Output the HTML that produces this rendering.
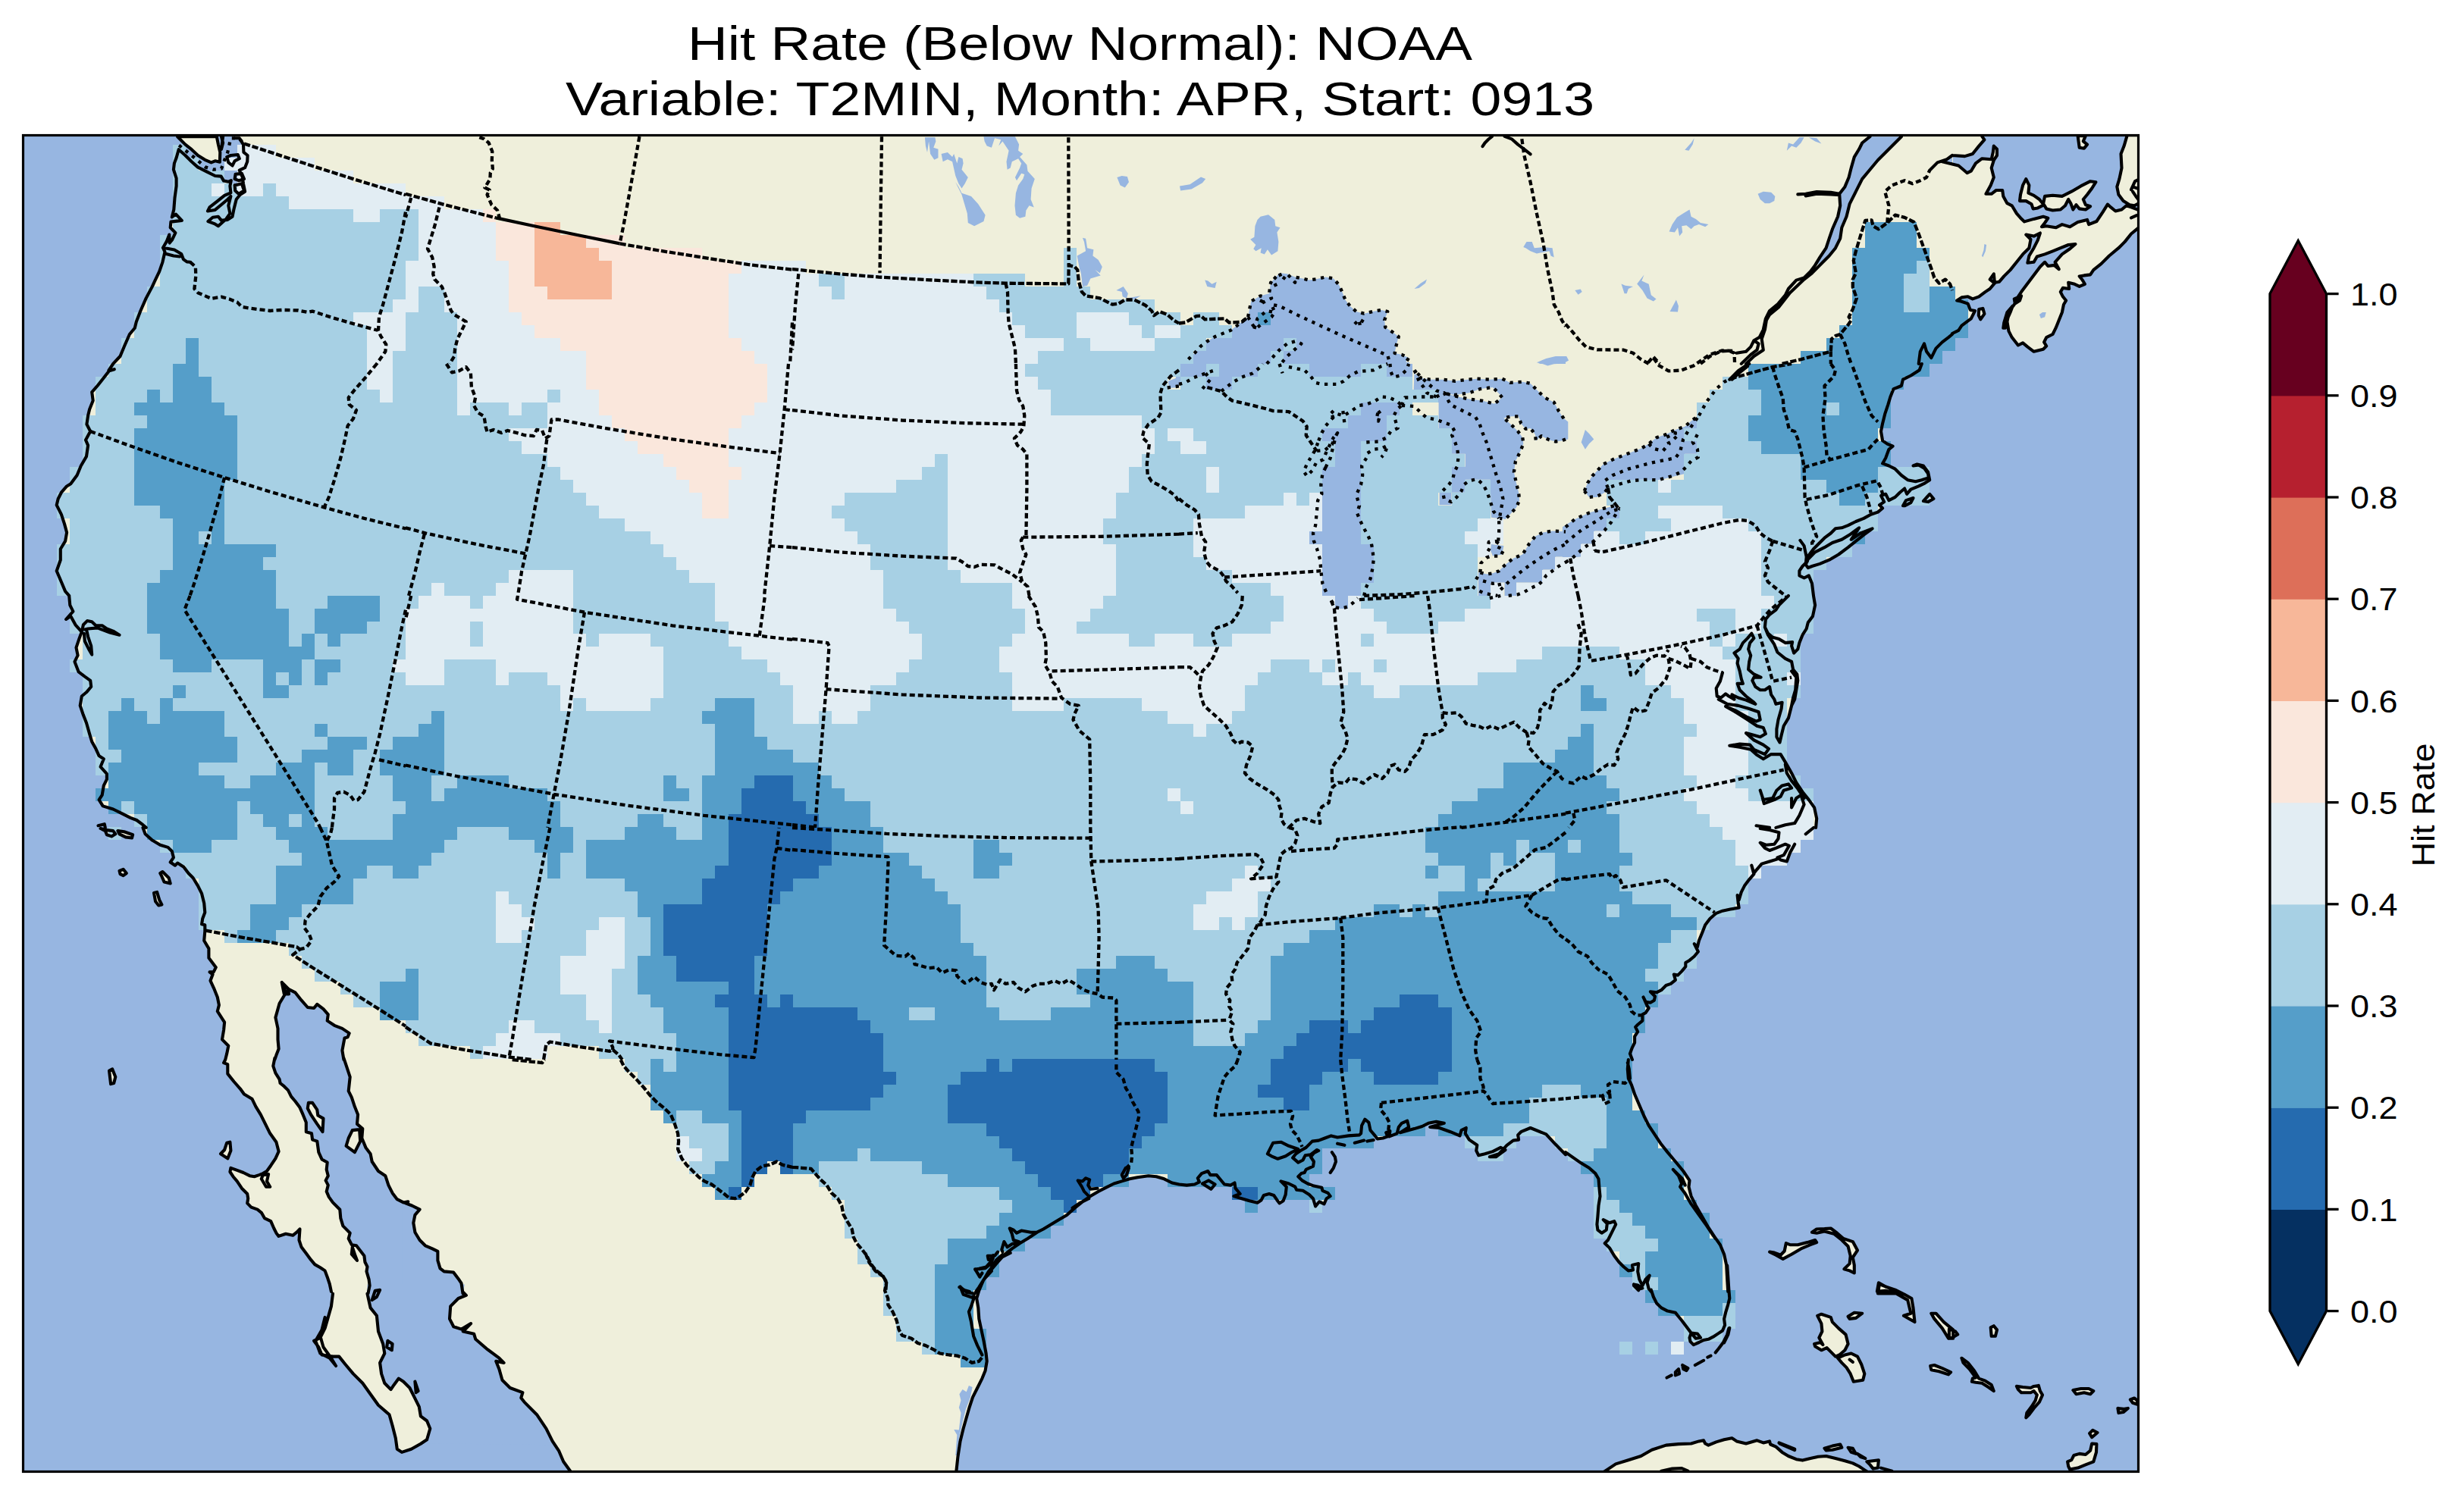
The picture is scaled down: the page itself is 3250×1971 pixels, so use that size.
<!DOCTYPE html>
<html><head><meta charset="utf-8"><title>Hit Rate (Below Normal): NOAA</title>
<style>
html,body{margin:0;padding:0;background:#fff;}
body{width:3250px;height:1971px;overflow:hidden;position:relative;font-family:"Liberation Sans",sans-serif;}
svg{position:absolute;left:0;top:0;display:block}
text{font-family:"Liberation Sans",sans-serif;fill:#000}
</style></head><body>
<svg xmlns="http://www.w3.org/2000/svg" width="3250" height="1971" viewBox="0 0 3250 1971">
<defs><clipPath id="fr"><rect x="30.5" y="178.5" width="2790" height="1763"/></clipPath></defs>
<text x="1424.5" y="79" text-anchor="middle" font-size="63.8" textLength="1035" lengthAdjust="spacingAndGlyphs">Hit Rate (Below Normal): NOAA</text>
<text x="1424.5" y="152" text-anchor="middle" font-size="63.8" textLength="1357" lengthAdjust="spacingAndGlyphs">Variable: T2MIN, Month: APR, Start: 0913</text>
<g clip-path="url(#fr)">
<rect x="29" y="177" width="2793" height="1766" fill="#97b6e1"/>
<g fill="#efefdb"><path d="M234.1 180.2 L244.4 190.6 L252.7 197.2 L261 205 L270.3 210.8 L278.6 214.4 L283.7 212.3 L289.9 213.7 L290.3 200.9 L287.9 190.6 L285.8 180.2Z"/><path d="M2575 216.4 L2583.3 218.5 L2589.5 223.7 L2594.7 228.2 L2599.8 225.7 L2606 215.4 L2614.3 209.2 L2626.7 210.2 L2628.8 200.9 L2629.8 192.6 L2634 196.8 L2634 205 L2629.8 211.3 L2626.7 221.6 L2629.8 234 L2625.7 244.4 L2619.5 255.8 L2626.7 255.8 L2633 251 L2641.2 251 L2642.3 258.9 L2647.4 268.2 L2653.7 271.3 L2659.9 281.6 L2665 287.4 L2670.2 292.4 L2682.6 288.9 L2695 285.8 L2701.3 287.8 L2697.1 294 L2693 299.2 L2699.2 298.2 L2711.6 300.3 L2719.9 296.1 L2730.2 299.2 L2740.6 293 L2753 289.9 L2755.1 296.1 L2765.4 292 L2773.7 279.6 L2779.9 269.6 L2784.1 273.4 L2790.3 278.5 L2798.5 276.5 L2804.7 271.3 L2811 273.4 L2822.3 277.5 L2822.3 299.2 L2811 308.5 L2802.7 318.9 L2794.4 327.2 L2782 337.5 L2771.6 347.9 L2761.3 356.1 L2757.1 362.4 L2748.9 363.4 L2742.7 364.4 L2746.8 369.6 L2749.9 374.8 L2742.7 377.9 L2736.4 374.8 L2728.2 372.7 L2729.2 381 L2720.9 379.9 L2717.8 385.1 L2720.9 391.3 L2725.1 396.5 L2722 401.7 L2719.9 412 L2715.7 422.4 L2711.6 432.7 L2707.5 441 L2699.2 445.1 L2696.1 451.4 L2699.2 456.5 L2695 460.7 L2686.8 462.7 L2682.6 463.8 L2674.4 457.6 L2668.1 452.4 L2661.9 455.5 L2653.7 445.1 L2649.5 436.9 L2647.4 424.4 L2650.5 410 L2656.8 401.7 L2661.9 391.3 L2666.1 385.1 L2672.3 376.8 L2678.5 368.6 L2684.7 360.3 L2690.9 352 L2697.1 345.8 L2701.3 351 L2709.5 349.9 L2715.7 355.1 L2710.6 345.8 L2719.9 335.4 L2730.2 328.2 L2737.5 322 L2728.2 323 L2717.8 327.2 L2707.5 331.3 L2697.1 335.4 L2686.8 338.5 L2682.6 345.8 L2674.4 346.8 L2676.4 337.5 L2682.6 327.2 L2687.8 316.8 L2690.9 307.5 L2682.6 311.6 L2672.3 309.6 L2678.5 315.8 L2676.4 327.2 L2668.1 335.4 L2659.9 345.8 L2651.6 356.1 L2643.3 364.4 L2637.1 371.7 L2630.9 372.7 L2629.8 361.3 L2624.7 368.6 L2630.9 373.7 L2624.7 381 L2618.5 385.1 L2610.2 391.3 L2601.9 394.4 L2595.7 391.3 L2587.4 392.4 L2581.2 396.5 L2586.4 397.5 L2595.7 400.6 L2598.8 408.9 L2605 410 L2599.8 420.3 L2595.7 423.4 L2587.4 429.6 L2583.3 435.8 L2575 440 L2570.9 440 L2570.9 216.4Z"/><path d="M2570.9 178.1 L2614.3 178.1 L2617.4 184.3 L2610.2 192.6 L2601.9 203 L2591.6 206.1 L2575 205 L2570.9 205Z"/><path d="M2664 265.1 L2665 256.8 L2668.1 244.4 L2672.3 236.1 L2676.4 244.4 L2675.4 254.7 L2682.6 257.8 L2689.9 263 L2695 269.2 L2697.1 258.9 L2707.5 257.8 L2719.9 258.9 L2732.3 252.7 L2744.7 245.4 L2757.1 239.2 L2764.4 240.2 L2759.2 248.5 L2753 256.8 L2747.8 263 L2750.9 270.2 L2757.1 272.3 L2750.9 276.5 L2742.7 275.4 L2738.5 270.2 L2734.4 276.5 L2731.3 268.2 L2728.2 263 L2724 271.3 L2717.8 276.5 L2707.5 277.5 L2699.2 275.4 L2696.1 270.2 L2687.8 274.4 L2681.6 275.4 L2679.5 269.2 L2672.3 265.1Z"/><path d="M2740.6 179.2 L2742.7 194.7 L2748.9 195.7 L2753 190.6 L2747.8 186.4 L2750.9 179.2Z"/><path d="M2805.8 178.1 L2801.6 192.6 L2797.5 203 L2798.5 221.6 L2795.4 236.1 L2792.3 246.4 L2794.4 256.8 L2800.6 265.1 L2808.9 270.2 L2815.1 271.3 L2823.4 267.1 L2823.4 178.1Z"/><path d="M2610.2 407.9 L2615.4 406.9 L2617.4 414.1 L2612.3 421.3 L2609.8 416.2Z"/><path d="M2384.8 737.7 L2394.1 728.4 L2406.5 722.2 L2416.9 716 L2429.3 711.8 L2439.6 705.6 L2447.9 699.4 L2452.1 696.3 L2445.8 705.6 L2441.7 711.8 L2454.1 703.5 L2469.6 697.3 L2458.3 705.6 L2447.9 713.9 L2437.6 722.2 L2425.1 731.5 L2412.7 738.7 L2400.3 743.9 L2390 747 L2384.8 749.1 L2381.7 744.9Z"/><path d="M2510 667.3 L2514.1 660.1 L2523.5 657 L2520.4 663.2 L2512.1 667.3Z"/><path d="M2536.9 661.1 L2545.2 651.8 L2550.4 658 L2543.1 662.1Z"/><path d="M132.6 1093 L140.9 1095.1 L149.2 1096.1 L152.3 1100.3 L147.1 1103.4 L140.9 1101.3 L138.8 1096.1Z"/><path d="M155.4 1096.1 L163.7 1097.2 L175.1 1101.3 L174 1105.5 L165.7 1104.4 L157.5 1100.3Z"/><path d="M157.5 1148.9 L162.6 1146.8 L166.8 1152 L162.6 1155.1 L158.5 1153.1Z"/><path d="M211.3 1152 L214.4 1150 L222.7 1158.2 L224.7 1165.5 L216.5 1163.4 L213.4 1156.2Z"/><path d="M203 1177.9 L207.1 1176.9 L210.2 1187.2 L213.4 1193.4 L209.2 1194.5 L205.1 1189.3Z"/><path d="M291 1522.2 L296.1 1517 L299.2 1507.7 L303.4 1506.7 L304.4 1518 L300.3 1528.4Z"/><path d="M144 1412.5 L148.2 1410.4 L152.3 1420.8 L150.2 1429 L146.1 1430.1Z"/><path d="M2334.1 1651.6 L2342.4 1655.7 L2351.7 1660.9 L2363.1 1654.7 L2375.5 1647.4 L2387.9 1642.2 L2396.2 1639.1 L2394.1 1636 L2383.8 1639.1 L2371.3 1642.2 L2361 1642.2 L2355.8 1640.2 L2353.7 1650.5 L2348.6 1655.7 L2340.3 1652.6Z"/><path d="M2390 1625.7 L2396.2 1621.5 L2406.5 1621.1 L2414.8 1620.5 L2423.1 1626.7 L2431.4 1634 L2443.8 1638.1 L2450 1649.5 L2443.8 1658.8 L2445.8 1669.1 L2445.8 1679.5 L2439.6 1676.4 L2432.4 1674.3 L2439.6 1667.1 L2440.7 1656.7 L2437.6 1644.3 L2429.3 1636 L2418.9 1627.7 L2406.5 1624.6 L2396.2 1626.7Z"/><path d="M2476.9 1706.4 L2479 1694 L2491.4 1699.2 L2505.9 1706.4Z"/><path d="M2397.2 1735.8 L2402.4 1733.7 L2414.8 1737.9 L2416.9 1744.1 L2425.1 1752.4 L2434.5 1760.6 L2437.6 1773 L2433.4 1781.3 L2426.2 1787.5 L2421 1789.6 L2414.8 1783.4 L2409.6 1778.2 L2402.4 1781.3 L2394.1 1776.2 L2393.1 1773 L2401.3 1771 L2404.4 1774.1 L2399.3 1764.8 L2403.4 1756.5 L2402.4 1746.1Z"/><path d="M2424.1 1791.7 L2433.4 1787.5 L2441.7 1785.5 L2450 1789.6 L2455.2 1800 L2459.3 1812.4 L2457.2 1820.7 L2444.8 1822.7 L2440.7 1812.4 L2435.5 1804.1 L2429.3 1797.9Z"/><path d="M2437.6 1736.8 L2445.8 1731.7 L2456.2 1732.7 L2447.9 1738.9 L2439.6 1739.9Z"/><path d="M2475.9 1703.7 L2477.9 1692.3 L2487.2 1697.5 L2499.7 1701.6 L2512.1 1707.8 L2521.4 1713 L2523.5 1725.4 L2525.5 1744.1 L2518.3 1739.9 L2511 1735.8 L2520.4 1732.7 L2516.2 1715.1 L2499.7 1705.8 L2487.2 1702.7Z"/><path d="M2547.3 1732.7 L2553.5 1732.7 L2563.8 1744.1 L2576.2 1754.4 L2576.2 1765.8 L2570 1765.8 L2561.8 1752.4 L2551.4 1739.9Z"/><path d="M2546.2 1802 L2551.4 1801 L2561.8 1805.1 L2573.1 1810.3 L2570 1813.4 L2557.6 1809.3 L2547.3 1807.2Z"/><path d="M2115.7 1941.7 L2131.2 1931.4 L2147.8 1926.2 L2164.4 1921 L2178.8 1912.8 L2197.5 1906.6 L2214 1905.1 L2230.6 1904.5 L2240.9 1901.4 L2247.1 1900.3 L2249.2 1904.5 L2253.4 1906.6 L2263.7 1902.4 L2274.1 1899.3 L2284.4 1897.2 L2290.6 1901.4 L2303 1904.5 L2317.5 1900.3 L2325.8 1903.4 L2334.1 1901.4 L2335.1 1905.5 L2342.4 1908.6 L2350.6 1915.9 L2358.9 1921 L2369.3 1925.2 L2377.5 1926.6 L2387.9 1924.1 L2398.2 1921.7 L2408.6 1921 L2421 1924.1 L2433.4 1927.2 L2443.8 1930.4 L2452.1 1934.5 L2458.3 1938.6 L2464.5 1942.8 L2464.5 1946.9 L2115.7 1946.9Z"/><path d="M2406.5 1910.7 L2416.9 1907.6 L2427.2 1905.5 L2429.3 1909.7 L2416.9 1912.8 L2408.6 1913.4Z"/><path d="M2437.6 1909.7 L2443.8 1910.7 L2447.9 1917.9 L2441.7 1915.9Z"/><path d="M2462.4 1928.3 L2477.9 1926.2 L2476.9 1936.6 L2470.7 1937.6 L2466.5 1932.4Z"/><path d="M2570.9 1753.4 L2579.1 1756.5 L2582.2 1760.6 L2575 1764.8 L2570.9 1765.8Z"/><path d="M2625.7 1751.3 L2629.8 1749.2 L2634 1754.4 L2631.9 1762.7 L2626.7 1762.7Z"/><path d="M2587.4 1791.7 L2595.7 1797.9 L2604 1808.2 L2610.2 1818.6 L2618.5 1821.7 L2626.7 1826.9 L2629.8 1835.1 L2622.6 1830 L2614.3 1824.8 L2606 1823.8 L2600.9 1822.7 L2601.9 1818.6 L2606 1817.5 L2597.8 1806.2 L2589.5 1797.9Z"/><path d="M2659.9 1828.9 L2668.1 1830 L2678.5 1831 L2682.6 1828.9 L2688.8 1827.9 L2690.9 1835.1 L2694 1840.3 L2689.9 1849.6 L2682.6 1857.9 L2676.4 1866.2 L2672.3 1870.3 L2673.3 1864.1 L2679.5 1855.8 L2684.7 1847.6 L2686.8 1840.3 L2682.6 1835.1 L2678.5 1837.2 L2666.1 1837.2 L2661.9 1833.1Z"/><path d="M2734.4 1834.1 L2744.7 1832 L2755.1 1832 L2761.3 1835.1 L2757.1 1839.3 L2748.9 1837.2 L2738.5 1839.3Z"/><path d="M2793.4 1857.9 L2800.6 1858.9 L2806.8 1857.9 L2800.6 1863.1 L2794.4 1864.1Z"/><path d="M2809.9 1846.5 L2815.1 1844.5 L2819.2 1847.6 L2819.2 1852.7 L2813 1850.7Z"/><path d="M2756.1 1891 L2760.2 1886.9 L2766.5 1890 L2759.2 1896.2Z"/><path d="M2727.1 1928.3 L2732.3 1926.2 L2735.4 1920 L2742.7 1917.9 L2750.9 1919 L2757.1 1913.8 L2759.2 1904.5 L2765.4 1905.1 L2765 1915.9 L2761.3 1928.3 L2750.9 1932.4 L2740.6 1936.6 L2730.2 1938.6 L2728.2 1934.5Z"/><path d="M310.6 182.3 L315.8 182.3 L321 190.6 L321.4 200.9 L326.6 205 L326.2 213.3 L323.1 221.2 L315.8 224.7 L319.9 234 L321 242.3 L323.1 252.7 L316.8 256.8 L311.7 263 L308.6 275.4 L306.5 285.8 L300.3 289.9 L292 290.9 L287.9 285.8 L280.6 286.8 L274.4 292 L282.7 295.1 L287.9 298.2 L298.2 288.9 L303.4 281.6 L301.3 271.3 L304.4 258.9 L300.3 263 L294.1 268.2 L283.7 276.9 L274 278.5 L276.5 273.4 L285.8 266.1 L296.1 257.8 L304.4 254.3 L303.4 245.4 L304.8 238.2 L301.3 239.8 L295.1 238.6 L291.6 232.6 L283.7 232 L273.4 226.8 L261 220.6 L252.7 213.3 L244.4 205 L235.7 197.2 L232.6 208.2 L229.9 215.4 L228.9 223.7 L232.6 235.1 L232.6 245.4 L230.5 260.9 L229.3 276.5 L226.8 286.4 L232 282.7 L239.8 290.9 L225.4 292.6 L224.7 300.3 L231.4 307.1 L226.8 316.8 L223.7 320.5 L223.3 309.6 L219.6 318.9 L215 326.8 L217.5 332.3 L214.4 345.8 L210.2 358.2 L204.7 369.6 L200.9 377.9 L192.7 393.4 L185.4 410 L179.8 424.4 L177.8 432.7 L170.9 441 L164.1 456.5 L158.5 470 L149.2 479.9 L149.2 480 L143.4 488.7 L150.8 487.2 L144 489.3 L136.8 498.6 L128.5 509 L121.2 517.3 L122.7 528.6 L118.1 540 L116.1 548.3 L114.4 559.7 L119.2 569 L113 580.4 L116.1 587.6 L114 602.1 L106.8 614.5 L101.6 627 L93.3 638.3 L88.1 641.4 L80.9 649.7 L76.7 658 L74.7 666.3 L80.9 678.7 L85 691.1 L88.1 702.5 L86.1 713.9 L79.8 724.2 L79.8 738.7 L74.7 753.2 L80.9 767.7 L86.1 780.1 L91.2 785.9 L91.2 786 L92.3 798.4 L96.4 806.7 L87.1 817 L93.3 812.9 L99.5 824.3 L107.8 833.6 L104.7 841.9 L100.5 854.3 L102.6 864.7 L98.5 872.9 L103.7 886.4 L111.9 892.6 L119.2 897.8 L120.2 906 L114 913.3 L107.8 918.5 L105.7 930.9 L109.9 943.3 L114 953.7 L118.1 968.1 L121.2 978.5 L126.4 987.8 L130.6 997.1 L136.8 1001.3 L132.6 1011.6 L140.9 1020.9 L140.9 1028.2 L136.8 1036.4 L134.7 1048.9 L130.6 1055.1 L135.7 1063.4 L149.2 1067.5 L161.6 1073.7 L172 1078.9 L180.2 1082 L188.5 1088.2 L192.7 1091.9 L188.5 1092 L191.6 1100.3 L200.9 1108.6 L211.3 1114.8 L221.6 1117.9 L226.8 1123 L228.9 1131.3 L224.7 1137.5 L230.9 1141.7 L234.1 1138.6 L242.3 1143.7 L248.5 1152 L254.7 1158.2 L261 1168.6 L266.1 1178.9 L269.2 1191.4 L270.3 1203.8 L267.2 1212 L266.1 1219.3 L270.3 1220.3 L270.3 1228.6 L269.2 1241 L275.4 1251.4 L275.4 1263.8 L284.8 1276.2 L281.7 1282.4 L276.5 1282.4 L280.6 1285.5 L277.5 1293.8 L282.7 1305.2 L286.8 1315.5 L288.9 1325.9 L286.8 1334.2 L296.1 1348.7 L295.1 1359 L293 1371.4 L301.3 1379.7 L299.2 1390.1 L297.2 1397.9 L297.2 1398 L295.1 1402.1 L300.3 1404.2 L300.3 1416.6 L308.6 1427 L316.8 1436.3 L322 1443.5 L332.4 1449.7 L337.5 1460.1 L343.8 1470.4 L350 1482.9 L356.2 1495.3 L364.4 1506.7 L367.6 1519.1 L363.4 1528.4 L357.2 1537.7 L352 1545 L346.9 1548.1 L341.7 1550.1 L335.5 1552.2 L329.3 1551.2 L321 1547 L312.7 1543.9 L304.4 1540.8 L303.4 1546 L307.5 1552.2 L312.7 1558.4 L318.9 1567.7 L326.2 1575 L327.2 1581.2 L326.2 1587.4 L331.3 1592.6 L339.6 1595.7 L344.8 1599.8 L348.9 1607.1 L357.2 1611.2 L361.3 1620.5 L364.4 1626.7 L367.6 1630.9 L376.9 1627.7 L386.2 1629.8 L391.4 1625.7 L395.5 1621.5 L394.5 1636 L397.6 1645.3 L403.8 1653.6 L410 1661.9 L415.2 1668.1 L422.4 1672.2 L428.6 1676.4 L431.7 1684.7 L434.8 1694 L436.9 1703.9 L439 1706.8 L436.9 1723.4 L432.8 1737.9 L428.6 1752.4 L422.4 1764.8 L414.1 1768.9 L420.3 1777.2 L424.5 1787.5 L439 1789.6 L447.2 1789.6 L455.5 1800 L465.9 1812.4 L478.3 1824.8 L488.6 1839.3 L499 1853.8 L513.5 1866.2 L517.6 1880.7 L521.8 1897.2 L523.8 1911.7 L530 1915.9 L542.5 1911.7 L554.9 1904.7 L563.1 1899.3 L728.7 1901.4 L737 1913.8 L743.2 1928.3 L753.6 1942.8 L753.6 1960 L1261.3 1960 L1261.3 1941.7 L1263.4 1922.1 L1266.5 1901.4 L1270.6 1884.8 L1274.7 1870.3 L1278.9 1855.8 L1283 1843.4 L1289.2 1831 L1295.4 1818.6 L1299.6 1808.2 L1301.7 1795.8 L1300.6 1785.5 L1297.5 1768.9 L1294.4 1754.4 L1291.3 1739.9 L1290.3 1725.4 L1288.2 1713 L1291.3 1702.7 L1296.5 1690.3 L1303.7 1677.8 L1312 1667.5 L1320.3 1659.2 L1332.7 1653 L1334.8 1647.4 L1345.1 1640.2 L1355.5 1634 L1367.9 1625.7 L1376.2 1621.5 L1386.5 1615.3 L1396.9 1609.1 L1407.2 1602.9 L1417.6 1593.6 L1427.9 1585.3 L1438.3 1578.1 L1448.6 1571.9 L1459 1566.7 L1469.3 1561.5 L1479.7 1558.4 L1490 1555.3 L1500.4 1553.2 L1514.8 1551.2 L1525.2 1552.2 L1535.5 1555.3 L1545.9 1560.5 L1555 1562.5 L1555 1562.5 L1565.3 1563.6 L1575.7 1562.5 L1581.9 1559.4 L1579.8 1554.3 L1585 1548.1 L1593.3 1545 L1596.4 1550.1 L1604.7 1550.1 L1609.8 1556.3 L1615 1562.5 L1623.3 1563.6 L1628.5 1560.5 L1629.5 1567.7 L1635.7 1575 L1627.4 1578.1 L1637.8 1581.2 L1648.1 1584.3 L1658.5 1586.8 L1663.7 1583.2 L1666.8 1577 L1674 1575 L1680.2 1577 L1684.4 1583.2 L1687.5 1587.4 L1692.6 1584.3 L1695.7 1576 L1696.8 1565.7 L1689.5 1558.4 L1699.9 1561.5 L1708.2 1565.7 L1710.2 1569.8 L1718.5 1570.8 L1726.8 1576 L1732 1581.2 L1735.1 1591.5 L1740.2 1585.3 L1746.5 1588.4 L1749.6 1581.2 L1754.7 1578.1 L1751.6 1573.9 L1744.4 1570.8 L1743.4 1566.7 L1733 1564.6 L1724.7 1561.5 L1717.5 1557.4 L1712.3 1552.2 L1716.4 1548.1 L1720.6 1547 L1722.7 1542.9 L1732 1538.7 L1733 1532.5 L1728.9 1526.3 L1733 1521.2 L1739.2 1518 L1737.1 1517 L1728.9 1523.2 L1721.6 1524.3 L1718.5 1530.5 L1712.3 1533.6 L1705.1 1527.4 L1709.2 1522.2 L1715.4 1518 L1722.7 1513.9 L1730.9 1505.6 L1739.2 1504.6 L1747.5 1501.5 L1755.8 1498.4 L1764.1 1500.5 L1778.5 1498.4 L1793 1497.4 L1795.1 1495.3 L1796.1 1484.9 L1800.3 1476.7 L1805.4 1480.8 L1807.5 1491.1 L1813.7 1498.4 L1816.8 1502.5 L1824.1 1501.5 L1830.3 1499.4 L1828.2 1494.2 L1833.4 1492.2 L1832.4 1499.4 L1842.7 1495.3 L1844.8 1487 L1848.9 1481.8 L1856.2 1478.7 L1858.2 1487 L1846.8 1494.2 L1865.5 1489.1 L1875.8 1486 L1884.1 1481.8 L1894.4 1479.8 L1904.8 1481.8 L1886.2 1487 L1898.6 1488 L1913.1 1493.2 L1925.5 1498.4 L1927.6 1491.1 L1933.8 1488 L1932.7 1495.3 L1937.9 1503.6 L1948.3 1510.8 L1947.2 1518 L1950.3 1524.3 L1958.6 1522.2 L1969 1519.1 L1979.3 1513.9 L1985.5 1517 L1973.1 1526.3 L1964.8 1526.3 L1977.2 1522.2 L1987.6 1510.8 L1995.9 1504.6 L2003.1 1503.6 L2002.1 1497.4 L2006.2 1493.2 L2018.6 1488 L2039.3 1496.3 L2051.8 1509.8 L2065 1523.2 L2065 1520.1 L2075.3 1527.4 L2085.7 1534.6 L2096 1540.8 L2104.3 1548.1 L2108.5 1555.3 L2109.5 1567.7 L2110.5 1578.1 L2108.5 1590.5 L2107.4 1605 L2106.4 1615.3 L2107.4 1622.6 L2112.6 1626.7 L2118.8 1622.6 L2119.8 1614.3 L2114.7 1609.1 L2123 1613.3 L2129.2 1611.2 L2131.2 1615.3 L2126.1 1625.7 L2120.9 1636 L2116.7 1640.2 L2123 1646.4 L2129.2 1656.7 L2135.4 1665 L2141.6 1671.2 L2147.8 1676.4 L2154 1675.4 L2153 1669.1 L2161.2 1667.1 L2160.2 1677.4 L2162.3 1687.8 L2166.4 1696.1 L2170.6 1687.8 L2175.7 1682.6 L2172.6 1691.9 L2174.7 1700.2 L2177.8 1703.9 L2177.8 1701.6 L2180.9 1711 L2185 1719.2 L2191.3 1725.4 L2199.5 1729.6 L2209.9 1731.7 L2213 1735.8 L2218.2 1742 L2224.4 1750.3 L2230.6 1758.6 L2228.5 1764.8 L2229.5 1769.9 L2233.7 1774.1 L2240.9 1771 L2247.1 1767.9 L2253.4 1766.8 L2259.6 1763.7 L2265.8 1759.6 L2272 1755.5 L2275.1 1748.2 L2274.1 1739.9 L2276.1 1731.7 L2279.2 1721.3 L2281.3 1713 L2280.3 1700.6 L2279.2 1703.9 L2278.2 1687.8 L2277.2 1669.1 L2274.1 1654.7 L2268.9 1642.2 L2261.6 1631.9 L2253.4 1619.5 L2245.1 1605 L2236.8 1590.5 L2230.6 1578.1 L2227.5 1565.7 L2228.5 1557.4 L2220.2 1545 L2209.9 1532.5 L2199.5 1520.1 L2191.3 1509.8 L2183 1497.4 L2174.7 1484.9 L2168.5 1472.5 L2162.3 1458 L2156.1 1443.5 L2151.9 1431.1 L2147.8 1422.8 L2146.8 1410.4 L2147.8 1398 L2153 1397.9 L2149.9 1390.1 L2153 1381.8 L2156.1 1375.6 L2156.1 1367.3 L2160.2 1361.1 L2157.1 1354.9 L2160.2 1351.8 L2166.4 1346.6 L2166.4 1338.3 L2170.6 1336.2 L2174.7 1330 L2172.6 1326.9 L2167.5 1315.5 L2170.6 1321.7 L2176.8 1322.8 L2181.9 1319.7 L2183 1314.5 L2176.8 1308.3 L2185 1309.3 L2191.3 1306.2 L2197.5 1300 L2203.7 1297.9 L2209.9 1292.8 L2207.8 1285.5 L2213 1286.6 L2218.2 1281.4 L2223.3 1275.2 L2223.3 1270 L2228.5 1266.9 L2234.7 1261.7 L2239.9 1255.5 L2234.7 1245.2 L2238.9 1249.3 L2240.9 1241 L2245.1 1230.7 L2249.2 1220.3 L2255.4 1212 L2263.7 1204.8 L2272 1201.7 L2282.3 1199.6 L2293.7 1197.6 L2292.7 1191.4 L2291.6 1181 L2293.7 1187.2 L2296.8 1176.9 L2301 1168.6 L2307.2 1160.3 L2313.4 1153.1 L2310.3 1141.7 L2313.4 1152 L2317.5 1146.8 L2323.7 1139.6 L2334.1 1136.5 L2344.4 1133.4 L2356.8 1136.5 L2361 1125.1 L2367.2 1113.7 L2381.7 1100.3 L2392 1092 L2395.1 1091.9 L2396.2 1079.9 L2393.1 1065.4 L2385.8 1055.1 L2377.5 1044.7 L2369.3 1032.3 L2363.1 1019.9 L2354.8 1005.4 L2347.5 979.5 L2349.6 970.2 L2352.7 957.8 L2358.9 947.4 L2363.1 930.9 L2367.2 922.6 L2369.3 910.2 L2371.3 897.8 L2370.3 889.5 L2365.1 883.3 L2363.1 872.9 L2354.8 868.8 L2344.4 860.5 L2340.3 850.2 L2332 837.7 L2327.9 827.4 L2328.9 817 L2327.9 827.4 L2332 835.7 L2338.2 840.8 L2346.5 842.9 L2354.8 848.1 L2364.1 847.1 L2363.1 852.2 L2366.2 861.5 L2371.3 856.4 L2373.4 848.1 L2377.5 837.7 L2382.7 829.5 L2384.8 821.2 L2391 812.9 L2394.1 798.4 L2392 786 L2392 785.9 L2390 769.8 L2385.8 759.4 L2379.6 762.5 L2373.4 759.4 L2373.4 753.2 L2377.5 747 L2383.8 740.8 L2385.8 732.5 L2392 724.2 L2398.2 718 L2406.5 709.7 L2414.8 703.5 L2421 697.3 L2429.3 696.3 L2437.6 693.2 L2447.9 688 L2458.3 683.9 L2467.6 678.7 L2476.9 675.6 L2483.1 670.4 L2479 666.3 L2485.2 662.1 L2481 653.9 L2487.2 651.8 L2491.4 660.1 L2499.7 655.9 L2505.9 649.7 L2512.1 644.5 L2515.2 651.8 L2520.4 645.6 L2530.7 641.4 L2539 637.3 L2545.2 633.2 L2543.1 622.8 L2536.9 614.5 L2528.6 612.5 L2523.5 614.5 L2530.7 613.5 L2538 617.6 L2543.1 624.9 L2544.2 632.1 L2541.1 631.1 L2534.8 633.2 L2526.6 635.2 L2516.2 633.2 L2507.9 627 L2499.7 618.7 L2491.4 614.5 L2483.1 611.4 L2487.2 604.2 L2491.4 592.8 L2496.6 588.7 L2489.3 585.6 L2483.1 581.4 L2481 569 L2483.1 558.7 L2486.2 546.2 L2490.3 533.8 L2493.4 523.5 L2497.6 513.1 L2507.9 509 L2510 500.7 L2520.4 495.5 L2531.7 488.3 L2534.8 480 L2530.7 479.9 L2532.8 463.8 L2538 453.4 L2541.1 463.8 L2547.3 472.1 L2553.5 459.6 L2561.8 451.4 L2570 445.1 L2575 441 L2576 441 L2576 170 L310.6 170Z"/></g>
<g fill="#97b6e1"><path d="M1260.3 240.2 L1264.4 246.4 L1268.5 254.7 L1281 258.9 L1290.3 269.2 L1299.6 283.7 L1297.5 292 L1285.1 298.2 L1276.8 294 L1275.8 281.6 L1268.5 256.8 L1262.3 244.4Z"/><path d="M1241.6 203 L1249.9 200.9 L1256.1 207.1 L1258.2 203 L1262.3 215.4 L1264.4 207.1 L1269.6 209.2 L1270.6 215.4 L1268.5 223.7 L1276.8 234 L1272.7 242.3 L1268.5 248.5 L1264.4 242.3 L1260.3 232 L1256.1 213.3 L1249.9 210.2 L1243.7 213.3Z"/><path d="M1219.9 181.2 L1233.4 181.2 L1234.4 186.4 L1231.3 194.7 L1237.5 196.8 L1237.5 208.2 L1232.3 210.8 L1227.1 203 L1225.1 186.4 L1223 200.9 L1220.9 192.6Z"/><path d="M1297.5 180.2 L1338.9 180.2 L1344.1 190.6 L1343.1 198.8 L1349.3 203 L1345.1 207.1 L1354.4 217.5 L1355.5 225.7 L1364.8 236.1 L1360.6 248.5 L1359.6 263 L1363.8 273.4 L1357.5 271.3 L1353.4 277.5 L1352.4 285.8 L1345.1 287.8 L1339.9 283.7 L1338.5 271.3 L1339.9 254.7 L1343.1 244.4 L1349.3 236.1 L1351.3 229.9 L1347.2 228.8 L1341 238.2 L1338.9 234 L1345.1 221.6 L1347.2 215.4 L1343.1 209.2 L1334.8 213.3 L1332.7 221.6 L1328.6 223.7 L1327.5 213.3 L1330.6 198.8 L1322.4 186.4 L1317.2 192.6 L1320.3 184.3 L1312 182.3 L1307.9 194.7 L1301.7 192.6 L1298.6 186.4Z"/><path d="M1427.9 313.7 L1432.1 314.7 L1434.1 327.2 L1442.4 329.2 L1441.4 337.5 L1448.6 342.7 L1453.8 352 L1450.7 360.3 L1444.5 356.1 L1451.7 363.4 L1438.3 367.5 L1434.1 376.8 L1427.9 377.9 L1425.8 360.3 L1423.8 354.1 L1420.7 337.5 L1432.1 331.3 L1430 318.9Z"/><path d="M1473.4 234 L1479.7 232 L1486.9 233 L1489 240.2 L1483.8 247.5 L1477.6 244.4Z"/><path d="M1472.4 383.1 L1481.7 377.9 L1487.9 387.2 L1485.9 393.4 L1480.7 391.3 L1479.7 385.1Z"/><path d="M1485.9 393.4 L1504.5 390.3 L1496.2 395.1Z"/><path d="M1646.1 418.2 L1650.2 397.5 L1662.6 390.3 L1674 387.2 L1676.1 372.7 L1679.2 369.6 L1687.5 360.3 L1697.8 361.3 L1708.2 365.5 L1718.5 367.5 L1726.8 369.6 L1737.1 368.1 L1748.5 365.5 L1758.9 367.5 L1766.1 375.8 L1770.3 385.1 L1774.4 395.5 L1780.6 403.7 L1788.9 411 L1799.2 413.7 L1810.6 411 L1822 408.9 L1830.3 411 L1826.1 422.4 L1827.2 431.7 L1836.5 437.9 L1844.8 444.1 L1841.7 455.5 L1839.6 465.8 L1848.9 467.9 L1858.2 472.1 L1853.1 479.9 L1853.1 484.5 L1670.9 484.5 L1687.5 461.7 L1697.8 453.4 L1716.4 453.4 L1697.8 470 L1689.5 484.5 L1567.4 484.5 L1567.4 474.1 L1575.7 465.8 L1584 456.5 L1592.3 450.3 L1602.6 444.1 L1623.3 435.8 L1631.6 429.6Z"/><path d="M1662.6 285.8 L1673 283.3 L1681.3 289.9 L1682.3 298.2 L1688.5 300.3 L1684.4 306.5 L1686.4 318.9 L1685.4 331.3 L1677.1 336.5 L1671.9 329.2 L1667.8 335.4 L1662.6 333.4 L1663.7 327.2 L1656.4 331.3 L1653.3 328.2 L1656.4 323 L1649.2 315.8 L1654.4 312.7 L1655.4 298.2 L1658.5 289.9Z"/><path d="M1556 245.4 L1569.5 243.3 L1584 233.4 L1590.2 236.1 L1586 241.3 L1571.6 249.5 L1557.1 251.6Z"/><path d="M1589.2 369.6 L1593.3 370.6 L1598.5 374.8 L1604.7 371.7 L1602.6 379.9 L1592.3 377.9Z"/><path d="M1865.5 381 L1873.8 373.7 L1882 368.6 L1880 373.7 L1871.7 379.9Z"/><path d="M2009.3 326.1 L2013.5 318.9 L2020.7 318.9 L2023.8 327.2 L2035.2 326.1 L2047.6 327.2 L2049.7 339.6 L2045.5 337.5 L2043.5 331.3 L2026.9 334.4 L2018.6 331.3 L2012.4 327.2Z"/><path d="M2029 479.9 L2037.3 477.2 L2055.9 475.2 L2065 478.3 L2065 479.9Z"/><path d="M2466.5 180.2 L2456.2 188.5 L2452.1 196.8 L2445.8 207.1 L2441.7 221.6 L2438.6 234 L2433.4 246.4 L2426.2 255.8 L2427.2 271.3 L2424.1 285.8 L2416.9 302.3 L2412.7 314.7 L2408.6 327.2 L2400.3 339.6 L2394.1 349.9 L2404.4 345.8 L2412.7 337.5 L2421 327.2 L2427.2 314.7 L2429.3 300.3 L2435.5 285.8 L2439.6 269.2 L2447.9 252.7 L2456.2 236.1 L2466.5 223.7 L2476.9 211.3 L2491.4 196.8 L2507.9 180.2Z"/><path d="M2561.8 213.3 L2575 207.1 L2575 216.4Z"/><path d="M2318.6 255.8 L2325.8 252.7 L2336.1 253.7 L2341.3 258.9 L2340.3 265.1 L2334.1 268.2 L2327.9 268.2 L2321.7 263Z"/><path d="M2201.6 305.4 L2205.7 296.1 L2212 286.8 L2220.2 281.6 L2228.5 276.5 L2230.6 285.8 L2236.8 288.9 L2243 294 L2253.4 296.1 L2249.2 299.2 L2240.9 296.1 L2234.7 298.2 L2230.6 302.3 L2224.4 297.2 L2218.2 298.2 L2219.2 306.5 L2215.1 311.6 L2213 300.3 L2208.9 306.5Z"/><path d="M2077.4 383.1 L2084.7 381.6 L2086.7 385.1 L2081.6 388.8Z"/><path d="M2138.5 374.4 L2143.7 376.8 L2154 377.9 L2147.8 381 L2145.7 387.2 L2142.6 387.2Z"/><path d="M2159.2 374.4 L2168.5 362.4 L2165.4 370.6 L2174.7 374.8 L2177.8 389.3 L2184.6 394.4 L2180.9 397.5 L2172.6 393.4 L2166.4 383.1Z"/><path d="M2202.6 411 L2210.9 395.5 L2214 403.7 L2213 411.6Z"/><path d="M2222.3 197.8 L2230.6 188.5 L2234.7 182.3 L2232.7 190.6 L2227.5 198.8Z"/><path d="M2356.8 198.8 L2358.9 188.5 L2365.1 190.6 L2373.4 181.2 L2379.6 181.2 L2375.5 188.5 L2369.3 194.7 L2363.1 192.6Z"/><path d="M2385.8 181.2 L2396.2 182.3 L2402.4 189.5 L2394.1 186.4Z"/><path d="M2617.4 322 L2620.1 323 L2618.9 331.3 L2615.4 339.2 L2613.9 337.5 L2616.4 330.3Z"/><path d="M2689.9 415.1 L2694 412 L2698.8 412 L2697.1 418.2 L2691.9 419.9Z"/><path d="M1540.7 502.8 L1555 497.6 L1555 511 L1541.8 512.1Z"/><path d="M1550.9 475.9 L1666.8 475.9 L1662.6 484.1 L1652.3 492.4 L1637.8 497.6 L1625.4 505.9 L1610.9 515.2 L1596.4 502.8 L1590.2 492.4 L1573.6 498.6 L1563.3 504.8 L1550.9 507.9Z"/><path d="M1832.4 477.9 L1859.3 477.9 L1855.1 488.3 L1848.9 494.5 L1836.5 497.6 L1832.4 490.3Z"/><path d="M1864.4 530.9 L1864.4 521.4 L1865.5 492.4 L1873.8 498.6 L1886.2 500.7 L1902.7 500.7 L1919.3 502.8 L1935.8 500.7 L1948.3 499.7 L1964.8 500.7 L1981.4 499.7 L1991.7 504.8 L2008.3 503.8 L2018.6 505.9 L2029 516.2 L2037.3 524.5 L2049.7 530.7 L2055.9 542.1 L2062.1 551.4 L2068.3 556.6 L2068.3 579.4 L2060 581.4 L2051.8 582.5 L2043.5 580.4 L2033.1 575.2 L2025.9 581.4 L2024.8 573.1 L2018.6 564.9 L2012.4 565.9 L2006.2 558.7 L2003.1 549.3 L1993.8 549.3 L1983.4 551.4 L1993.8 560.7 L2002.1 569 L2008.3 577.3 L2009.3 585.6 L2004.1 598 L1999 608.3 L1996.9 622.8 L2000 637.3 L2003.1 649.7 L2004.1 660.1 L2000 669.4 L1991.7 678.7 L1985.5 684.9 L1978.3 683.9 L1966.9 682.8 L1965.6 632.8 L1932.7 632.8 L1932.7 649.7 L1898.6 649.7 L1898.6 666.3 L1914.5 666.3 L1914.5 615.8 L1932.7 615.8 L1932.7 598.8 L1914.5 598.8 L1914.5 564.9 L1897.6 564.9 L1897.6 530.9Z"/><path d="M1966.9 718 L1983.4 720.1 L1981.4 731.5 L1969 733.6 L1965.9 726.3Z"/><path d="M1949.9 755.3 L1952.4 755.3 L1960.7 757.4 L1969 756.3 L1977.2 753.2 L1985.5 744.9 L1995.9 736.7 L2008.3 731.5 L2016.6 718 L2024.8 707.7 L2035.2 702.5 L2047.6 700.4 L2068.3 701.5 L2068.3 734.6 L2051.8 734.6 L2051.8 751.6 L2035.2 751.6 L2035.2 768.5 L2000 768.5 L2000 788.4 L1984.5 788.4 L1984.5 768.5 L1966.9 768.5 L1966.9 788.4 L1949.9 788.4Z"/><path d="M2089.8 647.7 L2094 637.3 L2100.2 628 L2114.7 612.5 L2127.1 606.3 L2145.7 599 L2164.4 591.8 L2174.7 585.6 L2185 577.3 L2197.5 573.1 L2209.9 566.9 L2222.3 562.8 L2230.6 555.5 L2240.9 548.3 L2239.9 564.9 L2222.3 564.9 L2222.3 581.8 L2239.9 581.8 L2239.9 598.8 L2222.3 598.8 L2222.3 624.9 L2209.9 628 L2189.2 633.2 L2164.4 632.8 L2143.7 634.2 L2119.8 634.2 L2119.8 647.7 L2106.4 655.9 L2096 655.9Z"/><path d="M2060.9 695.3 L2077.4 684.9 L2096 676.6 L2116.7 670.4 L2129.2 667.3 L2136.4 671.5 L2136.4 683.9 L2119.8 683.9 L2119.8 700.6 L2103.3 700.6 L2103.3 717.6 L2085.7 717.6 L2085.7 734.6 L2060.9 736.7Z"/><path d="M2085.7 583.5 L2090.9 566.9 L2096 572.1 L2102.3 579.4 L2096 585.6 L2090.9 592.8Z"/><path d="M372.7 1296.9 L381 1305.2 L389.3 1309.3 L397.6 1319.7 L405.8 1329 L414.1 1330 L418.3 1324.9 L426.5 1331.1 L432.8 1338.3 L431.7 1346.6 L441 1352.8 L451.4 1356.9 L460.7 1363.1 L458.6 1368.3 L454.5 1369.4 L451.4 1385.9 L453.4 1397.9 L453.4 1402.5 L362.4 1402.5 L364.4 1392.1 L367.6 1383.8 L366.5 1371.4 L366.5 1356.9 L363.4 1342.4 L368.6 1323.8 L374.8 1313.5 L376.9 1309.3Z"/><path d="M362.4 1395.9 L360.3 1406.3 L363.4 1415.6 L368.6 1423.9 L369.6 1429 L374.8 1433.2 L380 1438.4 L384.1 1446.6 L389.3 1452.8 L395.5 1461.1 L399.6 1470.4 L403.8 1480.8 L403.8 1493.2 L411 1495.3 L412.1 1503.6 L418.3 1505.6 L420.3 1520.1 L424.5 1529.4 L431.7 1533.6 L430.7 1542.9 L432.8 1551.2 L429.6 1557.4 L432.8 1563.6 L430.7 1571.9 L433.8 1579.1 L439 1586.4 L448.3 1595.7 L449.3 1607.1 L452.4 1617.4 L461.7 1626.7 L459.7 1634 L463.8 1642.2 L470 1643.3 L480.4 1656.7 L481.4 1665 L484.5 1671.2 L483.5 1677.4 L486.6 1687.8 L487.6 1696.1 L485.5 1706.4 L538.3 1706.4 L538.3 1585.3 L532.1 1586.4 L523.8 1582.2 L517.6 1573.9 L512.4 1563.6 L508.3 1551.2 L499 1545 L490.7 1532.5 L488.6 1522.2 L482.4 1513.9 L477.3 1501.5 L478.3 1489.1 L471 1482.9 L472.1 1470.4 L467.9 1460.1 L463.8 1447.7 L459.7 1439.4 L461.7 1420.8 L457.6 1408.3 L453.4 1395.9Z"/><path d="M530.9 1585.3 L535 1587.4 L543.3 1590.5 L553.6 1595.7 L547.4 1602.9 L545.3 1613.3 L547.4 1625.7 L553.6 1636 L560.9 1643.3 L570.2 1647.4 L577.4 1650.9 L577.4 1662.9 L580.5 1673.3 L585.7 1677.4 L598.1 1678.5 L604.3 1686.7 L608.5 1692.9 L610.5 1706.4 L530.9 1706.4Z"/><path d="M1265.4 1839.3 L1269.6 1833.1 L1274.7 1836.2 L1277.9 1827.9 L1282.6 1830 L1279.9 1843.4 L1273.7 1860 L1269.6 1876.5 L1265.4 1895.2 L1262.3 1920 L1260.3 1920 L1262.3 1893.1 L1258.2 1885.9 L1264.8 1886.5 L1267.5 1864.1 L1264.8 1856.9 L1267.5 1847.6Z"/><path d="M563.1 1899.3 L567.3 1884.8 L563.1 1874.5 L554.9 1868.3 L552.8 1855.8 L546.6 1843.4 L540.4 1831 L532.1 1822.7 L525.9 1818.6 L519.7 1826.9 L515.5 1833.1 L507.3 1824.8 L503.1 1812.4 L501.1 1797.9 L507.3 1785.5 L505.2 1773 L499 1756.5 L496.9 1735.8 L488.6 1725.4 L484.5 1706.8 L484.5 1694.4 L612.8 1694.4 L610.8 1704.7 L614.9 1708.9 L604.5 1713 L594.2 1723.4 L593 1739.9 L598.3 1750.3 L608.7 1753.6 L621.1 1746.1 L610.8 1756.5 L625.2 1759.8 L627.3 1766.8 L641.8 1779.3 L658.4 1791.7 L664.6 1797.9 L654.2 1795.8 L658.4 1806.2 L662.5 1820.7 L672.8 1831 L689.4 1837.2 L687.3 1844.2 L691.5 1849.6 L708 1866.2 L720.5 1884.8 L728.7 1901.4 L729.6 1906.3 L562.3 1904.3Z"/><path d="M2026.9 478.3 L2039.3 472.9 L2051.8 470 L2066.2 470 L2069.1 475.4 L2062.1 479.5 L2049.7 480.3 L2041.4 482.4 L2035.2 480.3Z"/></g>
<g fill="#efefdb"><path d="M1906.9 519.3 L1919.3 521 L1937.9 518.3 L1952.4 513.1 L1969 511 L1977.2 519.3 L1981.4 524.5 L1971 532.8 L1954.5 528.6 L1937.9 526.6 L1923.4 523.5Z"/><path d="M464.8 1491.1 L474.1 1490.1 L475.2 1505.6 L467.9 1520.1 L456.6 1511.8 L459.7 1501.5Z"/><path d="M406.9 1454.9 L412.1 1454.9 L418.3 1464.2 L419.3 1471.5 L426.5 1475.6 L425.5 1493.2 L418.3 1482.9 L410 1470.4 L405.8 1462.2Z"/></g>
<g shape-rendering="crispEdges">
<path fill="#97b6e1" d="M1556.77 480.00H1590.84V496.98H1556.77zM1607.88 480.00H1658.99V496.98H1607.88zM1727.13 480.00H1795.27V496.98H1727.13zM1829.35 480.00H1863.42V496.98H1829.35zM1590.84 496.98H1624.91V513.95H1590.84zM1795.27 530.92H1846.38V547.90H1795.27zM1778.24 547.90H1829.35V564.88H1778.24zM1744.17 564.88H1829.35V581.85H1744.17zM1761.20 581.85H1795.27V598.83H1761.20zM1761.20 598.83H1795.27V615.80H1761.20zM1744.17 615.80H1795.27V632.78H1744.17zM1744.17 632.78H1795.27V649.75H1744.17zM1744.17 649.75H1795.27V666.73H1744.17zM1744.17 666.73H1795.27V683.70H1744.17zM1744.17 683.70H1795.27V700.67H1744.17zM1727.13 700.67H1795.27V717.65H1727.13zM1744.17 717.65H1812.31V734.62H1744.17zM1744.17 734.62H1812.31V751.60H1744.17zM1744.17 751.60H1812.31V768.58H1744.17zM1744.17 768.58H1795.27V785.55H1744.17zM1761.20 785.55H1778.24V802.53H1761.20z"/>
<path fill="#256baf" d="M994.58 1023.20H1045.69V1040.17H994.58zM977.55 1040.17H1045.69V1057.15H977.55zM977.55 1057.15H1062.73V1074.12H977.55zM960.51 1074.12H1079.76V1091.10H960.51zM960.51 1091.10H1096.80V1108.08H960.51zM960.51 1108.08H1096.80V1125.05H960.51zM960.51 1125.05H1096.80V1142.03H960.51zM943.47 1142.03H1079.76V1159.00H943.47zM926.44 1159.00H1045.69V1175.98H926.44zM926.44 1175.98H1028.65V1192.95H926.44zM875.33 1192.95H1011.62V1209.93H875.33zM875.33 1209.93H1011.62V1226.90H875.33zM875.33 1226.90H1011.62V1243.88H875.33zM875.33 1243.88H1011.62V1260.85H875.33zM892.37 1260.85H994.58V1277.83H892.37zM892.37 1277.83H994.58V1294.80H892.37zM960.51 1294.80H994.58V1311.78H960.51zM943.47 1311.78H1011.62V1328.75H943.47zM1028.65 1311.78H1045.69V1328.75H1028.65zM1846.38 1311.78H1897.49V1328.75H1846.38zM960.51 1328.75H1130.87V1345.73H960.51zM1812.31 1328.75H1914.53V1345.73H1812.31zM960.51 1345.73H1147.91V1362.70H960.51zM1727.13 1345.73H1778.24V1362.70H1727.13zM1795.27 1345.73H1914.53V1362.70H1795.27zM960.51 1362.70H1164.94V1379.68H960.51zM1710.09 1362.70H1914.53V1379.68H1710.09zM960.51 1379.68H1164.94V1396.65H960.51zM1693.06 1379.68H1914.53V1396.65H1693.06zM960.51 1396.65H1164.94V1413.63H960.51zM1301.23 1396.65H1318.27V1413.63H1301.23zM1335.30 1396.65H1522.70V1413.63H1335.30zM1676.02 1396.65H1778.24V1413.63H1676.02zM1795.27 1396.65H1914.53V1413.63H1795.27zM960.51 1413.63H1181.98V1430.60H960.51zM1267.16 1413.63H1539.73V1430.60H1267.16zM1676.02 1413.63H1744.17V1430.60H1676.02zM1812.31 1413.63H1897.49V1430.60H1812.31zM960.51 1430.60H1164.94V1447.58H960.51zM1250.12 1430.60H1539.73V1447.58H1250.12zM1658.99 1430.60H1727.13V1447.58H1658.99zM960.51 1447.58H1147.91V1464.55H960.51zM1250.12 1447.58H1539.73V1464.55H1250.12zM1693.06 1447.58H1727.13V1464.55H1693.06zM977.55 1464.55H1062.73V1481.53H977.55zM1250.12 1464.55H1539.73V1481.53H1250.12zM977.55 1481.53H1045.69V1498.50H977.55zM1301.23 1481.53H1522.70V1498.50H1301.23zM977.55 1498.50H1045.69V1515.48H977.55zM1318.27 1498.50H1505.66V1515.48H1318.27zM977.55 1515.48H1045.69V1532.45H977.55zM1335.30 1515.48H1488.63V1532.45H1335.30zM977.55 1532.45H1011.62V1549.43H977.55zM1028.65 1532.45H1045.69V1549.43H1028.65zM1352.34 1532.45H1488.63V1549.43H1352.34zM977.55 1549.43H994.58V1566.40H977.55zM1369.37 1549.43H1454.55V1566.40H1369.37zM960.51 1566.40H977.55V1583.38H960.51zM1386.41 1566.40H1437.52V1583.38H1386.41zM1624.91 1566.40H1658.99V1583.38H1624.91zM1403.45 1583.38H1420.48V1600.35H1403.45z"/>
<path fill="#559ec9" d="M2459.68 293.27H2527.82V310.25H2459.68zM2459.68 310.25H2527.82V327.23H2459.68zM2442.64 327.23H2544.86V344.20H2442.64zM2442.64 344.20H2527.82V361.18H2442.64zM2442.64 361.18H2510.79V378.15H2442.64zM2442.64 378.15H2510.79V395.12H2442.64zM2544.86 378.15H2578.93V395.12H2544.86zM2442.64 395.12H2510.79V412.10H2442.64zM2544.86 395.12H2595.97V412.10H2544.86zM1658.99 412.10H1676.02V429.08H1658.99zM2442.64 412.10H2595.97V429.08H2442.64zM2425.61 429.08H2595.97V446.05H2425.61zM245.00 446.05H262.03V463.03H245.00zM2408.57 446.05H2578.93V463.03H2408.57zM245.00 463.03H262.03V480.00H245.00zM2374.50 463.03H2561.89V480.00H2374.50zM227.96 480.00H262.03V496.98H227.96zM2306.35 480.00H2544.86V496.98H2306.35zM227.96 496.98H279.07V513.95H227.96zM2306.35 496.98H2510.79V513.95H2306.35zM193.89 513.95H210.93V530.92H193.89zM227.96 513.95H279.07V530.92H227.96zM2323.39 513.95H2493.75V530.92H2323.39zM176.85 530.92H296.11V547.90H176.85zM2323.39 530.92H2408.57V547.90H2323.39zM2425.61 530.92H2493.75V547.90H2425.61zM193.89 547.90H313.14V564.88H193.89zM2306.35 547.90H2493.75V564.88H2306.35zM176.85 564.88H313.14V581.85H176.85zM2306.35 564.88H2476.71V581.85H2306.35zM176.85 581.85H313.14V598.83H176.85zM2323.39 581.85H2493.75V598.83H2323.39zM176.85 598.83H313.14V615.80H176.85zM2374.50 598.83H2493.75V615.80H2374.50zM176.85 615.80H313.14V632.78H176.85zM2374.50 615.80H2476.71V632.78H2374.50zM176.85 632.78H296.11V649.75H176.85zM2408.57 632.78H2476.71V649.75H2408.57zM176.85 649.75H296.11V666.73H176.85zM2425.61 649.75H2459.68V666.73H2425.61zM210.93 666.73H296.11V683.70H210.93zM227.96 683.70H296.11V700.67H227.96zM227.96 700.67H262.03V717.65H227.96zM279.07 700.67H296.11V717.65H279.07zM2442.64 700.67H2459.68V717.65H2442.64zM227.96 717.65H364.25V734.62H227.96zM227.96 734.62H347.21V751.60H227.96zM210.93 751.60H364.25V768.58H210.93zM193.89 768.58H364.25V785.55H193.89zM193.89 785.55H364.25V802.53H193.89zM432.39 785.55H500.54V802.53H432.39zM193.89 802.53H381.29V819.50H193.89zM415.36 802.53H500.54V819.50H415.36zM193.89 819.50H381.29V836.48H193.89zM415.36 819.50H483.50V836.48H415.36zM210.93 836.48H381.29V853.45H210.93zM398.32 836.48H415.36V853.45H398.32zM432.39 836.48H449.43V853.45H432.39zM210.93 853.45H415.36V870.42H210.93zM227.96 870.42H279.07V887.40H227.96zM347.21 870.42H398.32V887.40H347.21zM415.36 870.42H449.43V887.40H415.36zM347.21 887.40H364.25V904.38H347.21zM381.29 887.40H398.32V904.38H381.29zM415.36 887.40H432.39V904.38H415.36zM227.96 904.38H245.00V921.35H227.96zM347.21 904.38H381.29V921.35H347.21zM2084.89 904.38H2101.92V921.35H2084.89zM159.82 921.35H176.85V938.33H159.82zM210.93 921.35H227.96V938.33H210.93zM943.47 921.35H994.58V938.33H943.47zM2084.89 921.35H2118.96V938.33H2084.89zM142.78 938.33H193.89V955.30H142.78zM210.93 938.33H296.11V955.30H210.93zM568.68 938.33H585.72V955.30H568.68zM926.44 938.33H994.58V955.30H926.44zM142.78 955.30H296.11V972.28H142.78zM415.36 955.30H432.39V972.28H415.36zM551.65 955.30H585.72V972.28H551.65zM943.47 955.30H994.58V972.28H943.47zM2084.89 955.30H2101.92V972.28H2084.89zM142.78 972.28H313.14V989.25H142.78zM432.39 972.28H483.50V989.25H432.39zM517.57 972.28H585.72V989.25H517.57zM943.47 972.28H1011.62V989.25H943.47zM2067.85 972.28H2101.92V989.25H2067.85zM159.82 989.25H313.14V1006.23H159.82zM398.32 989.25H466.47V1006.23H398.32zM500.54 989.25H585.72V1006.23H500.54zM943.47 989.25H1045.69V1006.23H943.47zM2050.81 989.25H2101.92V1006.23H2050.81zM142.78 1006.23H262.03V1023.20H142.78zM364.25 1006.23H415.36V1023.20H364.25zM432.39 1006.23H466.47V1023.20H432.39zM500.54 1006.23H585.72V1023.20H500.54zM943.47 1006.23H1079.76V1023.20H943.47zM1982.67 1006.23H2101.92V1023.20H1982.67zM142.78 1023.20H296.11V1040.17H142.78zM330.18 1023.20H415.36V1040.17H330.18zM517.57 1023.20H568.68V1040.17H517.57zM602.75 1023.20H670.90V1040.17H602.75zM875.33 1023.20H892.37V1040.17H875.33zM926.44 1023.20H994.58V1040.17H926.44zM1045.69 1023.20H1096.80V1040.17H1045.69zM1982.67 1023.20H2118.96V1040.17H1982.67zM125.75 1040.17H415.36V1057.15H125.75zM517.57 1040.17H568.68V1057.15H517.57zM585.72 1040.17H722.01V1057.15H585.72zM875.33 1040.17H909.40V1057.15H875.33zM926.44 1040.17H977.55V1057.15H926.44zM1045.69 1040.17H1113.83V1057.15H1045.69zM1948.60 1040.17H2135.99V1057.15H1948.60zM142.78 1057.15H159.82V1074.12H142.78zM176.85 1057.15H313.14V1074.12H176.85zM330.18 1057.15H415.36V1074.12H330.18zM534.61 1057.15H739.04V1074.12H534.61zM926.44 1057.15H977.55V1074.12H926.44zM1062.73 1057.15H1147.91V1074.12H1062.73zM1914.53 1057.15H2118.96V1074.12H1914.53zM193.89 1074.12H313.14V1091.10H193.89zM347.21 1074.12H381.29V1091.10H347.21zM398.32 1074.12H415.36V1091.10H398.32zM517.57 1074.12H739.04V1091.10H517.57zM841.26 1074.12H875.33V1091.10H841.26zM926.44 1074.12H960.51V1091.10H926.44zM1079.76 1074.12H1147.91V1091.10H1079.76zM1897.49 1074.12H2135.99V1091.10H1897.49zM193.89 1091.10H313.14V1108.08H193.89zM364.25 1091.10H432.39V1108.08H364.25zM517.57 1091.10H602.75V1108.08H517.57zM670.90 1091.10H756.08V1108.08H670.90zM824.22 1091.10H892.37V1108.08H824.22zM926.44 1091.10H960.51V1108.08H926.44zM1096.80 1091.10H1164.94V1108.08H1096.80zM1880.45 1091.10H2135.99V1108.08H1880.45zM227.96 1108.08H279.07V1125.05H227.96zM381.29 1108.08H585.72V1125.05H381.29zM704.97 1108.08H756.08V1125.05H704.97zM773.11 1108.08H960.51V1125.05H773.11zM1096.80 1108.08H1164.94V1125.05H1096.80zM1284.19 1108.08H1318.27V1125.05H1284.19zM1880.45 1108.08H1999.71V1125.05H1880.45zM2016.74 1108.08H2067.85V1125.05H2016.74zM2084.89 1108.08H2135.99V1125.05H2084.89zM398.32 1125.05H568.68V1142.03H398.32zM722.01 1125.05H739.04V1142.03H722.01zM773.11 1125.05H960.51V1142.03H773.11zM1096.80 1125.05H1199.01V1142.03H1096.80zM1284.19 1125.05H1335.30V1142.03H1284.19zM1897.49 1125.05H1965.63V1142.03H1897.49zM1982.67 1125.05H1999.71V1142.03H1982.67zM2050.81 1125.05H2153.03V1142.03H2050.81zM364.25 1142.03H483.50V1159.00H364.25zM517.57 1142.03H551.65V1159.00H517.57zM722.01 1142.03H739.04V1159.00H722.01zM773.11 1142.03H943.47V1159.00H773.11zM1079.76 1142.03H1216.05V1159.00H1079.76zM1284.19 1142.03H1318.27V1159.00H1284.19zM1880.45 1142.03H1897.49V1159.00H1880.45zM1931.56 1142.03H1965.63V1159.00H1931.56zM2050.81 1142.03H2135.99V1159.00H2050.81zM364.25 1159.00H466.47V1175.98H364.25zM824.22 1159.00H926.44V1175.98H824.22zM1045.69 1159.00H1233.09V1175.98H1045.69zM1931.56 1159.00H1948.60V1175.98H1931.56zM2050.81 1159.00H2135.99V1175.98H2050.81zM364.25 1175.98H466.47V1192.95H364.25zM841.26 1175.98H926.44V1192.95H841.26zM1028.65 1175.98H1250.12V1192.95H1028.65zM1897.49 1175.98H2153.03V1192.95H1897.49zM330.18 1192.95H398.32V1209.93H330.18zM841.26 1192.95H875.33V1209.93H841.26zM1011.62 1192.95H1267.16V1209.93H1011.62zM1812.31 1192.95H1846.38V1209.93H1812.31zM1863.42 1192.95H1880.45V1209.93H1863.42zM1897.49 1192.95H2118.96V1209.93H1897.49zM2135.99 1192.95H2204.14V1209.93H2135.99zM330.18 1209.93H381.29V1226.90H330.18zM858.29 1209.93H875.33V1226.90H858.29zM1011.62 1209.93H1267.16V1226.90H1011.62zM1761.20 1209.93H2238.21V1226.90H1761.20zM313.14 1226.90H364.25V1243.88H313.14zM858.29 1226.90H875.33V1243.88H858.29zM1011.62 1226.90H1267.16V1243.88H1011.62zM1727.13 1226.90H2204.14V1243.88H1727.13zM858.29 1243.88H875.33V1260.85H858.29zM1011.62 1243.88H1284.19V1260.85H1011.62zM1693.06 1243.88H2187.10V1260.85H1693.06zM841.26 1260.85H892.37V1277.83H841.26zM994.58 1260.85H1301.23V1277.83H994.58zM1471.59 1260.85H1522.70V1277.83H1471.59zM1676.02 1260.85H2187.10V1277.83H1676.02zM534.61 1277.83H551.65V1294.80H534.61zM841.26 1277.83H892.37V1294.80H841.26zM994.58 1277.83H1301.23V1294.80H994.58zM1420.48 1277.83H1539.73V1294.80H1420.48zM1676.02 1277.83H2170.07V1294.80H1676.02zM500.54 1294.80H551.65V1311.78H500.54zM841.26 1294.80H960.51V1311.78H841.26zM994.58 1294.80H1301.23V1311.78H994.58zM1420.48 1294.80H1573.81V1311.78H1420.48zM1676.02 1294.80H2187.10V1311.78H1676.02zM500.54 1311.78H551.65V1328.75H500.54zM858.29 1311.78H943.47V1328.75H858.29zM1011.62 1311.78H1028.65V1328.75H1011.62zM1045.69 1311.78H1301.23V1328.75H1045.69zM1437.52 1311.78H1573.81V1328.75H1437.52zM1676.02 1311.78H1846.38V1328.75H1676.02zM1897.49 1311.78H2187.10V1328.75H1897.49zM500.54 1328.75H551.65V1345.73H500.54zM875.33 1328.75H960.51V1345.73H875.33zM1130.87 1328.75H1199.01V1345.73H1130.87zM1233.09 1328.75H1318.27V1345.73H1233.09zM1386.41 1328.75H1573.81V1345.73H1386.41zM1676.02 1328.75H1812.31V1345.73H1676.02zM1914.53 1328.75H2170.07V1345.73H1914.53zM875.33 1345.73H960.51V1362.70H875.33zM1147.91 1345.73H1573.81V1362.70H1147.91zM1658.99 1345.73H1727.13V1362.70H1658.99zM1778.24 1345.73H1795.27V1362.70H1778.24zM1914.53 1345.73H2170.07V1362.70H1914.53zM892.37 1362.70H960.51V1379.68H892.37zM1164.94 1362.70H1573.81V1379.68H1164.94zM1641.95 1362.70H1710.09V1379.68H1641.95zM1914.53 1362.70H2153.03V1379.68H1914.53zM892.37 1379.68H960.51V1396.65H892.37zM1164.94 1379.68H1693.06V1396.65H1164.94zM1914.53 1379.68H2153.03V1396.65H1914.53zM858.29 1396.65H875.33V1413.63H858.29zM892.37 1396.65H960.51V1413.63H892.37zM1164.94 1396.65H1301.23V1413.63H1164.94zM1318.27 1396.65H1335.30V1413.63H1318.27zM1522.70 1396.65H1676.02V1413.63H1522.70zM1778.24 1396.65H1795.27V1413.63H1778.24zM1914.53 1396.65H2153.03V1413.63H1914.53zM858.29 1413.63H960.51V1430.60H858.29zM1181.98 1413.63H1267.16V1430.60H1181.98zM1539.73 1413.63H1676.02V1430.60H1539.73zM1744.17 1413.63H1812.31V1430.60H1744.17zM1897.49 1413.63H2153.03V1430.60H1897.49zM858.29 1430.60H960.51V1447.58H858.29zM1164.94 1430.60H1250.12V1447.58H1164.94zM1539.73 1430.60H1658.99V1447.58H1539.73zM1727.13 1430.60H2033.78V1447.58H1727.13zM2084.89 1430.60H2153.03V1447.58H2084.89zM858.29 1447.58H960.51V1464.55H858.29zM1147.91 1447.58H1250.12V1464.55H1147.91zM1539.73 1447.58H1693.06V1464.55H1539.73zM1727.13 1447.58H2016.74V1464.55H1727.13zM2118.96 1447.58H2153.03V1464.55H2118.96zM875.33 1464.55H892.37V1481.53H875.33zM926.44 1464.55H977.55V1481.53H926.44zM1062.73 1464.55H1250.12V1481.53H1062.73zM1539.73 1464.55H2016.74V1481.53H1539.73zM2118.96 1464.55H2170.07V1481.53H2118.96zM960.51 1481.53H977.55V1498.50H960.51zM1045.69 1481.53H1301.23V1498.50H1045.69zM1522.70 1481.53H1880.45V1498.50H1522.70zM1897.49 1481.53H1982.67V1498.50H1897.49zM2118.96 1481.53H2187.10V1498.50H2118.96zM960.51 1498.50H977.55V1515.48H960.51zM1045.69 1498.50H1318.27V1515.48H1045.69zM1505.66 1498.50H1812.31V1515.48H1505.66zM2118.96 1498.50H2187.10V1515.48H2118.96zM960.51 1515.48H977.55V1532.45H960.51zM1045.69 1515.48H1130.87V1532.45H1045.69zM1147.91 1515.48H1335.30V1532.45H1147.91zM1488.63 1515.48H1744.17V1532.45H1488.63zM2101.92 1515.48H2204.14V1532.45H2101.92zM943.47 1532.45H977.55V1549.43H943.47zM1045.69 1532.45H1079.76V1549.43H1045.69zM1216.05 1532.45H1352.34V1549.43H1216.05zM1488.63 1532.45H1744.17V1549.43H1488.63zM2084.89 1532.45H2221.17V1549.43H2084.89zM926.44 1549.43H977.55V1566.40H926.44zM1250.12 1549.43H1369.37V1566.40H1250.12zM1454.55 1549.43H1488.63V1566.40H1454.55zM1539.73 1549.43H1727.13V1566.40H1539.73zM2101.92 1549.43H2221.17V1566.40H2101.92zM943.47 1566.40H960.51V1583.38H943.47zM1318.27 1566.40H1386.41V1583.38H1318.27zM1658.99 1566.40H1761.20V1583.38H1658.99zM2118.96 1566.40H2221.17V1583.38H2118.96zM1335.30 1583.38H1403.45V1600.35H1335.30zM1641.95 1583.38H1658.99V1600.35H1641.95zM2135.99 1583.38H2238.21V1600.35H2135.99zM1318.27 1600.35H1403.45V1617.33H1318.27zM2153.03 1600.35H2255.25V1617.33H2153.03zM1301.23 1617.33H1386.41V1634.30H1301.23zM2170.07 1617.33H2255.25V1634.30H2170.07zM1250.12 1634.30H1352.34V1651.28H1250.12zM2187.10 1634.30H2272.28V1651.28H2187.10zM1250.12 1651.28H1318.27V1668.25H1250.12zM2170.07 1651.28H2272.28V1668.25H2170.07zM1233.09 1668.25H1318.27V1685.23H1233.09zM2135.99 1668.25H2153.03V1685.23H2135.99zM2170.07 1668.25H2272.28V1685.23H2170.07zM1233.09 1685.23H1301.23V1702.20H1233.09zM2187.10 1685.23H2272.28V1702.20H2187.10zM1233.09 1702.20H1284.19V1719.18H1233.09zM2170.07 1702.20H2289.32V1719.18H2170.07zM1233.09 1719.18H1284.19V1736.15H1233.09zM2187.10 1719.18H2272.28V1736.15H2187.10zM1233.09 1736.15H1284.19V1753.13H1233.09zM1233.09 1753.13H1301.23V1770.10H1233.09zM1233.09 1770.10H1301.23V1787.08H1233.09zM1267.16 1787.08H1301.23V1804.05H1267.16z"/>
<path fill="#a7d0e4" d="M227.96 191.42H245.00V208.40H227.96zM227.96 208.40H262.03V225.38H227.96zM227.96 225.38H296.11V242.35H227.96zM227.96 242.35H279.07V259.32H227.96zM296.11 242.35H313.14V259.32H296.11zM347.21 242.35H364.25V259.32H347.21zM227.96 259.32H381.29V276.30H227.96zM227.96 276.30H466.47V293.27H227.96zM500.54 276.30H551.65V293.27H500.54zM227.96 293.27H551.65V310.25H227.96zM210.93 310.25H551.65V327.23H210.93zM210.93 327.23H551.65V344.20H210.93zM1403.45 327.23H1420.48V344.20H1403.45zM210.93 344.20H534.61V361.18H210.93zM1403.45 344.20H1420.48V361.18H1403.45zM2527.82 344.20H2544.86V361.18H2527.82zM210.93 361.18H534.61V378.15H210.93zM1079.76 361.18H1113.83V378.15H1079.76zM1284.19 361.18H1352.34V378.15H1284.19zM1403.45 361.18H1420.48V378.15H1403.45zM2510.79 361.18H2544.86V378.15H2510.79zM193.89 378.15H534.61V395.12H193.89zM551.65 378.15H585.72V395.12H551.65zM1096.80 378.15H1113.83V395.12H1096.80zM1301.23 378.15H1437.52V395.12H1301.23zM2510.79 378.15H2544.86V395.12H2510.79zM193.89 395.12H517.57V412.10H193.89zM551.65 395.12H585.72V412.10H551.65zM1318.27 395.12H1522.70V412.10H1318.27zM2510.79 395.12H2544.86V412.10H2510.79zM176.85 412.10H466.47V429.08H176.85zM534.61 412.10H602.75V429.08H534.61zM1335.30 412.10H1420.48V429.08H1335.30zM1488.63 412.10H1556.77V429.08H1488.63zM1573.81 412.10H1607.88V429.08H1573.81zM176.85 429.08H483.50V446.05H176.85zM534.61 429.08H602.75V446.05H534.61zM1352.34 429.08H1420.48V446.05H1352.34zM1505.66 429.08H1522.70V446.05H1505.66zM1556.77 429.08H1624.91V446.05H1556.77zM159.82 446.05H245.00V463.03H159.82zM262.03 446.05H483.50V463.03H262.03zM534.61 446.05H602.75V463.03H534.61zM1403.45 446.05H1437.52V463.03H1403.45zM1522.70 446.05H1590.84V463.03H1522.70zM1693.06 446.05H1710.09V463.03H1693.06zM159.82 463.03H245.00V480.00H159.82zM262.03 463.03H483.50V480.00H262.03zM517.57 463.03H602.75V480.00H517.57zM1369.37 463.03H1573.81V480.00H1369.37zM1676.02 463.03H1693.06V480.00H1676.02zM142.78 480.00H227.96V496.98H142.78zM262.03 480.00H483.50V496.98H262.03zM517.57 480.00H602.75V496.98H517.57zM1352.34 480.00H1556.77V496.98H1352.34zM1590.84 480.00H1607.88V496.98H1590.84zM1658.99 480.00H1727.13V496.98H1658.99zM1795.27 480.00H1829.35V496.98H1795.27zM125.75 496.98H227.96V513.95H125.75zM279.07 496.98H483.50V513.95H279.07zM517.57 496.98H602.75V513.95H517.57zM1369.37 496.98H1539.73V513.95H1369.37zM1556.77 496.98H1590.84V513.95H1556.77zM1624.91 496.98H1863.42V513.95H1624.91zM2272.28 496.98H2306.35V513.95H2272.28zM125.75 513.95H193.89V530.92H125.75zM210.93 513.95H227.96V530.92H210.93zM279.07 513.95H500.54V530.92H279.07zM517.57 513.95H602.75V530.92H517.57zM722.01 513.95H739.04V530.92H722.01zM1386.41 513.95H1897.49V530.92H1386.41zM2255.25 513.95H2323.39V530.92H2255.25zM125.75 530.92H176.85V547.90H125.75zM296.11 530.92H602.75V547.90H296.11zM619.79 530.92H670.90V547.90H619.79zM687.93 530.92H722.01V547.90H687.93zM1386.41 530.92H1795.27V547.90H1386.41zM1846.38 530.92H1863.42V547.90H1846.38zM2238.21 530.92H2323.39V547.90H2238.21zM2408.57 530.92H2425.61V547.90H2408.57zM108.71 547.90H193.89V564.88H108.71zM313.14 547.90H722.01V564.88H313.14zM1505.66 547.90H1778.24V564.88H1505.66zM1829.35 547.90H1897.49V564.88H1829.35zM2238.21 547.90H2306.35V564.88H2238.21zM108.71 564.88H176.85V581.85H108.71zM313.14 564.88H670.90V581.85H313.14zM1522.70 564.88H1539.73V581.85H1522.70zM1573.81 564.88H1744.17V581.85H1573.81zM1829.35 564.88H1914.53V581.85H1829.35zM2221.17 564.88H2306.35V581.85H2221.17zM108.71 581.85H176.85V598.83H108.71zM313.14 581.85H687.93V598.83H313.14zM1522.70 581.85H1556.77V598.83H1522.70zM1590.84 581.85H1761.20V598.83H1590.84zM1795.27 581.85H1914.53V598.83H1795.27zM2238.21 581.85H2323.39V598.83H2238.21zM108.71 598.83H176.85V615.80H108.71zM313.14 598.83H722.01V615.80H313.14zM1233.09 598.83H1250.12V615.80H1233.09zM1505.66 598.83H1761.20V615.80H1505.66zM1795.27 598.83H1931.56V615.80H1795.27zM2221.17 598.83H2374.50V615.80H2221.17zM91.67 615.80H176.85V632.78H91.67zM313.14 615.80H739.04V632.78H313.14zM1216.05 615.80H1250.12V632.78H1216.05zM1488.63 615.80H1590.84V632.78H1488.63zM1607.88 615.80H1744.17V632.78H1607.88zM1795.27 615.80H1914.53V632.78H1795.27zM2221.17 615.80H2374.50V632.78H2221.17zM2476.71 615.80H2544.86V632.78H2476.71zM91.67 632.78H176.85V649.75H91.67zM296.11 632.78H756.08V649.75H296.11zM1181.98 632.78H1250.12V649.75H1181.98zM1488.63 632.78H1590.84V649.75H1488.63zM1607.88 632.78H1744.17V649.75H1607.88zM1795.27 632.78H1914.53V649.75H1795.27zM1931.56 632.78H1965.63V649.75H1931.56zM2118.96 632.78H2187.10V649.75H2118.96zM2204.14 632.78H2408.57V649.75H2204.14zM2476.71 632.78H2544.86V649.75H2476.71zM74.64 649.75H176.85V666.73H74.64zM296.11 649.75H773.11V666.73H296.11zM1113.83 649.75H1250.12V666.73H1113.83zM1471.59 649.75H1693.06V666.73H1471.59zM1710.09 649.75H1727.13V666.73H1710.09zM1795.27 649.75H1897.49V666.73H1795.27zM1914.53 649.75H1965.63V666.73H1914.53zM2118.96 649.75H2425.61V666.73H2118.96zM2459.68 649.75H2544.86V666.73H2459.68zM74.64 666.73H210.93V683.70H74.64zM296.11 666.73H790.15V683.70H296.11zM1096.80 666.73H1250.12V683.70H1096.80zM1471.59 666.73H1641.95V683.70H1471.59zM1795.27 666.73H1965.63V683.70H1795.27zM2135.99 666.73H2187.10V683.70H2135.99zM2272.28 666.73H2476.71V683.70H2272.28zM91.67 683.70H227.96V700.67H91.67zM296.11 683.70H824.22V700.67H296.11zM1113.83 683.70H1250.12V700.67H1113.83zM1454.55 683.70H1573.81V700.67H1454.55zM1795.27 683.70H1948.60V700.67H1795.27zM2118.96 683.70H2204.14V700.67H2118.96zM2306.35 683.70H2476.71V700.67H2306.35zM91.67 700.67H227.96V717.65H91.67zM262.03 700.67H279.07V717.65H262.03zM296.11 700.67H858.29V717.65H296.11zM1130.87 700.67H1250.12V717.65H1130.87zM1454.55 700.67H1573.81V717.65H1454.55zM1795.27 700.67H1931.56V717.65H1795.27zM2135.99 700.67H2170.07V717.65H2135.99zM2323.39 700.67H2442.64V717.65H2323.39zM74.64 717.65H227.96V734.62H74.64zM364.25 717.65H875.33V734.62H364.25zM1147.91 717.65H1250.12V734.62H1147.91zM1471.59 717.65H1573.81V734.62H1471.59zM1812.31 717.65H1948.60V734.62H1812.31zM2323.39 717.65H2442.64V734.62H2323.39zM74.64 734.62H227.96V751.60H74.64zM347.21 734.62H892.37V751.60H347.21zM1147.91 734.62H1250.12V751.60H1147.91zM1471.59 734.62H1590.84V751.60H1471.59zM1812.31 734.62H1948.60V751.60H1812.31zM2323.39 734.62H2408.57V751.60H2323.39zM74.64 751.60H210.93V768.58H74.64zM364.25 751.60H670.90V768.58H364.25zM756.08 751.60H909.40V768.58H756.08zM1164.94 751.60H1267.16V768.58H1164.94zM1471.59 751.60H1624.91V768.58H1471.59zM1812.31 751.60H1948.60V768.58H1812.31zM2323.39 751.60H2391.53V768.58H2323.39zM74.64 768.58H193.89V785.55H74.64zM364.25 768.58H568.68V785.55H364.25zM585.72 768.58H653.86V785.55H585.72zM756.08 768.58H943.47V785.55H756.08zM1164.94 768.58H1335.30V785.55H1164.94zM1471.59 768.58H1676.02V785.55H1471.59zM1795.27 768.58H1948.60V785.55H1795.27zM2323.39 768.58H2391.53V785.55H2323.39zM91.67 785.55H193.89V802.53H91.67zM364.25 785.55H432.39V802.53H364.25zM500.54 785.55H551.65V802.53H500.54zM619.79 785.55H636.83V802.53H619.79zM756.08 785.55H943.47V802.53H756.08zM1164.94 785.55H1335.30V802.53H1164.94zM1454.55 785.55H1693.06V802.53H1454.55zM1795.27 785.55H1965.63V802.53H1795.27zM2340.43 785.55H2391.53V802.53H2340.43zM91.67 802.53H193.89V819.50H91.67zM381.29 802.53H415.36V819.50H381.29zM500.54 802.53H534.61V819.50H500.54zM756.08 802.53H943.47V819.50H756.08zM1181.98 802.53H1352.34V819.50H1181.98zM1437.52 802.53H1693.06V819.50H1437.52zM1812.31 802.53H1931.56V819.50H1812.31zM2238.21 802.53H2289.32V819.50H2238.21zM2323.39 802.53H2391.53V819.50H2323.39zM91.67 819.50H193.89V836.48H91.67zM381.29 819.50H415.36V836.48H381.29zM483.50 819.50H534.61V836.48H483.50zM619.79 819.50H636.83V836.48H619.79zM756.08 819.50H960.51V836.48H756.08zM1199.01 819.50H1352.34V836.48H1199.01zM1420.48 819.50H1676.02V836.48H1420.48zM1829.35 819.50H1897.49V836.48H1829.35zM2255.25 819.50H2289.32V836.48H2255.25zM2323.39 819.50H2391.53V836.48H2323.39zM108.71 836.48H210.93V853.45H108.71zM381.29 836.48H398.32V853.45H381.29zM415.36 836.48H432.39V853.45H415.36zM449.43 836.48H534.61V853.45H449.43zM619.79 836.48H636.83V853.45H619.79zM773.11 836.48H790.15V853.45H773.11zM858.29 836.48H960.51V853.45H858.29zM1216.05 836.48H1335.30V853.45H1216.05zM1488.63 836.48H1522.70V853.45H1488.63zM1573.81 836.48H1624.91V853.45H1573.81zM1795.27 836.48H1812.31V853.45H1795.27zM2255.25 836.48H2272.28V853.45H2255.25zM2289.32 836.48H2340.43V853.45H2289.32zM2357.46 836.48H2374.50V853.45H2357.46zM108.71 853.45H210.93V870.42H108.71zM415.36 853.45H534.61V870.42H415.36zM875.33 853.45H977.55V870.42H875.33zM1216.05 853.45H1318.27V870.42H1216.05zM2033.78 853.45H2135.99V870.42H2033.78zM2272.28 853.45H2374.50V870.42H2272.28zM91.67 870.42H227.96V887.40H91.67zM279.07 870.42H347.21V887.40H279.07zM398.32 870.42H415.36V887.40H398.32zM449.43 870.42H517.57V887.40H449.43zM585.72 870.42H653.86V887.40H585.72zM875.33 870.42H1011.62V887.40H875.33zM1199.01 870.42H1318.27V887.40H1199.01zM1676.02 870.42H1727.13V887.40H1676.02zM1744.17 870.42H1761.20V887.40H1744.17zM1812.31 870.42H1829.35V887.40H1812.31zM1999.71 870.42H2170.07V887.40H1999.71zM2289.32 870.42H2374.50V887.40H2289.32zM108.71 887.40H347.21V904.38H108.71zM364.25 887.40H381.29V904.38H364.25zM398.32 887.40H415.36V904.38H398.32zM432.39 887.40H534.61V904.38H432.39zM585.72 887.40H653.86V904.38H585.72zM670.90 887.40H722.01V904.38H670.90zM875.33 887.40H1028.65V904.38H875.33zM1181.98 887.40H1335.30V904.38H1181.98zM1658.99 887.40H1744.17V904.38H1658.99zM1778.24 887.40H1795.27V904.38H1778.24zM1948.60 887.40H2170.07V904.38H1948.60zM2289.32 887.40H2357.46V904.38H2289.32zM108.71 904.38H227.96V921.35H108.71zM245.00 904.38H347.21V921.35H245.00zM381.29 904.38H739.04V921.35H381.29zM875.33 904.38H1045.69V921.35H875.33zM1147.91 904.38H1335.30V921.35H1147.91zM1641.95 904.38H1812.31V921.35H1641.95zM1846.38 904.38H2084.89V921.35H1846.38zM2101.92 904.38H2204.14V921.35H2101.92zM2289.32 904.38H2374.50V921.35H2289.32zM108.71 921.35H159.82V938.33H108.71zM176.85 921.35H210.93V938.33H176.85zM227.96 921.35H739.04V938.33H227.96zM756.08 921.35H773.11V938.33H756.08zM858.29 921.35H943.47V938.33H858.29zM994.58 921.35H1045.69V938.33H994.58zM1147.91 921.35H1335.30V938.33H1147.91zM1403.45 921.35H1505.66V938.33H1403.45zM1641.95 921.35H2084.89V938.33H1641.95zM2118.96 921.35H2221.17V938.33H2118.96zM2289.32 921.35H2357.46V938.33H2289.32zM108.71 938.33H142.78V955.30H108.71zM193.89 938.33H210.93V955.30H193.89zM296.11 938.33H568.68V955.30H296.11zM585.72 938.33H926.44V955.30H585.72zM994.58 938.33H1045.69V955.30H994.58zM1079.76 938.33H1096.80V955.30H1079.76zM1130.87 938.33H1539.73V955.30H1130.87zM1624.91 938.33H2221.17V955.30H1624.91zM2306.35 938.33H2357.46V955.30H2306.35zM108.71 955.30H142.78V972.28H108.71zM296.11 955.30H415.36V972.28H296.11zM432.39 955.30H551.65V972.28H432.39zM585.72 955.30H943.47V972.28H585.72zM994.58 955.30H1573.81V972.28H994.58zM1590.84 955.30H2084.89V972.28H1590.84zM2101.92 955.30H2238.21V972.28H2101.92zM2306.35 955.30H2357.46V972.28H2306.35zM125.75 972.28H142.78V989.25H125.75zM313.14 972.28H432.39V989.25H313.14zM483.50 972.28H517.57V989.25H483.50zM585.72 972.28H943.47V989.25H585.72zM1011.62 972.28H2067.85V989.25H1011.62zM2101.92 972.28H2221.17V989.25H2101.92zM2306.35 972.28H2357.46V989.25H2306.35zM125.75 989.25H159.82V1006.23H125.75zM313.14 989.25H398.32V1006.23H313.14zM466.47 989.25H500.54V1006.23H466.47zM585.72 989.25H943.47V1006.23H585.72zM1045.69 989.25H2050.81V1006.23H1045.69zM2101.92 989.25H2221.17V1006.23H2101.92zM2306.35 989.25H2357.46V1006.23H2306.35zM125.75 1006.23H142.78V1023.20H125.75zM262.03 1006.23H364.25V1023.20H262.03zM415.36 1006.23H432.39V1023.20H415.36zM466.47 1006.23H500.54V1023.20H466.47zM585.72 1006.23H943.47V1023.20H585.72zM1079.76 1006.23H1982.67V1023.20H1079.76zM2101.92 1006.23H2221.17V1023.20H2101.92zM2306.35 1006.23H2357.46V1023.20H2306.35zM296.11 1023.20H330.18V1040.17H296.11zM415.36 1023.20H517.57V1040.17H415.36zM568.68 1023.20H602.75V1040.17H568.68zM670.90 1023.20H875.33V1040.17H670.90zM892.37 1023.20H926.44V1040.17H892.37zM1096.80 1023.20H1982.67V1040.17H1096.80zM2118.96 1023.20H2238.21V1040.17H2118.96zM2289.32 1023.20H2374.50V1040.17H2289.32zM415.36 1040.17H517.57V1057.15H415.36zM568.68 1040.17H585.72V1057.15H568.68zM722.01 1040.17H875.33V1057.15H722.01zM909.40 1040.17H926.44V1057.15H909.40zM1113.83 1040.17H1539.73V1057.15H1113.83zM1556.77 1040.17H1948.60V1057.15H1556.77zM2135.99 1040.17H2221.17V1057.15H2135.99zM2306.35 1040.17H2391.53V1057.15H2306.35zM159.82 1057.15H176.85V1074.12H159.82zM313.14 1057.15H330.18V1074.12H313.14zM415.36 1057.15H534.61V1074.12H415.36zM739.04 1057.15H926.44V1074.12H739.04zM1147.91 1057.15H1556.77V1074.12H1147.91zM1573.81 1057.15H1914.53V1074.12H1573.81zM2118.96 1057.15H2238.21V1074.12H2118.96zM176.85 1074.12H193.89V1091.10H176.85zM313.14 1074.12H347.21V1091.10H313.14zM381.29 1074.12H398.32V1091.10H381.29zM415.36 1074.12H517.57V1091.10H415.36zM739.04 1074.12H841.26V1091.10H739.04zM875.33 1074.12H926.44V1091.10H875.33zM1147.91 1074.12H1897.49V1091.10H1147.91zM2135.99 1074.12H2255.25V1091.10H2135.99zM142.78 1091.10H159.82V1108.08H142.78zM313.14 1091.10H364.25V1108.08H313.14zM432.39 1091.10H517.57V1108.08H432.39zM602.75 1091.10H670.90V1108.08H602.75zM756.08 1091.10H824.22V1108.08H756.08zM892.37 1091.10H926.44V1108.08H892.37zM1164.94 1091.10H1880.45V1108.08H1164.94zM2135.99 1091.10H2272.28V1108.08H2135.99zM210.93 1108.08H227.96V1125.05H210.93zM279.07 1108.08H381.29V1125.05H279.07zM585.72 1108.08H704.97V1125.05H585.72zM756.08 1108.08H773.11V1125.05H756.08zM1164.94 1108.08H1284.19V1125.05H1164.94zM1318.27 1108.08H1880.45V1125.05H1318.27zM1999.71 1108.08H2016.74V1125.05H1999.71zM2067.85 1108.08H2084.89V1125.05H2067.85zM2135.99 1108.08H2289.32V1125.05H2135.99zM227.96 1125.05H398.32V1142.03H227.96zM568.68 1125.05H722.01V1142.03H568.68zM739.04 1125.05H773.11V1142.03H739.04zM1199.01 1125.05H1284.19V1142.03H1199.01zM1335.30 1125.05H1897.49V1142.03H1335.30zM1965.63 1125.05H1982.67V1142.03H1965.63zM1999.71 1125.05H2050.81V1142.03H1999.71zM2153.03 1125.05H2289.32V1142.03H2153.03zM245.00 1142.03H364.25V1159.00H245.00zM483.50 1142.03H517.57V1159.00H483.50zM551.65 1142.03H722.01V1159.00H551.65zM739.04 1142.03H773.11V1159.00H739.04zM1216.05 1142.03H1284.19V1159.00H1216.05zM1318.27 1142.03H1641.95V1159.00H1318.27zM1658.99 1142.03H1880.45V1159.00H1658.99zM1897.49 1142.03H1931.56V1159.00H1897.49zM1965.63 1142.03H2050.81V1159.00H1965.63zM2135.99 1142.03H2306.35V1159.00H2135.99zM262.03 1159.00H364.25V1175.98H262.03zM466.47 1159.00H824.22V1175.98H466.47zM1233.09 1159.00H1624.91V1175.98H1233.09zM1676.02 1159.00H1931.56V1175.98H1676.02zM1948.60 1159.00H2050.81V1175.98H1948.60zM2135.99 1159.00H2306.35V1175.98H2135.99zM262.03 1175.98H364.25V1192.95H262.03zM466.47 1175.98H653.86V1192.95H466.47zM670.90 1175.98H841.26V1192.95H670.90zM1250.12 1175.98H1590.84V1192.95H1250.12zM1658.99 1175.98H1897.49V1192.95H1658.99zM2153.03 1175.98H2306.35V1192.95H2153.03zM262.03 1192.95H330.18V1209.93H262.03zM398.32 1192.95H653.86V1209.93H398.32zM687.93 1192.95H841.26V1209.93H687.93zM1267.16 1192.95H1573.81V1209.93H1267.16zM1658.99 1192.95H1812.31V1209.93H1658.99zM1846.38 1192.95H1863.42V1209.93H1846.38zM1880.45 1192.95H1897.49V1209.93H1880.45zM2118.96 1192.95H2135.99V1209.93H2118.96zM2204.14 1192.95H2289.32V1209.93H2204.14zM262.03 1209.93H330.18V1226.90H262.03zM381.29 1209.93H653.86V1226.90H381.29zM704.97 1209.93H790.15V1226.90H704.97zM824.22 1209.93H858.29V1226.90H824.22zM1267.16 1209.93H1573.81V1226.90H1267.16zM1607.88 1209.93H1624.91V1226.90H1607.88zM1641.95 1209.93H1761.20V1226.90H1641.95zM2238.21 1209.93H2255.25V1226.90H2238.21zM296.11 1226.90H313.14V1243.88H296.11zM364.25 1226.90H653.86V1243.88H364.25zM687.93 1226.90H773.11V1243.88H687.93zM824.22 1226.90H858.29V1243.88H824.22zM1267.16 1226.90H1727.13V1243.88H1267.16zM2204.14 1226.90H2238.21V1243.88H2204.14zM381.29 1243.88H773.11V1260.85H381.29zM824.22 1243.88H858.29V1260.85H824.22zM1284.19 1243.88H1693.06V1260.85H1284.19zM2187.10 1243.88H2238.21V1260.85H2187.10zM398.32 1260.85H739.04V1277.83H398.32zM824.22 1260.85H841.26V1277.83H824.22zM1301.23 1260.85H1471.59V1277.83H1301.23zM1522.70 1260.85H1676.02V1277.83H1522.70zM2187.10 1260.85H2238.21V1277.83H2187.10zM415.36 1277.83H534.61V1294.80H415.36zM551.65 1277.83H739.04V1294.80H551.65zM807.19 1277.83H841.26V1294.80H807.19zM1301.23 1277.83H1420.48V1294.80H1301.23zM1539.73 1277.83H1676.02V1294.80H1539.73zM2170.07 1277.83H2221.17V1294.80H2170.07zM449.43 1294.80H500.54V1311.78H449.43zM551.65 1294.80H739.04V1311.78H551.65zM807.19 1294.80H841.26V1311.78H807.19zM1301.23 1294.80H1420.48V1311.78H1301.23zM1573.81 1294.80H1676.02V1311.78H1573.81zM2187.10 1294.80H2204.14V1311.78H2187.10zM466.47 1311.78H500.54V1328.75H466.47zM551.65 1311.78H773.11V1328.75H551.65zM807.19 1311.78H858.29V1328.75H807.19zM1301.23 1311.78H1437.52V1328.75H1301.23zM1573.81 1311.78H1676.02V1328.75H1573.81zM551.65 1328.75H773.11V1345.73H551.65zM807.19 1328.75H875.33V1345.73H807.19zM1199.01 1328.75H1233.09V1345.73H1199.01zM1318.27 1328.75H1386.41V1345.73H1318.27zM1573.81 1328.75H1676.02V1345.73H1573.81zM534.61 1345.73H670.90V1362.70H534.61zM704.97 1345.73H790.15V1362.70H704.97zM807.19 1345.73H875.33V1362.70H807.19zM1573.81 1345.73H1658.99V1362.70H1573.81zM551.65 1362.70H653.86V1379.68H551.65zM739.04 1362.70H892.37V1379.68H739.04zM1573.81 1362.70H1641.95V1379.68H1573.81zM619.79 1379.68H636.83V1396.65H619.79zM790.15 1379.68H892.37V1396.65H790.15zM824.22 1396.65H858.29V1413.63H824.22zM875.33 1396.65H892.37V1413.63H875.33zM841.26 1413.63H858.29V1430.60H841.26zM2033.78 1430.60H2084.89V1447.58H2033.78zM2016.74 1447.58H2118.96V1464.55H2016.74zM892.37 1464.55H926.44V1481.53H892.37zM2016.74 1464.55H2118.96V1481.53H2016.74zM892.37 1481.53H960.51V1498.50H892.37zM1982.67 1481.53H2118.96V1498.50H1982.67zM909.40 1498.50H960.51V1515.48H909.40zM1931.56 1498.50H1999.71V1515.48H1931.56zM2050.81 1498.50H2118.96V1515.48H2050.81zM926.44 1515.48H960.51V1532.45H926.44zM1130.87 1515.48H1147.91V1532.45H1130.87zM1948.60 1515.48H1982.67V1532.45H1948.60zM2067.85 1515.48H2101.92V1532.45H2067.85zM909.40 1532.45H943.47V1549.43H909.40zM1079.76 1532.45H1216.05V1549.43H1079.76zM1079.76 1549.43H1250.12V1566.40H1079.76zM1096.80 1566.40H1318.27V1583.38H1096.80zM2101.92 1566.40H2118.96V1583.38H2101.92zM1113.83 1583.38H1335.30V1600.35H1113.83zM1727.13 1583.38H1744.17V1600.35H1727.13zM2101.92 1583.38H2135.99V1600.35H2101.92zM1113.83 1600.35H1318.27V1617.33H1113.83zM2101.92 1600.35H2153.03V1617.33H2101.92zM1113.83 1617.33H1301.23V1634.30H1113.83zM2101.92 1617.33H2170.07V1634.30H2101.92zM1130.87 1634.30H1250.12V1651.28H1130.87zM2118.96 1634.30H2187.10V1651.28H2118.96zM1130.87 1651.28H1250.12V1668.25H1130.87zM2135.99 1651.28H2170.07V1668.25H2135.99zM1147.91 1668.25H1233.09V1685.23H1147.91zM2153.03 1668.25H2170.07V1685.23H2153.03zM1164.94 1685.23H1233.09V1702.20H1164.94zM2153.03 1685.23H2187.10V1702.20H2153.03zM1164.94 1702.20H1233.09V1719.18H1164.94zM1164.94 1719.18H1233.09V1736.15H1164.94zM2272.28 1719.18H2289.32V1736.15H2272.28zM1181.98 1736.15H1233.09V1753.13H1181.98zM2221.17 1736.15H2289.32V1753.13H2221.17zM1181.98 1753.13H1233.09V1770.10H1181.98zM2221.17 1753.13H2272.28V1770.10H2221.17zM1216.05 1770.10H1233.09V1787.08H1216.05zM2135.99 1770.10H2153.03V1787.08H2135.99zM2170.07 1770.10H2187.10V1787.08H2170.07z"/>
<path fill="#e2edf3" d="M313.14 191.42H364.25V208.40H313.14zM296.11 208.40H415.36V225.38H296.11zM313.14 225.38H466.47V242.35H313.14zM279.07 242.35H296.11V259.32H279.07zM313.14 242.35H347.21V259.32H313.14zM364.25 242.35H534.61V259.32H364.25zM381.29 259.32H585.72V276.30H381.29zM466.47 276.30H500.54V293.27H466.47zM551.65 276.30H636.83V293.27H551.65zM551.65 293.27H653.86V310.25H551.65zM551.65 310.25H653.86V327.23H551.65zM551.65 327.23H653.86V344.20H551.65zM534.61 344.20H670.90V361.18H534.61zM977.55 344.20H1062.73V361.18H977.55zM534.61 361.18H670.90V378.15H534.61zM960.51 361.18H1079.76V378.15H960.51zM1113.83 361.18H1284.19V378.15H1113.83zM534.61 378.15H551.65V395.12H534.61zM585.72 378.15H670.90V395.12H585.72zM960.51 378.15H1096.80V395.12H960.51zM1113.83 378.15H1301.23V395.12H1113.83zM517.57 395.12H551.65V412.10H517.57zM585.72 395.12H670.90V412.10H585.72zM960.51 395.12H1318.27V412.10H960.51zM466.47 412.10H534.61V429.08H466.47zM602.75 412.10H687.93V429.08H602.75zM960.51 412.10H1335.30V429.08H960.51zM1420.48 412.10H1488.63V429.08H1420.48zM483.50 429.08H534.61V446.05H483.50zM602.75 429.08H704.97V446.05H602.75zM960.51 429.08H1352.34V446.05H960.51zM1420.48 429.08H1505.66V446.05H1420.48zM1522.70 429.08H1556.77V446.05H1522.70zM483.50 446.05H534.61V463.03H483.50zM602.75 446.05H739.04V463.03H602.75zM977.55 446.05H1403.45V463.03H977.55zM1437.52 446.05H1522.70V463.03H1437.52zM483.50 463.03H517.57V480.00H483.50zM602.75 463.03H773.11V480.00H602.75zM994.58 463.03H1369.37V480.00H994.58zM483.50 480.00H517.57V496.98H483.50zM602.75 480.00H773.11V496.98H602.75zM1011.62 480.00H1352.34V496.98H1011.62zM483.50 496.98H517.57V513.95H483.50zM602.75 496.98H773.11V513.95H602.75zM1011.62 496.98H1369.37V513.95H1011.62zM500.54 513.95H517.57V530.92H500.54zM602.75 513.95H722.01V530.92H602.75zM739.04 513.95H790.15V530.92H739.04zM1011.62 513.95H1386.41V530.92H1011.62zM602.75 530.92H619.79V547.90H602.75zM670.90 530.92H687.93V547.90H670.90zM722.01 530.92H790.15V547.90H722.01zM994.58 530.92H1386.41V547.90H994.58zM722.01 547.90H807.19V564.88H722.01zM977.55 547.90H1505.66V564.88H977.55zM670.90 564.88H824.22V581.85H670.90zM960.51 564.88H1522.70V581.85H960.51zM1539.73 564.88H1573.81V581.85H1539.73zM687.93 581.85H841.26V598.83H687.93zM960.51 581.85H1522.70V598.83H960.51zM1556.77 581.85H1590.84V598.83H1556.77zM722.01 598.83H875.33V615.80H722.01zM960.51 598.83H1233.09V615.80H960.51zM1250.12 598.83H1505.66V615.80H1250.12zM739.04 615.80H892.37V632.78H739.04zM977.55 615.80H1216.05V632.78H977.55zM1250.12 615.80H1488.63V632.78H1250.12zM1590.84 615.80H1607.88V632.78H1590.84zM756.08 632.78H909.40V649.75H756.08zM960.51 632.78H1181.98V649.75H960.51zM1250.12 632.78H1488.63V649.75H1250.12zM1590.84 632.78H1607.88V649.75H1590.84zM2187.10 632.78H2204.14V649.75H2187.10zM773.11 649.75H926.44V666.73H773.11zM960.51 649.75H1113.83V666.73H960.51zM1250.12 649.75H1471.59V666.73H1250.12zM1693.06 649.75H1710.09V666.73H1693.06zM1727.13 649.75H1744.17V666.73H1727.13zM790.15 666.73H926.44V683.70H790.15zM960.51 666.73H1096.80V683.70H960.51zM1250.12 666.73H1471.59V683.70H1250.12zM1641.95 666.73H1744.17V683.70H1641.95zM2187.10 666.73H2272.28V683.70H2187.10zM824.22 683.70H1113.83V700.67H824.22zM1250.12 683.70H1454.55V700.67H1250.12zM1573.81 683.70H1744.17V700.67H1573.81zM1948.60 683.70H1982.67V700.67H1948.60zM2204.14 683.70H2306.35V700.67H2204.14zM858.29 700.67H1130.87V717.65H858.29zM1250.12 700.67H1454.55V717.65H1250.12zM1573.81 700.67H1727.13V717.65H1573.81zM1931.56 700.67H1982.67V717.65H1931.56zM2101.92 700.67H2135.99V717.65H2101.92zM2170.07 700.67H2323.39V717.65H2170.07zM875.33 717.65H1147.91V734.62H875.33zM1250.12 717.65H1471.59V734.62H1250.12zM1573.81 717.65H1744.17V734.62H1573.81zM1948.60 717.65H1965.63V734.62H1948.60zM2084.89 717.65H2323.39V734.62H2084.89zM892.37 734.62H1147.91V751.60H892.37zM1250.12 734.62H1471.59V751.60H1250.12zM1590.84 734.62H1744.17V751.60H1590.84zM2050.81 734.62H2323.39V751.60H2050.81zM670.90 751.60H756.08V768.58H670.90zM909.40 751.60H1164.94V768.58H909.40zM1267.16 751.60H1471.59V768.58H1267.16zM1624.91 751.60H1744.17V768.58H1624.91zM2033.78 751.60H2323.39V768.58H2033.78zM568.68 768.58H585.72V785.55H568.68zM653.86 768.58H756.08V785.55H653.86zM943.47 768.58H1164.94V785.55H943.47zM1335.30 768.58H1471.59V785.55H1335.30zM1676.02 768.58H1744.17V785.55H1676.02zM1965.63 768.58H1982.67V785.55H1965.63zM1999.71 768.58H2323.39V785.55H1999.71zM551.65 785.55H619.79V802.53H551.65zM636.83 785.55H756.08V802.53H636.83zM943.47 785.55H1164.94V802.53H943.47zM1335.30 785.55H1454.55V802.53H1335.30zM1693.06 785.55H1761.20V802.53H1693.06zM1778.24 785.55H1795.27V802.53H1778.24zM1965.63 785.55H2340.43V802.53H1965.63zM534.61 802.53H756.08V819.50H534.61zM943.47 802.53H1181.98V819.50H943.47zM1352.34 802.53H1437.52V819.50H1352.34zM1693.06 802.53H1812.31V819.50H1693.06zM1931.56 802.53H2238.21V819.50H1931.56zM2289.32 802.53H2323.39V819.50H2289.32zM534.61 819.50H619.79V836.48H534.61zM636.83 819.50H756.08V836.48H636.83zM960.51 819.50H1199.01V836.48H960.51zM1352.34 819.50H1420.48V836.48H1352.34zM1676.02 819.50H1829.35V836.48H1676.02zM1897.49 819.50H2255.25V836.48H1897.49zM2289.32 819.50H2323.39V836.48H2289.32zM534.61 836.48H619.79V853.45H534.61zM636.83 836.48H773.11V853.45H636.83zM790.15 836.48H858.29V853.45H790.15zM960.51 836.48H1216.05V853.45H960.51zM1335.30 836.48H1488.63V853.45H1335.30zM1522.70 836.48H1573.81V853.45H1522.70zM1624.91 836.48H1795.27V853.45H1624.91zM1812.31 836.48H2255.25V853.45H1812.31zM2272.28 836.48H2289.32V853.45H2272.28zM2340.43 836.48H2357.46V853.45H2340.43zM534.61 853.45H875.33V870.42H534.61zM977.55 853.45H1216.05V870.42H977.55zM1318.27 853.45H2033.78V870.42H1318.27zM2135.99 853.45H2272.28V870.42H2135.99zM517.57 870.42H585.72V887.40H517.57zM653.86 870.42H875.33V887.40H653.86zM1011.62 870.42H1199.01V887.40H1011.62zM1318.27 870.42H1676.02V887.40H1318.27zM1727.13 870.42H1744.17V887.40H1727.13zM1761.20 870.42H1812.31V887.40H1761.20zM1829.35 870.42H1999.71V887.40H1829.35zM2170.07 870.42H2289.32V887.40H2170.07zM534.61 887.40H585.72V904.38H534.61zM653.86 887.40H670.90V904.38H653.86zM722.01 887.40H875.33V904.38H722.01zM1028.65 887.40H1181.98V904.38H1028.65zM1335.30 887.40H1658.99V904.38H1335.30zM1744.17 887.40H1778.24V904.38H1744.17zM1795.27 887.40H1948.60V904.38H1795.27zM2170.07 887.40H2289.32V904.38H2170.07zM2357.46 887.40H2374.50V904.38H2357.46zM739.04 904.38H875.33V921.35H739.04zM1045.69 904.38H1147.91V921.35H1045.69zM1335.30 904.38H1641.95V921.35H1335.30zM1812.31 904.38H1846.38V921.35H1812.31zM2204.14 904.38H2289.32V921.35H2204.14zM739.04 921.35H756.08V938.33H739.04zM773.11 921.35H858.29V938.33H773.11zM1045.69 921.35H1147.91V938.33H1045.69zM1335.30 921.35H1403.45V938.33H1335.30zM1505.66 921.35H1641.95V938.33H1505.66zM2221.17 921.35H2289.32V938.33H2221.17zM1045.69 938.33H1079.76V955.30H1045.69zM1096.80 938.33H1130.87V955.30H1096.80zM1539.73 938.33H1624.91V955.30H1539.73zM2221.17 938.33H2306.35V955.30H2221.17zM1573.81 955.30H1590.84V972.28H1573.81zM2238.21 955.30H2306.35V972.28H2238.21zM2221.17 972.28H2306.35V989.25H2221.17zM2221.17 989.25H2306.35V1006.23H2221.17zM2221.17 1006.23H2306.35V1023.20H2221.17zM2238.21 1023.20H2289.32V1040.17H2238.21zM1539.73 1040.17H1556.77V1057.15H1539.73zM2221.17 1040.17H2306.35V1057.15H2221.17zM1556.77 1057.15H1573.81V1074.12H1556.77zM2238.21 1057.15H2391.53V1074.12H2238.21zM2255.25 1074.12H2391.53V1091.10H2255.25zM2272.28 1091.10H2391.53V1108.08H2272.28zM2289.32 1108.08H2374.50V1125.05H2289.32zM2289.32 1125.05H2357.46V1142.03H2289.32zM1641.95 1142.03H1658.99V1159.00H1641.95zM2306.35 1142.03H2323.39V1159.00H2306.35zM1624.91 1159.00H1676.02V1175.98H1624.91zM653.86 1175.98H670.90V1192.95H653.86zM1590.84 1175.98H1658.99V1192.95H1590.84zM653.86 1192.95H687.93V1209.93H653.86zM1573.81 1192.95H1658.99V1209.93H1573.81zM653.86 1209.93H704.97V1226.90H653.86zM790.15 1209.93H824.22V1226.90H790.15zM1573.81 1209.93H1607.88V1226.90H1573.81zM1624.91 1209.93H1641.95V1226.90H1624.91zM653.86 1226.90H687.93V1243.88H653.86zM773.11 1226.90H824.22V1243.88H773.11zM773.11 1243.88H824.22V1260.85H773.11zM739.04 1260.85H824.22V1277.83H739.04zM739.04 1277.83H807.19V1294.80H739.04zM739.04 1294.80H807.19V1311.78H739.04zM773.11 1311.78H807.19V1328.75H773.11zM773.11 1328.75H807.19V1345.73H773.11zM670.90 1345.73H704.97V1362.70H670.90zM790.15 1345.73H807.19V1362.70H790.15zM653.86 1362.70H739.04V1379.68H653.86zM636.83 1379.68H722.01V1396.65H636.83zM892.37 1498.50H909.40V1515.48H892.37zM892.37 1515.48H926.44V1532.45H892.37zM2204.14 1770.10H2221.17V1787.08H2204.14z"/>
<path fill="#fae7dc" d="M636.83 276.30H653.86V293.27H636.83zM653.86 293.27H704.97V310.25H653.86zM653.86 310.25H704.97V327.23H653.86zM773.11 310.25H824.22V327.23H773.11zM653.86 327.23H704.97V344.20H653.86zM790.15 327.23H926.44V344.20H790.15zM670.90 344.20H704.97V361.18H670.90zM807.19 344.20H977.55V361.18H807.19zM670.90 361.18H704.97V378.15H670.90zM807.19 361.18H960.51V378.15H807.19zM670.90 378.15H722.01V395.12H670.90zM807.19 378.15H960.51V395.12H807.19zM670.90 395.12H960.51V412.10H670.90zM687.93 412.10H960.51V429.08H687.93zM704.97 429.08H960.51V446.05H704.97zM739.04 446.05H977.55V463.03H739.04zM773.11 463.03H994.58V480.00H773.11zM773.11 480.00H1011.62V496.98H773.11zM773.11 496.98H1011.62V513.95H773.11zM790.15 513.95H1011.62V530.92H790.15zM790.15 530.92H994.58V547.90H790.15zM807.19 547.90H977.55V564.88H807.19zM824.22 564.88H960.51V581.85H824.22zM841.26 581.85H960.51V598.83H841.26zM875.33 598.83H960.51V615.80H875.33zM892.37 615.80H977.55V632.78H892.37zM909.40 632.78H960.51V649.75H909.40zM926.44 649.75H960.51V666.73H926.44zM926.44 666.73H960.51V683.70H926.44z"/>
<path fill="#f7b799" d="M704.97 293.27H739.04V310.25H704.97zM704.97 310.25H773.11V327.23H704.97zM704.97 327.23H790.15V344.20H704.97zM704.97 344.20H807.19V361.18H704.97zM704.97 361.18H807.19V378.15H704.97zM722.01 378.15H807.19V395.12H722.01z"/>
</g>
<path d="M235.7 197.2 L232.6 208.2 L229.9 215.4 L228.9 223.7 L232.6 235.1 L232.6 245.4 L230.5 260.9 L229.3 276.5 L226.8 286.4 L232 282.7 L239.8 290.9 L225.4 292.6 L224.7 300.3 L231.4 307.1 L226.8 316.8 L223.7 320.5 L223.3 309.6 L219.6 318.9 L215 326.8M215 326.8 L217.5 332.3 L214.4 345.8 L210.2 358.2 L204.7 369.6 L200.9 377.9 L192.7 393.4 L185.4 410 L179.8 424.4 L177.8 432.7 L170.9 441 L164.1 456.5 L158.5 470 L149.2 479.9M215 326.8 L229.9 329.6 L239.2 335 L241.9 342.1 L246.5 345.4 L251 345.8M217.5 334.4 L228.9 337.5 L237.2 338.5M235.7 197.2 L244.4 205 L252.7 213.3 L261 220.6 L273.4 226.8 L283.7 232 L291.6 232.6 L295.1 238.6 L301.3 239.8 L304.8 238.2 L303.4 245.4 L304.4 254.3 L296.1 257.8 L285.8 266.1 L276.5 273.4 L274 278.5 L283.7 276.9 L294.1 268.2 L300.3 263 L304.4 258.9 L301.3 271.3 L303.4 281.6 L298.2 288.9 L287.9 298.2 L282.7 295.1 L274.4 292 L280.6 286.8 L287.9 285.8 L292 290.9 L300.3 289.9 L306.5 285.8 L308.6 275.4 L311.7 263 L316.8 256.8 L323.1 252.7 L321 242.3 L319.9 234 L315.8 224.7 L323.1 221.2 L326.2 213.3 L326.6 205 L321.4 200.9 L321 190.6 L315.8 182.3 L310.6 182.3M310.6 229.9 L318.9 228.8 L322 236.1 L314.8 238.2 L309.6 236.1 L310.6 229.9M309.6 244.4 L318.9 242.3 L322 251.6 L314.8 255.8 L310.2 251.6 L309.6 244.4M299.2 207.1 L304.4 205 L313.7 204 L315.8 209.2 L309.6 212.3 L306.5 218.5 L301.3 214.4 L299.2 207.1M234.1 180.2 L244.4 190.6 L252.7 197.2 L261 205 L270.3 210.8 L278.6 214.4 L283.7 212.3 L289.9 213.7 L290.3 200.9 L287.9 190.6 L285.8 180.2ZM292 180.2 L294.1 188.5 L292 196.8 L294.1 180.2M1955.5 193.2 L1958.6 188.5 L1963.8 183.3 L1967.9 180.2M1984.5 179.8 L1993.8 183.3 L2002.1 190.6 L2010.4 196.8 L2018.6 203.4M2466.5 180.2 L2456.2 188.5 L2452.1 196.8 L2445.8 207.1 L2441.7 221.6 L2438.6 234 L2433.4 246.4 L2426.2 255.8 L2427.2 271.3 L2424.1 285.8 L2416.9 302.3 L2412.7 314.7 L2408.6 327.2 L2400.3 339.6 L2394.1 349.9 L2387.9 358.2 L2379.6 366.5 L2369.3 369.6 L2358.9 381 L2354.8 389.3 L2344.4 401.7 L2334.1 410 L2328.9 420.3 L2325.8 434.8 L2320.6 445.1 L2313.4 449.3 L2309.2 457.6 L2303 463.8 L2290.6 465.8M2426.2 255.8 L2414.8 253.7 L2396.2 253.1 L2381.7 255.8 L2371.3 256.4M2426.2 257.2 L2414.8 256.4 L2396.2 255.8 L2381.7 258.4M2507.9 180.2 L2491.4 196.8 L2476.9 211.3 L2466.5 223.7 L2456.2 236.1 L2447.9 252.7 L2439.6 269.2 L2435.5 285.8 L2429.3 300.3 L2427.2 314.7 L2421 327.2 L2412.7 337.5 L2404.4 345.8 L2396.2 354.1 L2390 360.3 L2379.6 368.6 L2361 386.2 L2346.5 404.8 L2334.1 415.1 L2329.9 422.4 L2327.9 434.8 L2323.7 447.2 L2325.8 461.7 L2313.4 470 L2303 479.9M2313.4 449.3 L2319.6 453.4 L2317.5 461.7 L2309.2 467.9 L2296.8 479.9M2545.2 224.7 L2555.5 214.4 L2568 210.2 L2575 205M2561.8 213.3 L2575 216.4M2530.7 479.9 L2532.8 463.8 L2538 453.4 L2541.1 463.8 L2547.3 472.1 L2553.5 459.6 L2561.8 451.4 L2570 445.1 L2575 441M2575 216.4 L2583.3 218.5 L2589.5 223.7 L2594.7 228.2 L2599.8 225.7 L2606 215.4 L2614.3 209.2 L2626.7 210.2 L2628.8 200.9 L2629.8 192.6 L2634 196.8 L2634 205 L2629.8 211.3 L2626.7 221.6 L2629.8 234 L2625.7 244.4 L2619.5 255.8 L2626.7 255.8 L2633 251 L2641.2 251 L2642.3 258.9 L2647.4 268.2 L2653.7 271.3 L2659.9 281.6 L2665 287.4 L2670.2 292.4 L2682.6 288.9 L2695 285.8 L2701.3 287.8 L2697.1 294 L2693 299.2 L2699.2 298.2 L2711.6 300.3 L2719.9 296.1 L2730.2 299.2 L2740.6 293 L2753 289.9 L2755.1 296.1 L2765.4 292 L2773.7 279.6 L2779.9 269.6 L2784.1 273.4 L2790.3 278.5 L2798.5 276.5 L2804.7 271.3 L2811 273.4 L2822.3 277.5M2575 440 L2583.3 435.8 L2587.4 429.6 L2595.7 423.4 L2599.8 420.3 L2605 410 L2598.8 408.9 L2595.7 400.6 L2586.4 397.5 L2581.2 396.5 L2587.4 392.4 L2595.7 391.3 L2601.9 394.4 L2610.2 391.3 L2618.5 385.1 L2624.7 381 L2630.9 373.7 L2624.7 368.6 L2629.8 361.3 L2630.9 372.7 L2637.1 371.7 L2643.3 364.4 L2651.6 356.1 L2659.9 345.8 L2668.1 335.4 L2676.4 327.2 L2678.5 315.8 L2672.3 309.6 L2682.6 311.6 L2690.9 307.5 L2687.8 316.8 L2682.6 327.2 L2676.4 337.5 L2674.4 346.8 L2682.6 345.8 L2686.8 338.5 L2697.1 335.4 L2707.5 331.3 L2717.8 327.2 L2728.2 323 L2737.5 322 L2730.2 328.2 L2719.9 335.4 L2710.6 345.8 L2715.7 355.1 L2709.5 349.9 L2701.3 351 L2697.1 345.8 L2690.9 352 L2684.7 360.3 L2678.5 368.6 L2672.3 376.8 L2666.1 385.1 L2661.9 391.3 L2656.8 401.7 L2650.5 410 L2647.4 424.4 L2649.5 436.9 L2653.7 445.1 L2661.9 455.5 L2668.1 452.4 L2674.4 457.6 L2682.6 463.8 L2686.8 462.7 L2695 460.7 L2699.2 456.5 L2696.1 451.4 L2699.2 445.1 L2707.5 441 L2711.6 432.7 L2715.7 422.4 L2719.9 412 L2722 401.7 L2725.1 396.5 L2720.9 391.3 L2717.8 385.1 L2720.9 379.9 L2729.2 381 L2728.2 372.7 L2736.4 374.8 L2742.7 377.9 L2749.9 374.8 L2746.8 369.6 L2742.7 364.4 L2748.9 363.4 L2757.1 362.4 L2761.3 356.1 L2771.6 347.9 L2782 337.5 L2794.4 327.2 L2802.7 318.9 L2811 308.5 L2822.3 299.2M2614.3 179.8 L2617.4 184.3 L2610.2 192.6 L2601.9 203 L2591.6 206.1 L2575 205M2664 265.1 L2665 256.8 L2668.1 244.4 L2672.3 236.1 L2676.4 244.4 L2675.4 254.7 L2682.6 257.8 L2689.9 263 L2695 269.2 L2697.1 258.9 L2707.5 257.8 L2719.9 258.9 L2732.3 252.7 L2744.7 245.4 L2757.1 239.2 L2764.4 240.2 L2759.2 248.5 L2753 256.8 L2747.8 263 L2750.9 270.2 L2757.1 272.3 L2750.9 276.5 L2742.7 275.4 L2738.5 270.2 L2734.4 276.5 L2731.3 268.2 L2728.2 263 L2724 271.3 L2717.8 276.5 L2707.5 277.5 L2699.2 275.4 L2696.1 270.2 L2687.8 274.4 L2681.6 275.4 L2679.5 269.2 L2672.3 265.1ZM2740.6 179.2 L2742.7 194.7 L2748.9 195.7 L2753 190.6 L2747.8 186.4 L2750.9 179.2ZM2805.8 178.1 L2801.6 192.6 L2797.5 203 L2798.5 221.6 L2795.4 236.1 L2792.3 246.4 L2794.4 256.8 L2800.6 265.1 L2808.9 270.2 L2815.1 271.3 L2823.4 267.1 L2823.4 178.1ZM2811 250.2 L2816.1 239.2 L2820.3 237.1M2813 252.7 L2817.2 258.9 L2820.3 263M2813 246.4 L2819.2 248.5M2811 287.4 L2818.2 284.1M2610.2 407.9 L2615.4 406.9 L2617.4 414.1 L2612.3 421.3 L2609.8 416.2ZM2642.3 432.7 L2643.3 425.5 L2647.4 412 L2654.7 403.7 L2651.6 412 L2647 422.4 L2645 432.7M2656.8 394.4 L2666.1 390.3 L2664 396.5 L2657.8 400.6 L2656.8 394.4M149.2 480 L143.4 488.7 L150.8 487.2 L144 489.3 L136.8 498.6 L128.5 509 L121.2 517.3 L122.7 528.6 L118.1 540 L116.1 548.3 L114.4 559.7 L119.2 569 L113 580.4 L116.1 587.6 L114 602.1 L106.8 614.5 L101.6 627 L93.3 638.3 L88.1 641.4 L80.9 649.7 L76.7 658 L74.7 666.3 L80.9 678.7 L85 691.1 L88.1 702.5 L86.1 713.9 L79.8 724.2 L79.8 738.7 L74.7 753.2 L80.9 767.7 L86.1 780.1 L91.2 785.9M2281.3 500.7 L2292.7 489.3 L2303 482.1 L2307.2 480M2284.4 500.7 L2294.7 491.4 L2305.1 483.1M2534.8 480 L2531.7 488.3 L2520.4 495.5 L2510 500.7 L2507.9 509 L2497.6 513.1 L2493.4 523.5 L2490.3 533.8 L2486.2 546.2 L2483.1 558.7 L2481 569 L2483.1 581.4 L2489.3 585.6 L2496.6 588.7 L2491.4 592.8 L2487.2 604.2 L2483.1 611.4 L2491.4 614.5 L2499.7 618.7 L2507.9 627 L2516.2 633.2 L2526.6 635.2 L2534.8 633.2 L2541.1 631.1 L2544.2 632.1 L2543.1 624.9 L2538 617.6 L2530.7 613.5 L2523.5 614.5 L2528.6 612.5 L2536.9 614.5 L2543.1 622.8 L2545.2 633.2 L2539 637.3 L2530.7 641.4 L2520.4 645.6 L2515.2 651.8 L2512.1 644.5 L2505.9 649.7 L2499.7 655.9 L2491.4 660.1 L2487.2 651.8 L2481 653.9 L2485.2 662.1 L2479 666.3 L2483.1 670.4 L2476.9 675.6 L2467.6 678.7 L2458.3 683.9 L2447.9 688 L2437.6 693.2 L2429.3 696.3 L2421 697.3 L2414.8 703.5 L2406.5 709.7 L2398.2 718 L2392 724.2 L2385.8 732.5 L2383.8 740.8 L2377.5 747 L2373.4 753.2 L2373.4 759.4 L2379.6 762.5 L2385.8 759.4 L2390 769.8 L2392 785.9M2384.8 737.7 L2394.1 728.4 L2406.5 722.2 L2416.9 716 L2429.3 711.8 L2439.6 705.6 L2447.9 699.4 L2452.1 696.3 L2445.8 705.6 L2441.7 711.8 L2454.1 703.5 L2469.6 697.3 L2458.3 705.6 L2447.9 713.9 L2437.6 722.2 L2425.1 731.5 L2412.7 738.7 L2400.3 743.9 L2390 747 L2384.8 749.1 L2381.7 744.9ZM2374.4 712.9 L2379.6 720.1 L2382.7 734.6 L2381.7 744.9M2510 667.3 L2514.1 660.1 L2523.5 657 L2520.4 663.2 L2512.1 667.3ZM2536.9 661.1 L2545.2 651.8 L2550.4 658 L2543.1 662.1ZM91.2 786 L92.3 798.4 L96.4 806.7 L87.1 817 L93.3 812.9 L99.5 824.3 L107.8 833.6 L104.7 841.9 L100.5 854.3 L102.6 864.7 L98.5 872.9 L103.7 886.4 L111.9 892.6 L119.2 897.8 L120.2 906 L114 913.3 L107.8 918.5 L105.7 930.9 L109.9 943.3 L114 953.7 L118.1 968.1 L121.2 978.5 L126.4 987.8 L130.6 997.1 L136.8 1001.3 L132.6 1011.6 L140.9 1020.9 L140.9 1028.2 L136.8 1036.4 L134.7 1048.9 L130.6 1055.1 L135.7 1063.4 L149.2 1067.5 L161.6 1073.7 L172 1078.9 L180.2 1082 L188.5 1088.2 L192.7 1091.9M107.8 833.6 L109.9 824.3 L115 819.1 L121.2 820.2 L126.4 825.3 L134.7 825.3 L140.9 829.5 L149.2 832.6 L157.5 837.7M111.9 830.5 L116.1 829.5 L128.5 828.4 L145 834.6 L157.5 837.7M110.9 835.7 L111.9 846 L117.1 856.4 L121.2 863.6 L120.2 852.2 L116.1 839.8 L114 830.5M129.5 1089.2 L137.8 1087.2 L138.8 1091.9M2392 786 L2394.1 798.4 L2391 812.9 L2384.8 821.2 L2382.7 829.5 L2377.5 837.7 L2373.4 848.1 L2371.3 856.4 L2366.2 861.5 L2363.1 852.2 L2364.1 847.1 L2354.8 848.1 L2346.5 842.9 L2338.2 840.8 L2332 835.7 L2327.9 827.4 L2328.9 817 L2334.1 810.8 L2342.4 804.6 L2346.5 798.4 L2354.8 790.1 L2358.9 786M2327.9 827.4 L2332 837.7 L2340.3 850.2 L2344.4 860.5 L2354.8 868.8 L2363.1 872.9 L2365.1 883.3 L2370.3 889.5 L2371.3 897.8 L2369.3 910.2 L2367.2 922.6 L2363.1 930.9 L2358.9 947.4 L2352.7 957.8 L2349.6 970.2 L2347.5 979.5 L2343.4 972.3 L2343.4 961.9 L2345.5 949.5 L2349.6 935 L2350.6 926.7 L2342.4 928.8 L2340.3 922.6 L2336.1 916.4 L2334.1 906 L2327.9 910.2 L2321.7 910.2 L2315.4 906 L2311.3 897.8 L2313.4 893.6 L2322.7 893.6 L2313.4 889.5 L2306.1 883.3 L2307.2 872.9 L2309.2 864.7 L2306.1 856.4 L2308.2 848.1 L2313.4 841.9 L2310.3 835.7 L2305.1 841.9 L2298.9 848.1 L2294.7 856.4 L2287.5 861.5 L2292.7 868.8 L2291.6 875 L2294.7 885.4 L2296.8 895.7 L2298.9 901.9 L2291.6 901.9 L2294.7 910.2 L2303 918.5 L2313.4 926.7 L2315.4 928.8 L2303 923.6 L2292.7 920.5 L2284.4 916.4 L2287.5 922.6 L2280.3 918.5 L2276.1 915.4 L2269.9 920.5 L2264.7 918.5 L2263.7 908.1 L2268.9 898.8 L2272 887.4M2363.1 885.4 L2369.3 893.6 L2368.2 910.2 L2365.1 920.5 L2363.1 930.9M2266.8 922.6 L2278.2 928.8 L2292.7 930.9 L2307.2 935 L2319.6 939.2 L2321.7 949.5 L2316.5 951.6 L2303 945.4 L2288.5 937.1 L2276.1 931.9 L2290.6 940.2 L2305.1 949.5 L2317.5 957.8 L2325.8 959.9 L2328.9 968.1 L2321.7 972.3 L2303 967.1 L2313.4 976.4 L2325.8 982.6 L2333 987.8 L2327.9 995.1 L2313.4 988.8 L2308.2 982.6 L2294.7 981.6 L2281.3 983.7 L2294.7 985.7 L2309.2 988.8 L2317.5 996.1 L2325.8 1001.3 L2336.1 995.1 L2348.6 995.1 L2354.8 1005.4 L2363.1 1019.9 L2369.3 1032.3 L2377.5 1044.7 L2385.8 1055.1 L2393.1 1065.4 L2396.2 1079.9 L2395.1 1091.9M2354.8 1008.5 L2356.8 1019.9 L2363.1 1030.2 L2371.3 1040.6 L2379.6 1053M2321.7 1042.7 L2325.8 1055.1 L2338.2 1053 L2343.4 1042.7 L2350.6 1036.4 L2358.9 1034.4 L2363.1 1039.6 L2352.7 1042.7 L2348.6 1050.9 L2340.3 1055.1 L2326.8 1060.2 L2324.8 1053M2363.1 1053 L2363.1 1065.4 L2369.3 1053 L2375.5 1048.9 L2379.6 1061.3 L2373.4 1075.8 L2367.2 1086.1 L2354.8 1088.2 L2342.4 1091.9M2316.5 1089.2 L2334.1 1091.9M188.5 1092 L191.6 1100.3 L200.9 1108.6 L211.3 1114.8 L221.6 1117.9 L226.8 1123 L228.9 1131.3 L224.7 1137.5 L230.9 1141.7 L234.1 1138.6 L242.3 1143.7 L248.5 1152 L254.7 1158.2 L261 1168.6 L266.1 1178.9 L269.2 1191.4 L270.3 1203.8 L267.2 1212 L266.1 1219.3 L270.3 1220.3 L270.3 1228.6 L269.2 1241 L275.4 1251.4 L275.4 1263.8 L284.8 1276.2 L281.7 1282.4 L276.5 1282.4 L280.6 1285.5 L277.5 1293.8 L282.7 1305.2 L286.8 1315.5 L288.9 1325.9 L286.8 1334.2 L296.1 1348.7 L295.1 1359 L293 1371.4 L301.3 1379.7 L299.2 1390.1 L297.2 1397.9M362.4 1397.9 L364.4 1392.1 L367.6 1383.8 L366.5 1371.4 L366.5 1356.9 L363.4 1342.4 L368.6 1323.8 L374.8 1313.5 L376.9 1309.3 L372.7 1296.9 L381 1305.2 L389.3 1309.3 L397.6 1319.7 L405.8 1329 L414.1 1330 L418.3 1324.9 L426.5 1331.1 L432.8 1338.3 L431.7 1346.6 L441 1352.8 L451.4 1356.9 L460.7 1363.1 L458.6 1368.3 L454.5 1369.4 L451.4 1385.9 L453.4 1397.9M371.7 1295.9 L374.8 1311.4 L381 1311.4 L380 1305.2M132.6 1093 L140.9 1095.1 L149.2 1096.1 L152.3 1100.3 L147.1 1103.4 L140.9 1101.3 L138.8 1096.1ZM155.4 1096.1 L163.7 1097.2 L175.1 1101.3 L174 1105.5 L165.7 1104.4 L157.5 1100.3ZM157.5 1148.9 L162.6 1146.8 L166.8 1152 L162.6 1155.1 L158.5 1153.1ZM211.3 1152 L214.4 1150 L222.7 1158.2 L224.7 1165.5 L216.5 1163.4 L213.4 1156.2ZM203 1177.9 L207.1 1176.9 L210.2 1187.2 L213.4 1193.4 L209.2 1194.5 L205.1 1189.3ZM2392 1092 L2381.7 1100.3M2367.2 1113.7 L2361 1125.1 L2356.8 1136.5 L2348.6 1134.4 L2344.4 1131.3 L2352.7 1128.2 L2359.9 1115.8 L2354.8 1113.7 L2342.4 1118.9 L2334.1 1122 L2327.9 1118.9 L2321.7 1111.7 L2329.9 1114.8 L2340.3 1113.7 L2345.5 1106.5 L2346.5 1098.2 L2334.1 1095.1 L2321.7 1093M2344.4 1133.4 L2334.1 1136.5 L2323.7 1139.6 L2317.5 1146.8 L2313.4 1152 L2310.3 1141.7 L2313.4 1153.1 L2307.2 1160.3 L2301 1168.6 L2296.8 1176.9 L2293.7 1187.2 L2291.6 1181 L2292.7 1191.4 L2293.7 1197.6 L2282.3 1199.6 L2272 1201.7 L2263.7 1204.8 L2255.4 1212 L2249.2 1220.3 L2245.1 1230.7 L2240.9 1241 L2238.9 1249.3 L2234.7 1245.2 L2239.9 1255.5 L2234.7 1261.7 L2228.5 1266.9 L2223.3 1270 L2223.3 1275.2 L2218.2 1281.4 L2213 1286.6 L2207.8 1285.5 L2209.9 1292.8 L2203.7 1297.9 L2197.5 1300 L2191.3 1306.2 L2185 1309.3 L2176.8 1308.3 L2183 1314.5 L2181.9 1319.7 L2176.8 1322.8 L2170.6 1321.7 L2167.5 1315.5 L2172.6 1326.9 L2174.7 1330 L2170.6 1336.2 L2166.4 1338.3 L2166.4 1346.6 L2160.2 1351.8 L2157.1 1354.9 L2160.2 1361.1 L2156.1 1367.3 L2156.1 1375.6 L2153 1381.8 L2149.9 1390.1 L2153 1397.9M297.2 1398 L295.1 1402.1 L300.3 1404.2 L300.3 1416.6 L308.6 1427 L316.8 1436.3 L322 1443.5 L332.4 1449.7 L337.5 1460.1 L343.8 1470.4 L350 1482.9 L356.2 1495.3 L364.4 1506.7 L367.6 1519.1 L363.4 1528.4 L357.2 1537.7 L352 1545 L346.9 1548.1 L341.7 1550.1 L335.5 1552.2 L329.3 1551.2 L321 1547 L312.7 1543.9 L304.4 1540.8 L303.4 1546 L307.5 1552.2 L312.7 1558.4 L318.9 1567.7 L326.2 1575 L327.2 1581.2 L326.2 1587.4 L331.3 1592.6 L339.6 1595.7 L344.8 1599.8 L348.9 1607.1 L357.2 1611.2 L361.3 1620.5 L364.4 1626.7 L367.6 1630.9 L376.9 1627.7 L386.2 1629.8 L391.4 1625.7 L395.5 1621.5 L394.5 1636 L397.6 1645.3 L403.8 1653.6 L410 1661.9 L415.2 1668.1 L422.4 1672.2 L428.6 1676.4 L431.7 1684.7 L434.8 1694 L436.9 1703.9M362.4 1395.9 L360.3 1406.3 L363.4 1415.6 L368.6 1423.9 L369.6 1429 L374.8 1433.2 L380 1438.4 L384.1 1446.6 L389.3 1452.8 L395.5 1461.1 L399.6 1470.4 L403.8 1480.8 L403.8 1493.2 L411 1495.3 L412.1 1503.6 L418.3 1505.6 L420.3 1520.1 L424.5 1529.4 L431.7 1533.6 L430.7 1542.9 L432.8 1551.2 L429.6 1557.4 L432.8 1563.6 L430.7 1571.9 L433.8 1579.1 L439 1586.4 L448.3 1595.7 L449.3 1607.1 L452.4 1617.4 L461.7 1626.7 L459.7 1634 L463.8 1642.2 L470 1643.3 L480.4 1656.7 L481.4 1665 L484.5 1671.2 L483.5 1677.4 L486.6 1687.8 L487.6 1696.1 L485.5 1706.4M453.4 1395.9 L457.6 1408.3 L461.7 1420.8 L459.7 1439.4 L463.8 1447.7 L467.9 1460.1 L472.1 1470.4 L471 1482.9 L478.3 1489.1 L477.3 1501.5 L482.4 1513.9 L488.6 1522.2 L490.7 1532.5 L499 1545 L508.3 1551.2 L512.4 1563.6 L517.6 1573.9 L523.8 1582.2 L532.1 1586.4 L538.3 1585.3M464.8 1645.3 L463.8 1654.7 L471 1662.9 L467.9 1654.7 L464.8 1645.3M464.8 1491.1 L474.1 1490.1 L475.2 1505.6 L467.9 1520.1 L456.6 1511.8 L459.7 1501.5 L464.8 1491.1M406.9 1454.9 L412.1 1454.9 L418.3 1464.2 L419.3 1471.5 L426.5 1475.6 L425.5 1493.2 L418.3 1482.9 L410 1470.4 L405.8 1462.2 L406.9 1454.9M291 1522.2 L296.1 1517 L299.2 1507.7 L303.4 1506.7 L304.4 1518 L300.3 1528.4ZM144 1412.5 L148.2 1410.4 L152.3 1420.8 L150.2 1429 L146.1 1430.1ZM344.8 1555.3 L346.9 1550.1 L354.1 1549.1 L352 1558.4 L356.2 1565.7 L351 1565.7 L344.8 1555.3M535 1587.4 L543.3 1590.5 L553.6 1595.7 L547.4 1602.9 L545.3 1613.3 L547.4 1625.7 L553.6 1636 L560.9 1643.3 L570.2 1647.4 L577.4 1650.9 L577.4 1662.9 L580.5 1673.3 L585.7 1677.4 L598.1 1678.5 L604.3 1686.7 L608.5 1692.9 L610.5 1706.4M1555 1562.5 L1545.9 1560.5 L1535.5 1555.3 L1525.2 1552.2 L1514.8 1551.2 L1500.4 1553.2 L1490 1555.3 L1479.7 1558.4 L1469.3 1561.5 L1459 1566.7 L1448.6 1571.9 L1438.3 1578.1 L1427.9 1585.3 L1417.6 1593.6 L1407.2 1602.9 L1396.9 1609.1 L1386.5 1615.3 L1376.2 1621.5 L1367.9 1625.7 L1355.5 1634 L1345.1 1640.2 L1334.8 1647.4 L1324.4 1655.7 L1316.1 1665 L1308.9 1673.3 L1301.7 1681.6 L1296.5 1689.8 L1291.3 1698.1 L1287.2 1703.9M1436.2 1578.1 L1430 1571.9 L1426.9 1565.7 L1421.7 1557.4 L1427.9 1558.4 L1432.1 1554.3 L1437.2 1556.3 L1435.2 1563.6 L1438.3 1568.8 L1447.6 1567.7M1414.5 1593.6 L1423.8 1587.4 L1436.2 1581.2M1367.9 1625.7 L1359.6 1625.7 L1347.2 1623.6 L1341 1626.7 L1336.8 1622.6 L1331.7 1620.5 L1334.8 1627.7 L1336.8 1636 L1344.1 1638.1 L1334.8 1641.2 L1328.6 1645.3 L1324.4 1638.1 L1321.3 1648.4 L1322.4 1651.6M1316.1 1651.6 L1312 1656.7 L1302.7 1656.7 L1303.7 1661.9 L1309.9 1659.8 L1306.8 1667.1 L1299.6 1673.3 L1291.3 1674.3 L1286.1 1674.3 L1292.3 1684.7 L1295.4 1679.5M1265.4 1698.1 L1272.7 1702.3 L1278.9 1703.9M1481.7 1554.3 L1479.7 1550.1 L1484.8 1540.8 L1489 1540.8 L1485.9 1550.1 L1481.7 1554.3M1555 1562.5 L1565.3 1563.6 L1575.7 1562.5 L1581.9 1559.4 L1579.8 1554.3 L1585 1548.1 L1593.3 1545 L1596.4 1550.1 L1604.7 1550.1 L1609.8 1556.3 L1615 1562.5 L1623.3 1563.6 L1628.5 1560.5 L1629.5 1567.7 L1635.7 1575 L1627.4 1578.1 L1637.8 1581.2 L1648.1 1584.3 L1658.5 1586.8 L1663.7 1583.2 L1666.8 1577 L1674 1575 L1680.2 1577 L1684.4 1583.2 L1687.5 1587.4 L1692.6 1584.3 L1695.7 1576 L1696.8 1565.7 L1689.5 1558.4 L1699.9 1561.5 L1708.2 1565.7 L1710.2 1569.8 L1718.5 1570.8 L1726.8 1576 L1732 1581.2 L1735.1 1591.5 L1740.2 1585.3 L1746.5 1588.4 L1749.6 1581.2 L1754.7 1578.1 L1751.6 1573.9 L1744.4 1570.8 L1743.4 1566.7 L1733 1564.6 L1724.7 1561.5 L1717.5 1557.4 L1712.3 1552.2 L1716.4 1548.1 L1720.6 1547 L1722.7 1542.9 L1732 1538.7 L1733 1532.5 L1728.9 1526.3 L1733 1521.2 L1739.2 1518 L1737.1 1517 L1728.9 1523.2 L1721.6 1524.3 L1718.5 1530.5 L1712.3 1533.6 L1705.1 1527.4 L1709.2 1522.2 L1715.4 1518 L1722.7 1513.9 L1730.9 1505.6 L1739.2 1504.6 L1747.5 1501.5 L1755.8 1498.4 L1764.1 1500.5 L1778.5 1498.4 L1793 1497.4 L1795.1 1495.3 L1796.1 1484.9 L1800.3 1476.7 L1805.4 1480.8 L1807.5 1491.1 L1813.7 1498.4 L1816.8 1502.5 L1824.1 1501.5 L1830.3 1499.4 L1828.2 1494.2 L1833.4 1492.2 L1832.4 1499.4 L1842.7 1495.3 L1844.8 1487 L1848.9 1481.8 L1856.2 1478.7 L1858.2 1487 L1846.8 1494.2 L1865.5 1489.1 L1875.8 1486 L1884.1 1481.8 L1894.4 1479.8 L1904.8 1481.8 L1886.2 1487 L1898.6 1488 L1913.1 1493.2 L1925.5 1498.4 L1927.6 1491.1 L1933.8 1488 L1932.7 1495.3 L1937.9 1503.6 L1948.3 1510.8 L1947.2 1518 L1950.3 1524.3 L1958.6 1522.2 L1969 1519.1 L1979.3 1513.9 L1985.5 1517 L1973.1 1526.3 L1964.8 1526.3 L1977.2 1522.2 L1987.6 1510.8 L1995.9 1504.6 L2003.1 1503.6 L2002.1 1497.4 L2006.2 1493.2 L2018.6 1488 L2039.3 1496.3 L2051.8 1509.8 L2065 1523.2M1671.9 1522.2 L1679.2 1507.7 L1689.5 1506.7 L1699.9 1511.8 L1712.3 1516 L1704 1520.1 L1695.7 1525.3 L1685.4 1528.8 L1677.1 1525.3 L1671.9 1522.2M1756.8 1520.1 L1760.9 1526.3 L1762 1532.5 L1758.9 1540.8 L1754.7 1547M1764.1 1508.7 L1773.4 1510.8M1786.8 1507.7 L1799.2 1504.6M1803.4 1505.6 L1811.7 1504M1586 1561.5 L1594.3 1557.4 L1602.6 1562.5 L1597.4 1568.8 L1586 1561.5M2147.8 1398 L2146.8 1410.4 L2147.8 1422.8 L2151.9 1431.1 L2156.1 1443.5 L2162.3 1458 L2168.5 1472.5 L2174.7 1484.9 L2183 1497.4 L2191.3 1509.8 L2199.5 1520.1 L2209.9 1532.5 L2220.2 1545 L2228.5 1557.4 L2227.5 1565.7 L2230.6 1578.1 L2236.8 1590.5 L2245.1 1605 L2253.4 1619.5 L2261.6 1631.9 L2268.9 1642.2 L2274.1 1654.7 L2277.2 1669.1 L2278.2 1687.8 L2279.2 1703.9M2206.8 1542.9 L2214 1551.2 L2218.2 1561.5 L2216.1 1565.7 L2222.3 1573.9 L2230.6 1588.4 L2240.9 1602.9 L2251.3 1617.4 L2259.6 1629.8 L2262.7 1634M2207.8 1543.9 L2219.2 1555.3 L2222.7 1563.6M2146.8 1402.1 L2148.8 1410.4 L2149.9 1422.8M2065 1520.1 L2075.3 1527.4 L2085.7 1534.6 L2096 1540.8 L2104.3 1548.1 L2108.5 1555.3 L2109.5 1567.7 L2110.5 1578.1 L2108.5 1590.5 L2107.4 1605 L2106.4 1615.3 L2107.4 1622.6 L2112.6 1626.7 L2118.8 1622.6 L2119.8 1614.3 L2114.7 1609.1 L2123 1613.3 L2129.2 1611.2 L2131.2 1615.3 L2126.1 1625.7 L2120.9 1636 L2116.7 1640.2 L2123 1646.4 L2129.2 1656.7 L2135.4 1665 L2141.6 1671.2 L2147.8 1676.4 L2154 1675.4 L2153 1669.1 L2161.2 1667.1 L2160.2 1677.4 L2162.3 1687.8 L2166.4 1696.1 L2170.6 1687.8 L2175.7 1682.6 L2172.6 1691.9 L2174.7 1700.2 L2177.8 1703.9M2155 1696.1 L2161.2 1702.3 L2158.1 1697.1M2334.1 1651.6 L2342.4 1655.7 L2351.7 1660.9 L2363.1 1654.7 L2375.5 1647.4 L2387.9 1642.2 L2396.2 1639.1 L2394.1 1636 L2383.8 1639.1 L2371.3 1642.2 L2361 1642.2 L2355.8 1640.2 L2353.7 1650.5 L2348.6 1655.7 L2340.3 1652.6ZM2390 1625.7 L2396.2 1621.5 L2406.5 1621.1 L2414.8 1620.5 L2423.1 1626.7 L2431.4 1634 L2443.8 1638.1 L2450 1649.5 L2443.8 1658.8 L2445.8 1669.1 L2445.8 1679.5 L2439.6 1676.4 L2432.4 1674.3 L2439.6 1667.1 L2440.7 1656.7 L2437.6 1644.3 L2429.3 1636 L2418.9 1627.7 L2406.5 1624.6 L2396.2 1626.7ZM2476.9 1706.4 L2479 1694 L2491.4 1699.2 L2505.9 1706.4ZM1332.7 1653 L1320.3 1659.2 L1312 1667.5 L1303.7 1677.8 L1296.5 1690.3 L1291.3 1702.7 L1288.2 1713 L1290.3 1725.4 L1291.3 1739.9 L1294.4 1754.4 L1297.5 1768.9 L1300.6 1785.5 L1301.7 1795.8 L1299.6 1808.2 L1295.4 1818.6 L1289.2 1831 L1283 1843.4 L1278.9 1855.8 L1274.7 1870.3 L1270.6 1884.8 L1266.5 1901.4 L1263.4 1922.1 L1261.3 1941.7M1285.1 1711 L1281 1723.4 L1277.9 1730.6 L1281 1744.1 L1284.1 1762.7 L1289.2 1775.1 L1295.4 1787.5M1309.9 1656.1 L1307.9 1663.3 L1300.6 1671.6 L1291.3 1673.7 L1286.1 1674.7 L1292.3 1684 L1295.4 1679.9M1266.5 1697.5 L1270.6 1707.8 L1283 1712 L1285.1 1706.8 L1274.7 1704.7 L1267.5 1698.5 L1266.5 1697.5M1322.4 1655.1 L1314.1 1662.3 L1307.9 1671.6M1307.9 1676.8 L1297.5 1688.2 L1289.2 1706.8M439 1706.8 L436.9 1723.4 L432.8 1737.9 L428.6 1752.4 L422.4 1764.8 L414.1 1768.9 L420.3 1777.2 L424.5 1787.5 L439 1789.6 L447.2 1789.6 L455.5 1800 L465.9 1812.4 L478.3 1824.8 L488.6 1839.3 L499 1853.8 L513.5 1866.2 L517.6 1880.7 L521.8 1897.2 L523.8 1911.7 L530 1915.9 L542.5 1911.7 L554.9 1904.7 L563.1 1899.3M563.1 1899.3 L567.3 1884.8 L563.1 1874.5 L554.9 1868.3 L552.8 1855.8 L546.6 1843.4 L540.4 1831 L532.1 1822.7 L525.9 1818.6 L519.7 1826.9 L515.5 1833.1 L507.3 1824.8 L503.1 1812.4 L501.1 1797.9 L507.3 1785.5 L505.2 1773 L499 1756.5 L496.9 1735.8 L488.6 1725.4 L484.5 1706.8M610.8 1704.7 L614.9 1708.9 L604.5 1713 L594.2 1723.4 L593 1739.9 L598.3 1750.3 L608.7 1753.6 L621.1 1746.1 L610.8 1756.5 L625.2 1759.8 L627.3 1766.8 L641.8 1779.3 L658.4 1791.7 L664.6 1797.9 L654.2 1795.8 L658.4 1806.2 L662.5 1820.7 L672.8 1831 L689.4 1837.2 L687.3 1844.2 L691.5 1849.6 L708 1866.2 L720.5 1884.8 L728.7 1901.4 L737 1913.8 L743.2 1928.3 L753.6 1942.8M428.6 1737.9 L424.5 1754.4 L416.2 1768.9 L422.4 1785.5 L434.8 1791.7 L443.1 1802 L436.9 1791.7 L426.5 1777.2 L422.4 1762.7 L428.6 1737.9M490.7 1715.1 L494.8 1702.7 L501.1 1701.8 L496.9 1711 L490.7 1715.1M511.4 1768.9 L517.6 1773 L516.8 1781.3 L510.2 1777.2 L511.4 1768.9M547.4 1822.7 L551.6 1835.1 L548.7 1837.2 L547.4 1822.7M2177.8 1701.6 L2180.9 1711 L2185 1719.2 L2191.3 1725.4 L2199.5 1729.6 L2209.9 1731.7 L2213 1735.8 L2218.2 1742 L2224.4 1750.3 L2230.6 1758.6 L2228.5 1764.8 L2229.5 1769.9 L2233.7 1774.1 L2240.9 1771 L2247.1 1767.9 L2253.4 1766.8 L2259.6 1763.7 L2265.8 1759.6 L2272 1755.5 L2275.1 1748.2 L2274.1 1739.9 L2276.1 1731.7 L2279.2 1721.3 L2281.3 1713 L2280.3 1700.6 L2279.2 1684 L2278.2 1669.6M2230.6 1758.6 L2238.9 1759.6 L2243 1764.8 L2236.8 1765.8 L2230.6 1758.6M2155 1694.4 L2162.3 1700.6 L2166.4 1699.6 L2160.2 1695.4 L2155 1694.4M2280.3 1752.4 L2278.2 1760.6 L2273 1771 L2266.8 1779.3 L2262.7 1784.4M2281.3 1751.9 L2279.4 1760.6 L2274.1 1771.4M2252.3 1790.6 L2256.5 1788.6M2235.8 1801 L2247.1 1794.8M2219.2 1801 L2226.4 1805.1 L2224.4 1808.2 L2220.2 1806.2 L2219.2 1801M2209.9 1810.3 L2214 1806.2 L2215.1 1812.4 L2209.9 1814.4 L2209.9 1810.3M2198.5 1817.5 L2204.7 1814.4M2397.2 1735.8 L2402.4 1733.7 L2414.8 1737.9 L2416.9 1744.1 L2425.1 1752.4 L2434.5 1760.6 L2437.6 1773 L2433.4 1781.3 L2426.2 1787.5 L2421 1789.6 L2414.8 1783.4 L2409.6 1778.2 L2402.4 1781.3 L2394.1 1776.2 L2393.1 1773 L2401.3 1771 L2404.4 1774.1 L2399.3 1764.8 L2403.4 1756.5 L2402.4 1746.1ZM2424.1 1791.7 L2433.4 1787.5 L2441.7 1785.5 L2450 1789.6 L2455.2 1800 L2459.3 1812.4 L2457.2 1820.7 L2444.8 1822.7 L2440.7 1812.4 L2435.5 1804.1 L2429.3 1797.9ZM2439.6 1793.7 L2443.8 1796.9M2437.6 1736.8 L2445.8 1731.7 L2456.2 1732.7 L2447.9 1738.9 L2439.6 1739.9ZM2475.9 1703.7 L2477.9 1692.3 L2487.2 1697.5 L2499.7 1701.6 L2512.1 1707.8 L2521.4 1713 L2523.5 1725.4 L2525.5 1744.1 L2518.3 1739.9 L2511 1735.8 L2520.4 1732.7 L2516.2 1715.1 L2499.7 1705.8 L2487.2 1702.7ZM2547.3 1732.7 L2553.5 1732.7 L2563.8 1744.1 L2576.2 1754.4 L2576.2 1765.8 L2570 1765.8 L2561.8 1752.4 L2551.4 1739.9ZM2546.2 1802 L2551.4 1801 L2561.8 1805.1 L2573.1 1810.3 L2570 1813.4 L2557.6 1809.3 L2547.3 1807.2ZM2115.7 1941.7 L2131.2 1931.4 L2147.8 1926.2 L2164.4 1921 L2178.8 1912.8 L2197.5 1906.6 L2214 1905.1 L2230.6 1904.5 L2240.9 1901.4 L2247.1 1900.3 L2249.2 1904.5 L2253.4 1906.6 L2263.7 1902.4 L2274.1 1899.3 L2284.4 1897.2 L2290.6 1901.4 L2303 1904.5 L2317.5 1900.3 L2325.8 1903.4 L2334.1 1901.4 L2335.1 1905.5 L2342.4 1908.6 L2350.6 1915.9 L2358.9 1921 L2369.3 1925.2 L2377.5 1926.6 L2387.9 1924.1 L2398.2 1921.7 L2408.6 1921 L2421 1924.1 L2433.4 1927.2 L2443.8 1930.4 L2452.1 1934.5 L2458.3 1938.6 L2464.5 1942.8 L2464.5 1946.9 L2115.7 1946.9ZM2346.5 1903.4 L2367.2 1911.7M2347.5 1904.7 L2367.2 1913M2406.5 1910.7 L2416.9 1907.6 L2427.2 1905.5 L2429.3 1909.7 L2416.9 1912.8 L2408.6 1913.4ZM2437.6 1909.7 L2443.8 1910.7 L2447.9 1917.9 L2441.7 1915.9ZM2450 1917.9 L2460.3 1924.1 L2454.1 1922.1 L2450 1917.9M2462.4 1928.3 L2477.9 1926.2 L2476.9 1936.6 L2470.7 1937.6 L2466.5 1932.4ZM2481 1936.6 L2495.5 1940.7M2191.3 1940.7 L2205.7 1937.6 L2218.2 1937 L2226.4 1940.7M2570.9 1753.4 L2579.1 1756.5 L2582.2 1760.6 L2575 1764.8 L2570.9 1765.8ZM2625.7 1751.3 L2629.8 1749.2 L2634 1754.4 L2631.9 1762.7 L2626.7 1762.7ZM2587.4 1791.7 L2595.7 1797.9 L2604 1808.2 L2610.2 1818.6 L2618.5 1821.7 L2626.7 1826.9 L2629.8 1835.1 L2622.6 1830 L2614.3 1824.8 L2606 1823.8 L2600.9 1822.7 L2601.9 1818.6 L2606 1817.5 L2597.8 1806.2 L2589.5 1797.9ZM2659.9 1828.9 L2668.1 1830 L2678.5 1831 L2682.6 1828.9 L2688.8 1827.9 L2690.9 1835.1 L2694 1840.3 L2689.9 1849.6 L2682.6 1857.9 L2676.4 1866.2 L2672.3 1870.3 L2673.3 1864.1 L2679.5 1855.8 L2684.7 1847.6 L2686.8 1840.3 L2682.6 1835.1 L2678.5 1837.2 L2666.1 1837.2 L2661.9 1833.1ZM2734.4 1834.1 L2744.7 1832 L2755.1 1832 L2761.3 1835.1 L2757.1 1839.3 L2748.9 1837.2 L2738.5 1839.3ZM2793.4 1857.9 L2800.6 1858.9 L2806.8 1857.9 L2800.6 1863.1 L2794.4 1864.1ZM2809.9 1846.5 L2815.1 1844.5 L2819.2 1847.6 L2819.2 1852.7 L2813 1850.7ZM2756.1 1891 L2760.2 1886.9 L2766.5 1890 L2759.2 1896.2ZM2727.1 1928.3 L2732.3 1926.2 L2735.4 1920 L2742.7 1917.9 L2750.9 1919 L2757.1 1913.8 L2759.2 1904.5 L2765.4 1905.1 L2765 1915.9 L2761.3 1928.3 L2750.9 1932.4 L2740.6 1936.6 L2730.2 1938.6 L2728.2 1934.5Z" fill="none" stroke="#000" stroke-width="4.1" stroke-linejoin="round" stroke-linecap="round"/>
<path d="M236.1 191.6 L252.7 205 L271.3 220.6 L281.7 223.7 L292 222.6 L296.1 211.3 L300.3 200.9 L303.4 186.4 L304.4 182.3 L314.8 182.3 L322 189.5M1567.4 474.1 L1575.7 465.8 L1584 456.5 L1592.3 450.3 L1602.6 444.1 L1623.3 435.8 L1631.6 429.6 L1646.1 418.2M1646.1 418.2 L1650.2 397.5 L1662.6 390.3 L1666.8 391.3 L1661.6 401.7 L1668.8 397.5 L1677.1 393.4 L1674 387.2 L1676.1 372.7 L1683.3 377.9 L1679.2 369.6 L1687.5 360.3 L1691.6 369.6 L1697.8 361.3 L1708.2 372.7 L1708.2 365.5 L1718.5 367.5 L1726.8 369.6 L1737.1 368.1 L1748.5 365.5 L1758.9 367.5 L1766.1 375.8 L1770.3 385.1 L1774.4 395.5 L1780.6 403.7 L1788.9 411 L1799.2 413.7 L1810.6 411 L1822 408.9 L1830.3 411 L1826.1 422.4 L1827.2 431.7 L1836.5 437.9 L1844.8 444.1 L1841.7 455.5 L1839.6 465.8 L1848.9 467.9 L1858.2 472.1 L1853.1 479.9M1646.1 418.2 L1652.3 428.6 L1656.4 433.8 L1662.6 428.6 L1677.1 418.2 L1681.3 412 L1677.1 401.7 L1687.5 403.7 L1708.2 414.1 L1737.1 427.6 L1768.2 442 L1799.2 455.5 L1830.3 468.9 L1833.4 479.9M1654.4 433.8 L1658.5 420.3 L1670.9 410 L1681.3 412M1786.8 427.6 L1793 421.3 L1800.3 425.5 L1793 426.9 L1786.8 427.6M1670.9 479.9 L1687.5 461.7 L1697.8 453.4 L1708.2 450.3 L1716.4 453.4 L1708.2 460.7 L1697.8 470 L1689.5 479.9M1539.7 511.5 L1555 509.4M1555 506.9 L1563.3 504.8 L1573.6 498.6 L1590.2 492.4 L1605.7 487.2M1590.2 492.4 L1596.4 500.7 L1586 513.1 L1592.3 511M1610.9 516.2 L1625.4 504.8 L1637.8 497.6 L1652.3 492.4 L1662.6 484.1 L1665.7 480M1687.5 480 L1691.6 492.4M1699.9 484.1 L1710.2 486.2 L1720.6 488.3 L1728.9 496.6 L1735.1 504.8 L1743.4 506.9 L1753.7 506.9 L1764.1 506.9 L1772.3 502.8 L1780.6 495.5 L1791 490.3 L1801.3 489.3 L1811.7 488.3 L1822 483.1 L1830.3 480M1833.4 480 L1834.4 490.3 L1837.5 497.6 L1846.8 495.5 L1855.1 488.3 L1858.2 480M1865.5 488.3 L1871.7 502.8 L1877.9 511 L1882 518.3 L1894.4 523.5M1869.6 492.4 L1882 504.8 L1894.4 515.2 L1906.9 519.3M1739.2 581.4 L1743.4 571.1 L1748.5 561.8 L1756.8 552.4 L1764.1 546.2 L1772.3 548.3 L1782.7 542.1 L1793 534.8 L1801.3 533.8 L1812.7 529.7 L1822 523.5 L1831.3 524.1 L1841.7 528.6 L1848.9 534.8M1848.9 534.8 L1853.1 524.5 L1861.3 524.5 L1871.7 523.5 L1882 523.5 L1894.4 523.5M1755.8 542.1 L1762 548.3 L1753.7 551.4M1771.3 542.1 L1772.3 549.3 L1773.4 558.7M1748.5 616.6 L1754.7 604.2 L1758.9 587.6 L1762 575.2 L1764.1 571.1 L1758.9 577.3 L1753.7 587.6 L1749.6 595.9 L1745.4 606.3 L1736.1 610.4 L1730.9 620.7 L1723.7 628 L1719.5 621.8 L1724.7 610.4 L1729.9 602.1 L1735.1 592.8 L1739.2 581.4M1737.1 594.9 L1747.5 593.8 L1756.8 586.6 L1759.9 579.4M1748.5 616.6 L1744.4 624.9 L1742.3 639.4 L1743.4 651.8 L1738.2 660.1 L1737.1 672.5 L1735.1 693.2 L1732 703.5 L1733 713.9 L1737.1 724.2 L1741.3 738.7 L1742.3 753.2 L1744.4 769.8 L1749.6 782.2 L1751.6 785.9M1799.2 785.9 L1801.3 776 L1807.5 763.6 L1810.6 749.1 L1811.7 738.7 L1810.6 726.3 L1808.6 716 L1804.4 706.6 L1799.2 697.3 L1794.1 687 L1789.9 676.6 L1793 667.3 L1789.9 655.9 L1789.9 650.8 L1795.1 639.4 L1797.2 627 L1796.1 614.5 L1802.3 604.2 L1803.4 598 L1811.7 592.8 L1822 591.8 L1830.3 587.6 L1826.1 599 L1822 603.2M1802.3 583.5 L1817.9 582.5 L1829.2 577.3 L1834.4 569 L1843.7 564.9 L1841.7 558.7 L1838.6 548.3 L1842.7 540 L1848.9 534.8M1817.9 542.1 L1821 546.2 L1817.9 555.5 L1815.8 551.4 L1817.9 542.1M1848.9 534.8 L1865.5 535.9 L1873.8 544.2 L1882 551.4 L1894.4 553.5 L1904.8 557.6 L1914.1 560.7 L1919.3 570 L1915.1 574.2 L1919.3 583.5 L1922.4 592.8 L1923.4 604.2 L1922.4 614.5 L1918.3 622.8 L1916.2 632.1 L1911 639.4 L1902.7 647.7 L1904.8 658 L1914.1 662.1 L1921.4 655.9 L1927.6 647.7 L1930.7 639.4 L1937.9 634.2 L1948.3 632.1 L1956.5 639.4 L1961.7 649.7 L1965.9 662.1 L1970 674.6 L1977.2 683.9M1894.4 523.5 L1904.8 518.3 L1913.1 533.8 L1933.8 544.2 L1946.2 550.4 L1951.4 558.7 L1955.5 571.1 L1960.7 583.5 L1966.9 604.2 L1973.1 624.9 L1979.3 643.5 L1982.4 658 L1979.3 675.6 L1977.2 687 L1977.2 701.5 L1976.2 713.9M1865.5 488.3 L1873.8 498.6 L1886.2 500.7 L1902.7 500.7 L1919.3 502.8 L1935.8 500.7 L1948.3 499.7 L1964.8 500.7 L1981.4 499.7 L1991.7 504.8 L2008.3 503.8 L2018.6 505.9 L2029 516.2 L2037.3 524.5 L2049.7 530.7 L2055.9 542.1 L2062.1 551.4 L2065 556.6M1906.9 519.3 L1919.3 521 L1937.9 518.3 L1952.4 513.1 L1969 511 L1977.2 519.3 L1981.4 524.5 L1971 532.8 L1954.5 528.6 L1937.9 526.6 L1923.4 523.5 L1906.9 519.3M2065 579.4 L2060 581.4 L2051.8 582.5 L2043.5 580.4 L2033.1 575.2 L2025.9 581.4 L2024.8 573.1 L2018.6 564.9 L2012.4 565.9 L2006.2 558.7 L2003.1 549.3 L1993.8 549.3 L1983.4 551.4 L1993.8 560.7 L2002.1 569 L2008.3 577.3 L2009.3 585.6 L2004.1 598 L1999 608.3 L1996.9 622.8 L2000 637.3 L2003.1 649.7 L2004.1 660.1 L2000 669.4 L1991.7 678.7 L1985.5 684.9 L1978.3 683.9M1976.2 713.9 L1963.8 714.9 L1961.7 724.2 L1966.9 727.3M1976.2 713.9 L1972.1 720.1 L1983.4 725.3 L1979.3 733.6 L1966.9 733.6 L1960.7 735.6 L1953.4 742.9 L1952.4 755.3 L1955.5 757.4M1946.2 761.5 L1953.4 765.6 L1960.7 767.7 L1969 769.8 L1977.2 768.7 L1979.3 778.1M1952.4 755.3 L1960.7 757.4 L1969 756.3 L1977.2 753.2 L1985.5 744.9 L1995.9 736.7 L2008.3 731.5 L2016.6 718 L2024.8 707.7 L2035.2 702.5 L2047.6 700.4 L2065 701.5M1979.3 778.1 L1987.6 769.8 L2002.1 757.4 L2018.6 744.9 L2037.3 732.5 L2051.8 724.2 L2065 718M1942.1 773.9 L1948.3 778.1 L1956.5 782.2 L1965.9 784.3 L1975.2 785.9M1989.7 785.9 L2002.1 784.3 L2010.4 781.2 L2018.6 776 L2029 771.8 L2035.2 765.6 L2039.3 759.4 L2047.6 753.2 L2055.9 747 L2065 741.8M2089.8 647.7 L2094 637.3 L2100.2 628 L2114.7 612.5 L2127.1 606.3 L2145.7 599 L2164.4 591.8 L2174.7 585.6 L2185 577.3 L2197.5 573.1 L2209.9 566.9 L2222.3 562.8 L2230.6 555.5 L2240.9 548.3M2174.7 585.6 L2180.9 591.8 L2193.3 594.9 L2201.6 585.6 L2197.5 577.3 L2209.9 571.1 L2207.8 579.4 L2214 573.1M2120.9 643.5 L2116.7 634.2 L2127.1 627 L2147.8 618.7 L2178.8 610.4 L2209.9 604.2 L2216.1 595.9 L2220.2 579.4 L2226.4 569 L2240.9 548.3M2089.8 647.7 L2096 655.9 L2106.4 654.9 L2116.7 649.7 L2120.9 643.5 L2133.3 639.4 L2151.9 634.2 L2168.5 632.8 L2187.1 633.2 L2205.7 628 L2217.1 622.8 L2224.4 615.6 L2230.6 608.3 L2239.9 603.2 L2238.9 592.8 L2232.7 583.5 L2236.8 577.3 L2239.9 571.1M2065 695.3 L2077.4 684.9 L2096 676.6 L2116.7 670.4 L2129.2 667.3 L2136.4 671.5M2065 716 L2085.7 699.4 L2106.4 687 L2125 674.6 L2135.4 671.5M2065 741.8 L2073.3 736.7 L2089.8 722.2 L2102.3 713.9 L2116.7 699.4 L2125 689.1 L2131.2 678.7 L2135.4 671.5M2240.9 548.3 L2251.3 529.7 L2263.7 513.1 L2274.1 503.8 L2282.3 499.7M1755.8 792.2 L1762 801.5 L1770.3 802.6 L1777.5 800.5 L1784.7 795.3 L1791 789.1M1964.8 789.1 L1979.3 786" fill="none" stroke="#000" stroke-width="4.3" stroke-dasharray="4.3 6.75" stroke-linejoin="round"/>
<path d="M251 345.8 L257.9 352 L258.3 364.4 L256.4 381 L261 386.2 L278.6 393.8 L292 391.7 L302.4 394.4 L312.7 398.6 L318.9 404.8 L331.3 406.9 L356.2 410 L372.7 408.9 L393.4 409.5 L405.8 412 L412.1 410.6 L439 419.3 L467.9 427.6 L498 435.8M535 279.6 L530 306.5 L521.8 339.6 L513.5 370.6 L505.2 401.7 L500 418.2 L499 435.8 L502.1 443.1 L509.3 454.5 L508.3 463.8 L501.1 474.1 L496.9 479.9M632.3 181.2 L638.5 183.3 L644.7 188.5 L649.3 199.9 L648.8 211.3 L649.9 222.6 L646.8 227.8 L646.4 236.1 L639.5 247.5 L645.7 250.6 L642.6 256.8 L648.4 270.2 L656.1 277.5 L658.8 287.4M843.4 180.2 L837.2 215.4 L829.9 256.8 L822.7 296.1 L817.5 321.4M542.2 260.9 L535 286.8M579.5 273.4 L573.3 298.2 L564 328.2 L570.2 339.6 L572.7 352 L571.2 361.3 L573.3 368.6 L582.6 377.9 L586.7 387.2 L591.9 401.7 L595 410 L599.2 415.1 L614.7 424.4 L608.5 436.9 L603.3 447.2 L600.2 459.6 L599.2 470 L593 479.9M1045 425.5 L1042.1 479.9M1163 180.2 L1161.9 256.8 L1160.5 360.3M1409.3 181.2 L1409.7 349.9M1053.3 361.3 L1049.1 401.7 L1045 461.7M1326.5 373.7 L1329 385.1 L1329.6 412 L1330.6 426.5 L1334.8 443.1 L1338.9 459.6 L1339.9 479.9M2007.3 183.3 L2010.4 205 L2018.6 240.2 L2026.9 281.6 L2035.2 318.9 L2041.4 356.1 L2047.6 385.1 L2049.7 401.7 L2055.9 412 L2060 422.4 L2065 430.7M2065 427.6 L2073.3 436.9 L2083.6 449.3 L2091.9 457.6 L2106.4 461.3 L2141.6 461.7 L2154 465.8 L2164.4 474.1 L2174.7 479.9M2180.9 471 L2189.2 479.9M2243 479.9 L2255.4 470 L2269.9 463.4 L2280.3 462.7 L2287.5 465.8 L2288.1 479.9M2427.2 441 L2433.4 453.4 L2437.6 467.9 L2441.7 479.9M2414.8 463.8 L2414.8 479.9M2489.3 294 L2490.3 281.6 L2491.4 271.3 L2486.2 252.7 L2495.5 244.4 L2512.1 238.2 L2522.4 242.3 L2532.8 238.2 L2541.1 234 L2545.2 224.7M119.2 569 L169.9 587.6 L232 609.4 L296.1 630.1 L356.2 648.7 L427.6 669.4 L480.4 683.9 L535 697.3M496.9 480 L482.4 497.6 L467.9 514.2 L459.7 524.5 L460.7 533.8 L470 541.1 L465.9 552.4 L458.6 561.8 L455.5 577.3 L449.3 604.2 L441 633.2 L433.8 655.9 L427.6 669.4M296.1 630.1 L287.9 662.1 L277.5 699.4 L267.2 734.6 L256.8 767.7 L250.6 785.9M588.8 480 L596.1 491.4 L605.4 489.3 L614.7 484.1 L620.9 492.4 L621.9 511 L627.1 524.5 L625 534.8 L630.2 544.2 L638.5 549.3 L640.6 562.8 L642.6 570 L650.9 566.9 L661.3 571.1 L669.5 568 L682 571.1 L692.3 574.2 L703.7 575.2 L707.8 566.9 L715.1 568 L719.2 578.3 L724.4 575.2 L727.5 553.5 L736.8 553.5 L804.1 565.9 L886.9 579.4 L969.7 590.7 L1028.6 598M721.3 579.4 L717.1 612.5 L710.9 641.4 L704.7 674.6 L698.5 707.7 L693.3 730.4 L688.2 753.2 L683 785.9M535 696.3 L561.9 703.5 L628.1 718 L693.3 730.4M559.8 704.6 L553.6 728.4 L547.4 755.3 L539.1 785.9M1040 480 L1034.9 538 L1028.6 598 L1021.4 655.9 L1015.2 720.1 L1008 785.9M1034.9 540 L1045 541.7M1015.2 720.1 L1045 722.2M1045 541.1 L1107.1 548.3 L1189.9 554.5 L1272.7 558.2 L1349.3 559.7M1339.9 480 L1341 515.2 L1344.1 527.6 L1349.3 535.9 L1351.3 548.3 L1350.3 562.8 L1346.2 570 L1337.9 578.3 L1342 587.6 L1349.3 592.8 L1354.4 599 L1354.4 645.6 L1353.4 707.7M1349.3 708.7 L1459 707.7 L1555 704.6M1349.3 708.7 L1346.8 712.9 L1349.3 724.2 L1353.4 731.5 L1349.3 742.9 L1345.1 755.3 L1348.2 767.7 L1355.5 773.9 L1357.5 785.9M1045 722.2 L1107.1 728.4 L1189.9 733.6 L1261.3 736.7 L1268.5 740.8 L1276.8 747 L1285.1 748 L1293.4 744.9 L1312 745.3 L1320.3 750.1 L1334.8 757.4 L1348.2 767.7M1555 488.3 L1543.8 496.6 L1533.5 509 L1530.4 519.3 L1531.4 544.2 L1527.3 551.4 L1514.8 559.7 L1508.6 569 L1506.6 577.3 L1515.9 585.6 L1513.8 602.1 L1512.8 612.5 L1513.8 627 L1519 635.2 L1529.3 640.4 L1541.8 647.7 L1550 653.9 L1555 662.1M1592.3 511 L1610.9 516.2 L1619.2 524.5 L1625.4 528.6 L1648.1 533.8 L1668.8 539 L1679.2 542.1 L1699.9 543.1 L1709.2 549.3 L1718.5 555.5 L1723.7 562.8 L1722.7 574.2 L1728.9 583.5 L1735.1 592.8 L1737.1 594.9M1615 761.5 L1679.2 757.4 L1742.3 753.2M1555 658 L1565.3 666.3 L1575.7 672.5 L1580.9 678.7 L1581.9 691.1 L1585 707.7 L1590.2 714.9 L1588.1 728.4 L1591.2 740.8 L1596.4 747 L1608.8 753.2 L1615 761.5 L1617.1 766.7 L1624.3 772.9 L1632.6 782.2M1555 704.6 L1579.8 703.1M1799.2 785.9 L1844.8 784.3 L1886.2 781.2 L1927.6 777 L1942.1 773.9M2338.2 484.1 L2340.3 492.4 L2346.5 511 L2351.7 525.5 L2352.7 540 L2356.8 552.4 L2359.9 566.9 L2367.2 569 L2371.3 579.4 L2374.4 591.8 L2377.5 604.2 L2379.6 616.6M2414.8 480 L2421 488.3 L2418.9 496.6 L2406.5 509 L2407.6 525.5 L2404.4 548.3 L2405.5 566.9 L2408.6 587.6 L2409.6 602.1 L2414.8 606.3M2443.8 484.1 L2452.1 506.9 L2460.3 529.7 L2468.6 548.3 L2476.9 556.6M2379.6 616.6 L2414.8 606.3 L2464.5 592.8 L2470.7 585.6 L2476.9 579.4 L2479 577.3M2379.6 616.6 L2380.6 655.9 L2382.7 666.3 L2387.9 684.9 L2392 697.3 L2396.2 707.7 L2390 716 L2391 722.2M2382.7 659 L2412.7 652.8 L2450 640.4 L2475.9 634.2 L2481 643.5 L2483.1 651.8M2456.2 641.4 L2462.4 655.9 L2466.5 670.4 L2467.6 676.6M2103.3 726.3 L2112.6 728.4 L2168.5 716 L2230.6 700.4 L2272 690.1 L2294.7 685.9 L2305.1 687 L2315.4 693.2 L2321.7 703.5 L2329.9 709.7 L2338.2 713.9M2101.2 713.9 L2103.9 726.3M2338.2 713.9 L2379.6 726.3M2338.2 713.9 L2334.1 726.3 L2327.9 740.8 L2332 749.1 L2327.9 759.4 L2332 767.7 L2342.4 776 L2354.8 785.9M2071.2 736.7 L2075.3 759.4 L2081.6 785.9M250.6 786 L243.4 804.6 L294.1 885.4 L356.2 984.7 L418.3 1084.1 L422.4 1091.9M535 804.6 L530 827.4 L521.8 868.8 L511.4 920.5 L501.1 968.1 L494.8 993 L488.6 1013.7 L480.4 1044.7 L472.1 1055.1 L466.9 1056.1 L461.7 1048.9 L453.4 1044.7 L445.2 1045.8 L441 1053 L441 1067.5 L439 1082 L437.9 1091.9M500 1002.3 L535 1010.6M542.2 786 L535 817M683 786 L682 790.6 L771 807.7 L886.9 825.3 L1001.7 838.8 L1045 844M1001.7 838.8 L1009 786M771 807.7 L762.7 856.4 L750.3 939.2 L738.9 1005.4 L730.6 1047.8 L722.3 1091.9M535 1009.5 L597.1 1023 L659.2 1034.4 L730.6 1047.8 L824.8 1062.3 L928.3 1075.8 L1045 1088.2M1045 842.9 L1091.6 848.1 L1093.6 852.2 L1089.5 910.2 L1084.3 972.3 L1079.2 1034.4 L1075 1091.9M1089.5 909.2 L1189.9 916.4 L1293.4 920.5 L1396.9 921.6M1356.5 786 L1365.8 800.5 L1368.9 812.9 L1370 827.4 L1376.2 833.6 L1379.3 848.1 L1379.9 868.8 L1378.2 877.1 L1384.4 887.4 L1387.6 898.8 L1394.8 906 L1400 920.5 L1411.4 928.8 L1422.7 930.9 L1417.6 941.2 L1415.5 949.5 L1423.8 964 L1437.2 975.4 L1438.3 1034.4 L1438.3 1091.9M1387.6 885.4 L1459 883.3 L1555 880.2M1045 1088.2 L1074 1091.3M1638.8 786 L1637.8 798.4 L1632.6 809.8 L1625.4 820.2 L1615 825.3 L1604.7 828.4 L1599.5 835.7 L1601.6 846 L1605.7 854.3 L1600.5 866.7 L1594.3 877.1 L1586 885.4 L1584 893.6 L1581.9 906 L1584 918.5 L1588.1 930.9 L1598.5 940.2 L1608.8 949.5 L1617.1 957.8 L1623.3 968.1 L1626.4 976.4 L1631.6 981.6 L1637.8 978.5 L1646.1 979.5 L1652.3 984.7 L1649.2 997.1 L1644 1009.5 L1641.9 1019.9 L1648.1 1027.1 L1658.5 1034.4 L1670.9 1041.6 L1681.3 1048.9 L1686.4 1055.1 L1687.5 1063.4 L1690.6 1071.6 L1689.5 1079.9 L1693.7 1087.2 L1699.9 1091.9M1555 880.2 L1569.5 880.2 L1575.7 885.4 L1584 893.6M1755.8 792.2 L1759.9 802.6 L1762 827.4 L1766.1 868.8 L1770.3 910.2 L1772.3 939.2 L1768.2 953.7 L1774.4 964 L1777.5 974.4 L1774.4 986.8 L1770.3 995.1 L1762 1005.4 L1756.8 1012.6 L1756.8 1024 L1757.8 1038.5M1699.9 1091.9 L1710.2 1082 L1720.6 1079.9 L1733 1084.1 L1741.3 1086.1 L1739.2 1073.7 L1743.4 1064.4 L1752.7 1059.2 L1754.7 1046.8 L1757.8 1038.5 L1765.1 1032.3 L1774.4 1033.3 L1779.6 1027.1 L1788.9 1028.2 L1798.2 1033.3 L1805.4 1027.1 L1812.7 1022 L1823 1027.1 L1830.3 1019.9 L1833.4 1010.6 L1839.6 1008.5 L1844.8 1015.7 L1853.1 1017.8 L1858.2 1012.6 L1861.3 1002.3 L1867.5 996.1 L1874.8 984.7 L1878.9 969.2 L1890.3 969.2 L1902.7 963 L1906.9 955.7 L1902.7 947.4 L1902.7 940.2M1883.1 786 L1886.2 806.7 L1891.3 858.4 L1897.6 910.2 L1902.7 940.2M1793 791.2 L1824.1 789.1 L1865.5 786M1902.7 940.2 L1911 941.2 L1921.4 940.2 L1927.6 945.4 L1933.8 954.7 L1942.1 956.8 L1952.4 958.8 L1958.6 961.9 L1966.9 957.8 L1977.2 961.9 L1987.6 956.8 L1996.9 952.6 L2004.1 959.9 L2013.5 966.1 L2022.8 967.1 L2028 959.9 L2031.1 947.4 L2031.1 937.1 L2037.3 927.8 L2044.5 934 L2047.6 922.6 L2048.6 912.3 L2055.9 904 L2065 899.8M2013.5 966.1 L2016.6 976.4 L2015.5 984.7 L2024.8 995.1 L2035.2 1007.5 L2045.5 1013.7 L2053.8 1017.8 L2060 1027.1 L2065 1030.2M2053.8 1017.8 L2045.5 1026.1 L2031.1 1040.6 L2020.7 1053 L2010.4 1065.4 L1995.9 1077.8 L1983.4 1086.1M1927.6 1091.9 L1983.4 1085.1 L2065 1073.7M2081.6 786 L2085.7 806.7 L2089.8 833.6 L2094 854.3 L2098.1 871.9 L2145.7 863.6 L2209.9 851.2 L2272 837.7 L2317.5 825.3 L2325.8 815 L2334.1 805.7 L2342.4 798.4 L2356.8 787M2081.6 823.3 L2085.7 835.7 L2083.6 854.3 L2082.6 879.1 L2075.3 889.5 L2065 899.8M2145.7 863.6 L2148.8 877.1 L2150.9 890.5 L2157.1 888.5 L2166.4 877.1 L2176.8 867.8 L2185 864.7 L2195.4 865.7 L2200.6 857.4M2200.6 868.8 L2209.9 871.9 L2220.2 877.1 L2229.5 882.2 L2230.6 872.9 L2228.5 862.6 L2222.3 854.3 L2217.1 852.6M2230.6 868.8 L2243 872.9 L2251.3 880.2 L2261.6 884.3 L2272 887.4M2200.6 868.8 L2202.6 881.2 L2197.5 895.7 L2187.1 908.1 L2178.8 914.3 L2174.7 926.7 L2170.6 937.1 L2162.3 939.2 L2154 933 L2150.9 943.3 L2147.8 955.7 L2143.7 968.1 L2137.4 980.6 L2132.3 993 L2134.3 1001.3 L2129.2 1009.5 L2120.9 1008.5 L2112.6 1013.7 L2102.3 1022 L2091.9 1027.1 L2085.7 1024 L2075.3 1033.3 L2065 1031.3M2317.5 825.3 L2321.7 839.8 L2329.9 868.8 L2338.2 898.8 L2363.1 893.6M2065 1072.7 L2147.8 1057.1 L2230.6 1041.6 L2292.7 1028.2 L2352.7 1015.7M2075.3 1072.7 L2077.4 1082 L2069.1 1091.9M422.4 1092 L430.7 1109.6 L433.8 1123 L437.9 1141.7 L447.2 1156.2 L441 1163.4 L430.7 1171.7 L422.4 1183.1 L419.3 1195.5 L410 1204.8 L402.7 1214.1 L401.7 1224.5 L407.9 1232.7 L411 1241 L403.8 1250.3 L395.5 1252.4M437.9 1092 L435.9 1100.3 L430.7 1110.2M725.4 1092 L715.1 1141.7 L704.7 1195.5 L694.4 1257.6 L684 1319.7 L675.7 1371.4 L671.6 1394.6M808.2 1384.9 L808.2 1381.8 L804.1 1373.5 L886.9 1383.8 L949 1391.1 L994.5 1395.2 L996.6 1381.8 L1002.8 1319.7 L1009 1257.6 L1015.2 1195.5 L1021.4 1133.4 L1024.5 1118.9 L1027.6 1092M1024.5 1118.9 L1045 1122M1045 1092 L1096.7 1095.1 L1169.2 1099.9 L1252 1103.4 L1334.8 1105.2 L1438.3 1105.7M1045 1121 L1107.1 1126.2 L1171.3 1130.3 L1171.7 1133.4 L1169.2 1195.5 L1166.1 1247.2 L1173.3 1253.4 L1181.6 1260.7 L1194 1261.7 L1199.2 1257.6 L1205.4 1263.8 L1206.4 1272.1 L1214.7 1274.1 L1225.1 1277.2 L1235.4 1276.2 L1242.7 1283.5 L1252 1279.3 L1261.3 1280.4 L1262.3 1287.6 L1268.5 1293.8 L1272.7 1296.9 L1278.9 1293.8 L1285.1 1288.6 L1293.4 1295.9 L1301.7 1299 L1307.9 1297.9 L1311 1306.2 L1319.2 1292.8 L1326.5 1297.9 L1336.8 1295.9 L1343.1 1303.1 L1352.4 1308.3 L1361.7 1301.1 L1370 1297.9 L1380.3 1297.9 L1390.7 1293.8 L1400 1297.9 L1409.3 1292.8 L1419.6 1299 L1427.9 1305.2 L1438.3 1309.3 L1448.6 1311.4 L1453.8 1315.5 L1469.3 1316.6 L1472.4 1319.7 L1472.4 1350.7 L1472.4 1397.9M1438.3 1092 L1439.3 1136.5 L1443.4 1164.4 L1448.6 1199.6 L1449.6 1236.9 L1448.6 1278.3 L1447.6 1311.4M1439.3 1136.5 L1500.4 1135.1 L1555 1133M1472.4 1350.7 L1555 1348.7M1555 1133 L1606.7 1129.3 L1656.4 1127.2 L1662.6 1131.3 L1666.8 1139.6 L1658.5 1152 L1650.2 1159.3 L1683.3 1157.2M1699.9 1092 L1708.2 1094.1 L1711.3 1102.3 L1708.2 1112.7 L1703 1118.9 L1695.7 1122 L1689.5 1127.2 L1687.5 1137.5 L1685.4 1147.9 L1683.3 1157.2 L1686.4 1163.4 L1679.2 1172.7 L1674 1183.1 L1669.9 1195.5 L1668.8 1206.9 L1662.6 1216.2 L1658.5 1220.3 L1654.4 1228.6 L1648.1 1236.9 L1646.1 1251.4 L1639.9 1259.7 L1631.6 1270 L1629.5 1278.3 L1624.3 1285.5 L1625.4 1294.8 L1618.1 1303.1 L1617.1 1311.4 L1622.3 1319.7 L1621.2 1328 L1625.4 1334.2 L1621.2 1345.6 L1626.4 1350.7 L1623.3 1361.1 L1625.4 1371.4 L1628.5 1379.7 L1635.7 1388 L1632.6 1397.9M1703 1123 L1726.8 1121 L1759.9 1118.9 L1764.1 1113.7 L1764.1 1107.5 L1824.1 1101.3 L1886.2 1094.5 L1927.6 1091M1658.5 1220.3 L1699.9 1216.2 L1768.2 1211 L1813.7 1204.8 L1896.5 1197.6 L1960.7 1189.3 L2020.7 1181M1768.2 1211 L1771.3 1236.9 L1771.3 1299 L1770.3 1361.1 L1768.2 1397.9M1896.5 1197.6 L1906.9 1236.9 L1917.2 1278.3 L1927.6 1309.3 L1937.9 1332.1 L1948.3 1346.6 L1953.4 1361.1 L1947.2 1369.4 L1946.2 1385.9 L1948.3 1397.9M2065 1098.2 L2051.8 1108.6 L2039.3 1117.9 L2024.8 1121 L2010.4 1133.4 L1995.9 1145.8 L1981.4 1152 L1973.1 1160.3 L1971 1168.6 L1961.7 1173.8 L1960.7 1189.3M2020.7 1181 L2041.4 1168.6 L2055.9 1160.3 L2065 1159.3M2020.7 1181 L2012.4 1195.5 L2020.7 1203.8 L2033.1 1211 L2041.4 1212 L2047.6 1222.4 L2055.9 1232.7 L2065 1239M1555 1348.7 L1621.2 1345.6M2065 1160.3 L2096 1156.2 L2123 1153.1 L2126.1 1158.2 L2131.2 1155.1 L2137.4 1161.3 L2140.5 1170.7 L2197.5 1161.3 L2261.6 1203.8M2065 1239 L2073.3 1245.2 L2081.6 1255.5 L2094 1261.7 L2099.2 1270 L2108.5 1279.3 L2120.9 1285.5 L2127.1 1295.9 L2133.3 1307.3 L2143.7 1315.5 L2149.9 1325.9 L2151.9 1334.2 L2158.1 1339.3 L2166.4 1339.3M1472.4 1404.2 L1472.4 1414.6 L1481.7 1423.9 L1484.8 1435.3 L1490 1443.5 L1494.1 1453.9 L1501.4 1466.3 L1502.4 1472.5 L1499.3 1484.9 L1495.2 1501.5 L1492.1 1513.9 L1493.1 1524.3 L1492.1 1534.6 L1485.9 1540.8M1632.6 1398 L1629.5 1406.3 L1621.2 1413.5 L1615 1420.8 L1610.9 1433.2 L1606.7 1445.6 L1604.7 1458 L1602.6 1471.5 L1637.8 1469.4 L1679.2 1466.7 L1703 1465.9 L1705.1 1472.5 L1702 1482.9 L1704 1491.1 L1710.2 1497.4 L1715.4 1507.7 L1717.5 1512.9M1768.2 1398 L1770.3 1418.7 L1774.4 1449.7 L1777.5 1476.7 L1780.6 1497.4M1822 1454.9 L1886.2 1447.7 L1956.5 1439.4 L1960.7 1442.5 L1963.8 1448.7 L1969 1456 L2010.4 1453.5 L2065 1449.3M1822 1454.9 L1821 1464.2 L1828.2 1472.5 L1832.4 1480.8 L1831.3 1491.1M1948.3 1398 L1952.4 1408.3 L1952.4 1422.8 L1956.5 1433.2 L1956.5 1439.4M2065 1449.3 L2085.7 1447.3 L2113.6 1445.6 L2123 1440.4 L2120.9 1431.1 L2127.1 1427 L2143.7 1429 L2147.8 1423.9M2113.6 1445.6 L2116.7 1456 L2124 1452.8 L2123 1441.5M2173.9 478.3 L2180.1 471.2 L2188.4 482.4 L2200.8 489.4 L2217.3 488.6 L2233.9 482.4 L2254.6 467.9 L2271.2 462.5 L2285.6 462.9" fill="none" stroke="#000" stroke-width="4.3" stroke-dasharray="7 4.05" stroke-linejoin="round"/>
<path d="M322 189.5 L364.4 203.4 L415.2 219.9 L465.9 236.1 L535 257.2M535 255.8 L584.7 269.6 L654 287.4M817.5 321.4 L870.3 330.7 L926.2 339.6 L986.2 348.9 L1045 355.7M1045 355.1 L1107.1 361.3 L1158.8 365.5 L1231.3 369.6 L1293.4 372.7 L1326.5 373.7 L1409.3 374.4 L1409.7 349.9 L1417.6 352 L1421.3 356.1 L1422.7 370.6 L1426.9 385.1 L1432.1 390.3 L1450.7 393.4 L1461 398.6 L1467.2 401.7 L1475.5 400.6 L1483.8 395.5 L1496.2 395.5 L1510.7 402.7 L1519 410 L1522.1 416.2 L1529.3 411 L1539.7 415.1 L1548 422.4 L1555 426.5M1555 426.5 L1563.3 425.5 L1570.5 421.3 L1577.8 417.2 L1584 416.6 L1589.2 421.3 L1615 420.3 L1621.2 425.5 L1637.8 424.9 L1646.1 418.2M2350.6 479.9 L2375.5 474.1 L2414.8 463.8 L2415.8 447.2 L2421 443.1 L2427.2 441 L2437.6 428.6 L2441.7 422.4 L2438.6 418.2 L2443.8 407.9 L2448.9 393.4 L2443.8 378.9 L2443.8 368.6 L2447.9 360.3 L2444.8 343.7 L2447.9 331.3 L2454.1 310.6 L2460.3 290.9 L2468.6 290.3 L2470.7 298.2 L2477.9 302.3 L2489.3 294 L2499.7 283.7 L2512.1 286.8 L2524.5 293 L2530.7 308.5 L2539 331.3 L2547.3 354.1 L2551.4 366.5 L2557.6 373.7 L2565.9 368.6 L2572.1 374.8 L2575 383.1M2120.9 643.5 L2123 655.9 L2129.2 663.2 L2135.4 671.5M2282.3 499.7 L2308.2 492.4 L2338.2 484.1 L2363.1 480M271.3 1227.6 L314.8 1235.9 L356.2 1243.1 L391.4 1249.3 L395.5 1252.4 L386.2 1259.7 L418.3 1280.4 L459.7 1306.2 L501.1 1332.1 L535 1353.8M535 1354.9 L568.1 1376.6 L617.8 1385.9 L671.6 1394.6 L700.6 1397.9M717.1 1397.9 L720.2 1378.7 L725.4 1374.5 L762.7 1380.7 L804.1 1386.9 L808.2 1384.9 L816.5 1392.1 L820.6 1397.9M818.6 1398 L822.7 1406.3 L828.9 1413.5 L839.3 1423.9 L849.6 1435.3 L857.9 1445.6 L866.2 1453.9 L876.5 1462.2 L884.8 1470.4 L890 1482.9 L894.1 1495.3 L895.1 1505.6 L894.1 1516 L899.3 1528.4 L905.5 1536.7 L913.8 1545 L922.1 1553.2 L929.3 1558.4 L938.6 1562.5 L946.9 1568.8 L955.2 1575 L961.4 1580.1 L969.7 1581.2 L975.9 1578.1 L983.1 1572.9 L989.3 1563.6 L992.4 1553.2 L996.6 1545 L1004.8 1538.7 L1015.2 1536.7 L1024.5 1532.5 L1031.8 1536.7 L1045 1539.8M675.7 1398 L696.4 1400.1 L715.1 1402.1 L718.2 1398M1045 1539.8 L1057.4 1540.8 L1069.8 1541.9 L1076 1549.1 L1082.3 1556.3 L1090.5 1563.6 L1096.7 1573.9 L1105 1581.2 L1110.2 1590.5 L1112.3 1601.9 L1117.4 1611.2 L1123.7 1621.5 L1125.7 1631.9 L1129.9 1640.2 L1137.1 1648.4 L1143.3 1656.7 L1148.5 1667.1 L1154.7 1675.4 L1164 1682.6 L1169.2 1690.9 L1168.2 1703.9M1141.2 1653 L1146.4 1665.4 L1154.7 1676.8 L1165 1684 L1169.2 1692.3 L1167.1 1702.7 L1171.3 1713 L1171.3 1721.3 L1177.5 1730.6 L1182.6 1742 L1185.7 1754.4 L1189.9 1761.7 L1202.3 1765.8 L1210.6 1772 L1220.9 1775.1 L1231.3 1780.3 L1239.6 1785.5 L1252 1787.5 L1262.3 1788.6 L1272.7 1791.7 L1282 1797.9 L1291.3 1795.8 L1296.5 1789.6" fill="none" stroke="#000" stroke-width="4.3" stroke-dasharray="8.3 2.75" stroke-linejoin="round"/>
<path d="M654 287.4 L704.7 298.2 L762.7 310.2 L817.5 321.4" fill="none" stroke="#000" stroke-width="4.2" stroke-linejoin="round"/>

</g>
<rect x="30.5" y="178.5" width="2790" height="1763" fill="none" stroke="#000" stroke-width="3.2"/>
<g>
<rect x="2994.0" y="1595.4" width="74.5" height="134.8" fill="#053061"/><rect x="2994.0" y="1461.2" width="74.5" height="134.8" fill="#256baf"/><rect x="2994.0" y="1327.0" width="74.5" height="134.8" fill="#559ec9"/><rect x="2994.0" y="1192.8" width="74.5" height="134.8" fill="#a7d0e4"/><rect x="2994.0" y="1058.6" width="74.5" height="134.8" fill="#e2edf3"/><rect x="2994.0" y="924.4" width="74.5" height="134.8" fill="#fae7dc"/><rect x="2994.0" y="790.2" width="74.5" height="134.8" fill="#f7b799"/><rect x="2994.0" y="656.0" width="74.5" height="134.8" fill="#dd6f59"/><rect x="2994.0" y="521.8" width="74.5" height="134.8" fill="#b6202f"/><rect x="2994.0" y="387.6" width="74.5" height="134.8" fill="#67001f"/><path d="M2994.0 388.1L3031.25 317.4L3068.5 388.1Z" fill="#67001f"/><path d="M2994.0 1729.1L3031.25 1799.8L3068.5 1729.1Z" fill="#053061"/><path d="M2994.0 387.6L3031.25 317.4L3068.5 387.6L3068.5 1729.6L3031.25 1799.8L2994.0 1729.6Z" fill="none" stroke="#000" stroke-width="3.3" stroke-linejoin="miter"/><path d="M3070.0 1729.6h14.6" stroke="#000" stroke-width="3.3"/><text x="3100" y="1744.8" font-size="42.6" textLength="62.5" lengthAdjust="spacingAndGlyphs">0.0</text><path d="M3070.0 1595.4h14.6" stroke="#000" stroke-width="3.3"/><text x="3100" y="1610.6" font-size="42.6" textLength="62.5" lengthAdjust="spacingAndGlyphs">0.1</text><path d="M3070.0 1461.2h14.6" stroke="#000" stroke-width="3.3"/><text x="3100" y="1476.4" font-size="42.6" textLength="62.5" lengthAdjust="spacingAndGlyphs">0.2</text><path d="M3070.0 1327.0h14.6" stroke="#000" stroke-width="3.3"/><text x="3100" y="1342.2" font-size="42.6" textLength="62.5" lengthAdjust="spacingAndGlyphs">0.3</text><path d="M3070.0 1192.8h14.6" stroke="#000" stroke-width="3.3"/><text x="3100" y="1208.0" font-size="42.6" textLength="62.5" lengthAdjust="spacingAndGlyphs">0.4</text><path d="M3070.0 1058.6h14.6" stroke="#000" stroke-width="3.3"/><text x="3100" y="1073.8" font-size="42.6" textLength="62.5" lengthAdjust="spacingAndGlyphs">0.5</text><path d="M3070.0 924.4h14.6" stroke="#000" stroke-width="3.3"/><text x="3100" y="939.6" font-size="42.6" textLength="62.5" lengthAdjust="spacingAndGlyphs">0.6</text><path d="M3070.0 790.2h14.6" stroke="#000" stroke-width="3.3"/><text x="3100" y="805.4" font-size="42.6" textLength="62.5" lengthAdjust="spacingAndGlyphs">0.7</text><path d="M3070.0 656.0h14.6" stroke="#000" stroke-width="3.3"/><text x="3100" y="671.2" font-size="42.6" textLength="62.5" lengthAdjust="spacingAndGlyphs">0.8</text><path d="M3070.0 521.8h14.6" stroke="#000" stroke-width="3.3"/><text x="3100" y="537.0" font-size="42.6" textLength="62.5" lengthAdjust="spacingAndGlyphs">0.9</text><path d="M3070.0 387.6h14.6" stroke="#000" stroke-width="3.3"/><text x="3100" y="402.8" font-size="42.6" textLength="62.5" lengthAdjust="spacingAndGlyphs">1.0</text><text transform="translate(3211 1062) rotate(-90)" text-anchor="middle" font-size="42.6" textLength="163" lengthAdjust="spacingAndGlyphs">Hit Rate</text>
</g>
</svg>
</body></html>
